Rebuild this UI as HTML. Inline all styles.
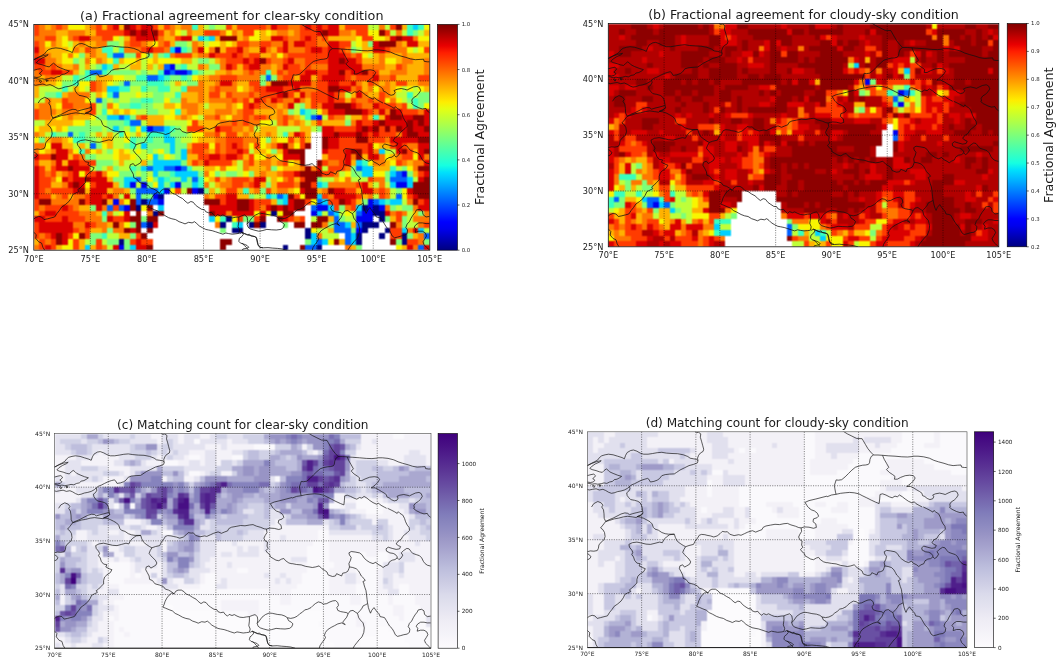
<!DOCTYPE html>
<html><head><meta charset="utf-8"><title>figure</title>
<style>html,body{margin:0;padding:0;background:#fff}svg{display:block}text{font-family:"DejaVu Sans","Liberation Sans",sans-serif;fill:#1a1a1a}</style></head><body>
<svg width="1064" height="671" viewBox="0 0 1064 671">
<rect width="1064" height="671" fill="#fff"/>
<defs>
<linearGradient id="gjet" x1="0" y1="0" x2="0" y2="1"><stop offset="0.000" stop-color="#800000"/><stop offset="0.031" stop-color="#9f0000"/><stop offset="0.062" stop-color="#c40000"/><stop offset="0.094" stop-color="#e80000"/><stop offset="0.125" stop-color="#ff1e00"/><stop offset="0.156" stop-color="#ff3b00"/><stop offset="0.188" stop-color="#ff5900"/><stop offset="0.219" stop-color="#ff7700"/><stop offset="0.250" stop-color="#ff9400"/><stop offset="0.281" stop-color="#ffb200"/><stop offset="0.312" stop-color="#ffd000"/><stop offset="0.344" stop-color="#feed00"/><stop offset="0.375" stop-color="#e4ff13"/><stop offset="0.406" stop-color="#caff2c"/><stop offset="0.438" stop-color="#b1ff46"/><stop offset="0.469" stop-color="#97ff60"/><stop offset="0.500" stop-color="#7dff7a"/><stop offset="0.531" stop-color="#63ff94"/><stop offset="0.562" stop-color="#49ffad"/><stop offset="0.594" stop-color="#30ffc7"/><stop offset="0.625" stop-color="#16ffe1"/><stop offset="0.656" stop-color="#00e0fb"/><stop offset="0.688" stop-color="#00c0ff"/><stop offset="0.719" stop-color="#00a0ff"/><stop offset="0.750" stop-color="#0080ff"/><stop offset="0.781" stop-color="#0060ff"/><stop offset="0.812" stop-color="#0040ff"/><stop offset="0.844" stop-color="#0020ff"/><stop offset="0.875" stop-color="#0000ff"/><stop offset="0.906" stop-color="#0000ed"/><stop offset="0.938" stop-color="#0000c8"/><stop offset="0.969" stop-color="#0000a4"/><stop offset="1.000" stop-color="#000080"/></linearGradient>
<linearGradient id="gPurples" x1="0" y1="0" x2="0" y2="1"><stop offset="0.000" stop-color="#3f007d"/><stop offset="0.031" stop-color="#440981"/><stop offset="0.062" stop-color="#491285"/><stop offset="0.094" stop-color="#4e1c8a"/><stop offset="0.125" stop-color="#53268f"/><stop offset="0.156" stop-color="#593093"/><stop offset="0.188" stop-color="#5e3b98"/><stop offset="0.219" stop-color="#64459e"/><stop offset="0.250" stop-color="#6950a3"/><stop offset="0.281" stop-color="#6f5ba8"/><stop offset="0.312" stop-color="#7566ae"/><stop offset="0.344" stop-color="#7a71b4"/><stop offset="0.375" stop-color="#807cba"/><stop offset="0.406" stop-color="#8784bd"/><stop offset="0.438" stop-color="#8e8bc1"/><stop offset="0.469" stop-color="#9692c4"/><stop offset="0.500" stop-color="#9e9ac8"/><stop offset="0.531" stop-color="#a5a2cd"/><stop offset="0.562" stop-color="#adabd2"/><stop offset="0.594" stop-color="#b4b4d7"/><stop offset="0.625" stop-color="#bcbddc"/><stop offset="0.656" stop-color="#c3c4e0"/><stop offset="0.688" stop-color="#cbcbe3"/><stop offset="0.719" stop-color="#d2d2e7"/><stop offset="0.750" stop-color="#dadaeb"/><stop offset="0.781" stop-color="#dfdfed"/><stop offset="0.812" stop-color="#e4e3f0"/><stop offset="0.844" stop-color="#eae8f2"/><stop offset="0.875" stop-color="#efedf5"/><stop offset="0.906" stop-color="#f2f0f7"/><stop offset="0.938" stop-color="#f5f4f9"/><stop offset="0.969" stop-color="#f9f7fb"/><stop offset="1.000" stop-color="#fcfbfd"/></linearGradient>
<filter id="bl" x="-2%" y="-2%" width="104%" height="104%" color-interpolation-filters="sRGB"><feConvolveMatrix order="3" kernelMatrix="1 2 1 2 4 2 1 2 1" divisor="16" edgeMode="duplicate" preserveAlpha="true"/></filter>
</defs>
<g id="panel-a">
<clipPath id="cqa"><rect x="33.80" y="24.40" width="396.00" height="225.80"/></clipPath>
<rect x="33.80" y="24.40" width="396.00" height="225.80" fill="#fff"/>
<g filter="url(#bl)" clip-path="url(#cqa)">
<rect x="30.80" y="21.40" width="402.00" height="231.80" fill="#fff"/>
<g shape-rendering="crispEdges" transform="translate(33.80 24.40) scale(5.65714 5.64500)">
<path fill="#ff3b00" d="M0 0h1v1h-1zM4 0h1v1h-1zM11 0h1v1h-1zM13 0h1v1h-1zM18 0h1v1h-1zM21 0h1v1h-1zM23 0h1v1h-1zM34 0h1v1h-1zM36 0h5v1h-5zM43 0h2v1h-2zM47 0h1v1h-1zM49 0h1v1h-1zM51 0h1v1h-1zM55 0h4v1h-4zM63 0h1v1h-1zM0 1h1v1h-1zM11 1h5v1h-5zM22 1h1v1h-1zM30 1h3v1h-3zM37 1h2v1h-2zM47 1h3v1h-3zM57 1h2v1h-2zM62 1h1v1h-1zM2 2h2v1h-2zM7 2h1v1h-1zM12 2h2v1h-2zM17 2h1v1h-1zM25 2h1v1h-1zM44 2h1v1h-1zM47 2h1v1h-1zM49 2h1v1h-1zM51 2h1v1h-1zM58 2h2v1h-2zM0 3h1v1h-1zM17 3h2v1h-2zM23 3h1v1h-1zM36 3h2v1h-2zM40 3h2v1h-2zM48 3h2v1h-2zM54 3h2v1h-2zM9 4h1v1h-1zM19 4h1v1h-1zM21 4h2v1h-2zM34 4h2v1h-2zM43 4h1v1h-1zM48 4h1v1h-1zM51 4h1v1h-1zM54 4h1v1h-1zM62 4h1v1h-1zM69 4h1v1h-1zM0 5h1v1h-1zM18 5h1v1h-1zM25 5h3v1h-3zM32 5h3v1h-3zM36 5h1v1h-1zM38 5h2v1h-2zM45 5h7v1h-7zM55 5h1v1h-1zM57 5h1v1h-1zM34 6h3v1h-3zM38 6h1v1h-1zM41 6h1v1h-1zM44 6h1v1h-1zM48 6h4v1h-4zM57 6h1v1h-1zM0 7h2v1h-2zM3 7h1v1h-1zM35 7h1v1h-1zM37 7h1v1h-1zM45 7h2v1h-2zM48 7h1v1h-1zM64 7h1v1h-1zM1 8h2v1h-2zM5 8h2v1h-2zM38 8h1v1h-1zM43 8h1v1h-1zM45 8h3v1h-3zM50 8h2v1h-2zM55 8h1v1h-1zM59 8h2v1h-2zM33 9h3v1h-3zM44 9h2v1h-2zM50 9h1v1h-1zM55 9h1v1h-1zM57 9h3v1h-3zM63 9h1v1h-1zM68 9h2v1h-2zM10 10h1v1h-1zM38 10h2v1h-2zM50 10h2v1h-2zM54 10h2v1h-2zM59 10h1v1h-1zM64 10h2v1h-2zM10 11h1v1h-1zM32 11h1v1h-1zM39 11h2v1h-2zM44 11h2v1h-2zM50 11h2v1h-2zM57 11h1v1h-1zM31 12h2v1h-2zM34 12h1v1h-1zM38 12h1v1h-1zM40 12h3v1h-3zM45 12h1v1h-1zM49 12h3v1h-3zM53 12h1v1h-1zM61 12h1v1h-1zM5 13h1v1h-1zM35 13h1v1h-1zM37 13h1v1h-1zM40 13h1v1h-1zM43 13h1v1h-1zM49 13h3v1h-3zM53 13h2v1h-2zM56 13h1v1h-1zM59 13h1v1h-1zM61 13h1v1h-1zM5 14h2v1h-2zM10 14h1v1h-1zM37 14h1v1h-1zM39 14h1v1h-1zM49 14h1v1h-1zM57 14h1v1h-1zM61 14h3v1h-3zM65 14h1v1h-1zM0 15h1v1h-1zM10 15h1v1h-1zM37 15h2v1h-2zM59 15h1v1h-1zM65 15h3v1h-3zM0 16h1v1h-1zM19 16h1v1h-1zM32 16h1v1h-1zM37 16h1v1h-1zM39 16h2v1h-2zM44 16h1v1h-1zM52 16h1v1h-1zM58 16h1v1h-1zM28 17h1v1h-1zM35 17h1v1h-1zM37 17h1v1h-1zM44 17h1v1h-1zM50 17h1v1h-1zM58 17h2v1h-2zM27 18h3v1h-3zM33 18h2v1h-2zM53 18h4v1h-4zM61 18h1v1h-1zM63 18h1v1h-1zM32 19h1v1h-1zM34 19h2v1h-2zM47 19h1v1h-1zM59 19h1v1h-1zM61 19h3v1h-3zM34 20h3v1h-3zM45 20h1v1h-1zM47 20h1v1h-1zM54 20h3v1h-3zM59 20h3v1h-3zM28 21h3v1h-3zM32 21h1v1h-1zM34 21h1v1h-1zM36 21h1v1h-1zM39 21h1v1h-1zM47 21h1v1h-1zM54 21h5v1h-5zM63 21h1v1h-1zM65 21h1v1h-1zM28 22h2v1h-2zM32 22h1v1h-1zM34 22h2v1h-2zM37 22h1v1h-1zM52 22h3v1h-3zM58 22h1v1h-1zM66 22h1v1h-1zM1 23h2v1h-2zM7 23h1v1h-1zM29 23h2v1h-2zM33 23h1v1h-1zM36 23h1v1h-1zM38 23h1v1h-1zM52 23h3v1h-3zM65 23h2v1h-2zM0 24h1v1h-1zM8 24h3v1h-3zM28 24h1v1h-1zM31 24h4v1h-4zM38 24h1v1h-1zM44 24h1v1h-1zM51 24h1v1h-1zM54 24h1v1h-1zM64 24h1v1h-1zM1 25h1v1h-1zM3 25h1v1h-1zM52 25h3v1h-3zM1 26h1v1h-1zM3 26h1v1h-1zM6 26h1v1h-1zM9 26h2v1h-2zM44 26h2v1h-2zM51 26h2v1h-2zM68 26h1v1h-1zM1 27h2v1h-2zM6 27h1v1h-1zM32 27h1v1h-1zM35 27h3v1h-3zM45 27h1v1h-1zM47 27h1v1h-1zM59 27h1v1h-1zM1 28h2v1h-2zM10 28h1v1h-1zM35 28h2v1h-2zM38 28h1v1h-1zM43 28h3v1h-3zM49 28h1v1h-1zM57 28h1v1h-1zM1 29h1v1h-1zM3 29h4v1h-4zM25 29h1v1h-1zM34 29h2v1h-2zM41 29h1v1h-1zM55 29h2v1h-2zM61 29h1v1h-1zM1 30h2v1h-2zM5 30h1v1h-1zM9 30h1v1h-1zM12 30h1v1h-1zM32 30h2v1h-2zM46 30h1v1h-1zM51 30h1v1h-1zM57 30h1v1h-1zM61 30h1v1h-1zM66 30h1v1h-1zM0 31h1v1h-1zM9 31h1v1h-1zM33 31h1v1h-1zM39 31h3v1h-3zM48 31h1v1h-1zM52 31h2v1h-2zM56 31h1v1h-1zM68 31h1v1h-1zM0 32h1v1h-1zM2 32h3v1h-3zM6 32h1v1h-1zM14 32h1v1h-1zM39 32h1v1h-1zM53 32h1v1h-1zM56 32h1v1h-1zM1 33h1v1h-1zM4 33h4v1h-4zM64 33h1v1h-1zM2 34h3v1h-3zM6 34h3v1h-3zM14 34h2v1h-2zM36 34h1v1h-1zM39 34h1v1h-1zM45 34h1v1h-1zM47 34h1v1h-1zM64 34h1v1h-1zM0 35h1v1h-1zM10 35h1v1h-1zM69 35h1v1h-1zM0 36h1v1h-1zM7 36h1v1h-1zM9 36h1v1h-1zM63 36h2v1h-2zM0 37h1v1h-1zM2 37h1v1h-1zM6 37h1v1h-1zM9 37h1v1h-1zM18 37h1v1h-1zM63 37h2v1h-2zM1 38h1v1h-1zM3 38h1v1h-1zM7 38h1v1h-1zM11 38h1v1h-1zM17 38h1v1h-1zM19 38h2v1h-2zM66 38h2v1h-2zM1 39h1v1h-1zM3 39h1v1h-1zM7 39h1v1h-1zM11 39h1v1h-1z"/>
<path fill="#ff7700" d="M1 0h1v1h-1zM3 0h1v1h-1zM5 0h1v1h-1zM10 0h1v1h-1zM24 0h1v1h-1zM26 0h2v1h-2zM41 0h1v1h-1zM45 0h2v1h-2zM61 0h1v1h-1zM1 1h3v1h-3zM6 1h3v1h-3zM24 1h1v1h-1zM27 1h1v1h-1zM33 1h1v1h-1zM35 1h1v1h-1zM43 1h2v1h-2zM46 1h1v1h-1zM54 1h2v1h-2zM64 1h1v1h-1zM0 2h2v1h-2zM6 2h1v1h-1zM10 2h2v1h-2zM22 2h1v1h-1zM37 2h1v1h-1zM45 2h2v1h-2zM50 2h1v1h-1zM67 2h1v1h-1zM1 3h1v1h-1zM3 3h1v1h-1zM8 3h1v1h-1zM11 3h2v1h-2zM16 3h1v1h-1zM19 3h1v1h-1zM22 3h1v1h-1zM28 3h1v1h-1zM38 3h2v1h-2zM42 3h2v1h-2zM45 3h1v1h-1zM50 3h2v1h-2zM64 3h1v1h-1zM1 4h1v1h-1zM7 4h1v1h-1zM10 4h1v1h-1zM16 4h3v1h-3zM23 4h1v1h-1zM28 4h1v1h-1zM31 4h1v1h-1zM37 4h1v1h-1zM41 4h1v1h-1zM45 4h3v1h-3zM55 4h1v1h-1zM63 4h3v1h-3zM1 5h2v1h-2zM6 5h1v1h-1zM10 5h1v1h-1zM24 5h1v1h-1zM29 5h2v1h-2zM37 5h1v1h-1zM42 5h1v1h-1zM44 5h1v1h-1zM56 5h1v1h-1zM61 5h1v1h-1zM65 5h1v1h-1zM2 6h2v1h-2zM9 6h1v1h-1zM11 6h1v1h-1zM33 6h1v1h-1zM42 6h2v1h-2zM46 6h2v1h-2zM61 6h1v1h-1zM65 6h2v1h-2zM69 6h1v1h-1zM2 7h1v1h-1zM4 7h1v1h-1zM7 7h1v1h-1zM29 7h1v1h-1zM33 7h1v1h-1zM40 7h2v1h-2zM43 7h1v1h-1zM47 7h1v1h-1zM49 7h3v1h-3zM58 7h4v1h-4zM65 7h1v1h-1zM69 7h1v1h-1zM0 8h1v1h-1zM34 8h1v1h-1zM37 8h1v1h-1zM39 8h2v1h-2zM44 8h1v1h-1zM63 8h3v1h-3zM69 8h1v1h-1zM0 9h1v1h-1zM2 9h2v1h-2zM31 9h2v1h-2zM36 9h4v1h-4zM43 9h1v1h-1zM56 9h1v1h-1zM61 9h2v1h-2zM0 10h2v1h-2zM11 10h1v1h-1zM29 10h1v1h-1zM32 10h1v1h-1zM35 10h1v1h-1zM49 10h1v1h-1zM57 10h1v1h-1zM60 10h1v1h-1zM62 10h1v1h-1zM68 10h2v1h-2zM11 11h1v1h-1zM27 11h3v1h-3zM31 11h1v1h-1zM33 11h3v1h-3zM38 11h1v1h-1zM47 11h3v1h-3zM56 11h1v1h-1zM59 11h1v1h-1zM61 11h2v1h-2zM6 12h4v1h-4zM29 12h1v1h-1zM35 12h3v1h-3zM39 12h1v1h-1zM48 12h1v1h-1zM54 12h1v1h-1zM58 12h1v1h-1zM62 12h1v1h-1zM2 13h1v1h-1zM6 13h3v1h-3zM26 13h1v1h-1zM29 13h1v1h-1zM31 13h4v1h-4zM36 13h1v1h-1zM41 13h1v1h-1zM44 13h2v1h-2zM47 13h1v1h-1zM57 13h2v1h-2zM60 13h1v1h-1zM63 13h1v1h-1zM1 14h2v1h-2zM7 14h3v1h-3zM13 14h1v1h-1zM26 14h3v1h-3zM34 14h1v1h-1zM40 14h3v1h-3zM44 14h1v1h-1zM50 14h1v1h-1zM58 14h2v1h-2zM64 14h1v1h-1zM1 15h3v1h-3zM5 15h3v1h-3zM9 15h1v1h-1zM27 15h2v1h-2zM32 15h3v1h-3zM36 15h1v1h-1zM43 15h1v1h-1zM51 15h1v1h-1zM60 15h1v1h-1zM62 15h1v1h-1zM68 15h1v1h-1zM1 16h2v1h-2zM6 16h1v1h-1zM18 16h1v1h-1zM26 16h1v1h-1zM30 16h2v1h-2zM35 16h2v1h-2zM38 16h1v1h-1zM41 16h1v1h-1zM43 16h1v1h-1zM45 16h1v1h-1zM53 16h2v1h-2zM33 17h2v1h-2zM36 17h1v1h-1zM38 17h2v1h-2zM43 17h1v1h-1zM46 17h1v1h-1zM56 17h1v1h-1zM35 18h2v1h-2zM38 18h1v1h-1zM0 19h1v1h-1zM30 19h2v1h-2zM37 19h1v1h-1zM41 19h1v1h-1zM64 19h1v1h-1zM3 20h2v1h-2zM32 20h2v1h-2zM37 20h3v1h-3zM62 20h1v1h-1zM0 21h2v1h-2zM33 21h1v1h-1zM37 21h1v1h-1zM42 21h1v1h-1zM45 21h1v1h-1zM66 21h2v1h-2zM0 22h1v1h-1zM3 22h1v1h-1zM6 22h1v1h-1zM9 22h1v1h-1zM27 22h1v1h-1zM30 22h1v1h-1zM33 22h1v1h-1zM60 22h1v1h-1zM8 23h1v1h-1zM41 23h1v1h-1zM56 23h1v1h-1zM61 23h1v1h-1zM64 23h1v1h-1zM69 23h1v1h-1zM3 24h1v1h-1zM29 24h1v1h-1zM37 24h1v1h-1zM40 24h2v1h-2zM43 24h1v1h-1zM52 24h2v1h-2zM60 24h2v1h-2zM65 24h1v1h-1zM67 24h2v1h-2zM33 25h1v1h-1zM37 25h1v1h-1zM41 25h1v1h-1zM47 25h1v1h-1zM49 25h1v1h-1zM55 25h1v1h-1zM67 25h1v1h-1zM2 26h1v1h-1zM5 26h1v1h-1zM12 26h1v1h-1zM30 26h1v1h-1zM40 26h1v1h-1zM43 26h1v1h-1zM53 26h1v1h-1zM3 27h1v1h-1zM34 27h1v1h-1zM38 27h1v1h-1zM44 27h1v1h-1zM55 27h1v1h-1zM60 27h2v1h-2zM5 28h1v1h-1zM30 28h1v1h-1zM33 28h2v1h-2zM37 28h1v1h-1zM46 28h1v1h-1zM52 28h5v1h-5zM61 28h1v1h-1zM2 29h1v1h-1zM14 29h2v1h-2zM39 29h1v1h-1zM43 29h2v1h-2zM51 29h1v1h-1zM60 29h1v1h-1zM62 29h1v1h-1zM4 30h1v1h-1zM7 30h2v1h-2zM14 30h1v1h-1zM30 30h1v1h-1zM52 30h1v1h-1zM59 30h1v1h-1zM62 30h1v1h-1zM3 31h5v1h-5zM15 31h1v1h-1zM66 31h1v1h-1zM1 32h1v1h-1zM7 32h1v1h-1zM12 32h1v1h-1zM40 32h1v1h-1zM55 32h1v1h-1zM62 32h1v1h-1zM67 32h1v1h-1zM8 33h3v1h-3zM13 33h1v1h-1zM20 33h1v1h-1zM34 33h1v1h-1zM63 33h1v1h-1zM65 33h1v1h-1zM69 33h1v1h-1zM9 34h3v1h-3zM46 34h1v1h-1zM67 34h3v1h-3zM7 35h2v1h-2zM11 35h2v1h-2zM15 35h1v1h-1zM32 35h1v1h-1zM51 35h1v1h-1zM64 35h1v1h-1zM68 35h1v1h-1zM8 36h1v1h-1zM12 36h1v1h-1zM14 36h2v1h-2zM66 36h1v1h-1zM1 37h1v1h-1zM50 37h1v1h-1zM68 37h1v1h-1zM2 38h1v1h-1zM68 38h1v1h-1zM0 39h1v1h-1zM12 39h1v1h-1zM55 39h1v1h-1zM67 39h1v1h-1z"/>
<path fill="#ffb200" d="M2 0h1v1h-1zM9 0h1v1h-1zM12 0h1v1h-1zM15 0h1v1h-1zM22 0h1v1h-1zM25 0h1v1h-1zM29 0h1v1h-1zM35 0h1v1h-1zM54 0h1v1h-1zM65 0h1v1h-1zM4 1h2v1h-2zM9 1h2v1h-2zM23 1h1v1h-1zM28 1h2v1h-2zM36 1h1v1h-1zM40 1h1v1h-1zM42 1h1v1h-1zM45 1h1v1h-1zM56 1h1v1h-1zM69 1h1v1h-1zM4 2h1v1h-1zM16 2h1v1h-1zM23 2h2v1h-2zM32 2h1v1h-1zM36 2h1v1h-1zM40 2h2v1h-2zM52 2h5v1h-5zM62 2h1v1h-1zM4 3h1v1h-1zM7 3h1v1h-1zM9 3h2v1h-2zM20 3h1v1h-1zM24 3h1v1h-1zM29 3h1v1h-1zM33 3h1v1h-1zM35 3h1v1h-1zM58 3h1v1h-1zM65 3h1v1h-1zM68 3h2v1h-2zM2 4h4v1h-4zM8 4h1v1h-1zM11 4h1v1h-1zM33 4h1v1h-1zM38 4h2v1h-2zM42 4h1v1h-1zM58 4h2v1h-2zM3 5h2v1h-2zM9 5h1v1h-1zM11 5h2v1h-2zM21 5h1v1h-1zM28 5h1v1h-1zM40 5h2v1h-2zM60 5h1v1h-1zM62 5h3v1h-3zM66 5h4v1h-4zM4 6h1v1h-1zM12 6h1v1h-1zM15 6h1v1h-1zM18 6h1v1h-1zM21 6h1v1h-1zM26 6h2v1h-2zM32 6h1v1h-1zM58 6h3v1h-3zM64 6h1v1h-1zM67 6h2v1h-2zM5 7h2v1h-2zM9 7h1v1h-1zM14 7h1v1h-1zM17 7h2v1h-2zM20 7h1v1h-1zM22 7h1v1h-1zM30 7h1v1h-1zM36 7h1v1h-1zM42 7h1v1h-1zM62 7h2v1h-2zM66 7h3v1h-3zM7 8h1v1h-1zM32 8h2v1h-2zM35 8h2v1h-2zM42 8h1v1h-1zM61 8h2v1h-2zM66 8h3v1h-3zM1 9h1v1h-1zM4 9h1v1h-1zM11 9h3v1h-3zM29 9h2v1h-2zM46 9h1v1h-1zM49 9h1v1h-1zM64 9h4v1h-4zM2 10h2v1h-2zM12 10h1v1h-1zM25 10h1v1h-1zM30 10h2v1h-2zM36 10h2v1h-2zM41 10h1v1h-1zM58 10h1v1h-1zM61 10h1v1h-1zM63 10h1v1h-1zM66 10h2v1h-2zM0 11h1v1h-1zM7 11h1v1h-1zM12 11h1v1h-1zM30 11h1v1h-1zM37 11h1v1h-1zM58 11h1v1h-1zM63 11h1v1h-1zM69 11h1v1h-1zM0 12h1v1h-1zM5 12h1v1h-1zM11 12h1v1h-1zM26 12h3v1h-3zM30 12h1v1h-1zM33 12h1v1h-1zM46 12h1v1h-1zM56 12h1v1h-1zM59 12h2v1h-2zM63 12h1v1h-1zM3 13h2v1h-2zM27 13h2v1h-2zM30 13h1v1h-1zM38 13h1v1h-1zM48 13h1v1h-1zM55 13h1v1h-1zM0 14h1v1h-1zM3 14h1v1h-1zM23 14h2v1h-2zM29 14h1v1h-1zM31 14h3v1h-3zM35 14h1v1h-1zM43 14h1v1h-1zM48 14h1v1h-1zM4 15h1v1h-1zM8 15h1v1h-1zM14 15h1v1h-1zM16 15h1v1h-1zM26 15h1v1h-1zM29 15h3v1h-3zM35 15h1v1h-1zM39 15h4v1h-4zM44 15h1v1h-1zM3 16h1v1h-1zM5 16h1v1h-1zM7 16h3v1h-3zM20 16h3v1h-3zM25 16h1v1h-1zM27 16h1v1h-1zM33 16h1v1h-1zM42 16h1v1h-1zM46 16h1v1h-1zM56 16h2v1h-2zM59 16h1v1h-1zM61 16h1v1h-1zM2 17h5v1h-5zM20 17h3v1h-3zM29 17h4v1h-4zM45 17h1v1h-1zM47 17h1v1h-1zM49 17h1v1h-1zM51 17h4v1h-4zM1 18h2v1h-2zM4 18h1v1h-1zM30 18h2v1h-2zM37 18h1v1h-1zM40 18h3v1h-3zM47 18h2v1h-2zM1 19h1v1h-1zM11 19h1v1h-1zM13 19h1v1h-1zM18 19h1v1h-1zM33 19h1v1h-1zM36 19h1v1h-1zM38 19h3v1h-3zM42 19h1v1h-1zM45 19h1v1h-1zM48 19h1v1h-1zM2 20h1v1h-1zM5 20h1v1h-1zM12 20h2v1h-2zM29 20h3v1h-3zM42 20h1v1h-1zM46 20h1v1h-1zM48 20h1v1h-1zM5 21h2v1h-2zM8 21h1v1h-1zM13 21h1v1h-1zM27 21h1v1h-1zM41 21h1v1h-1zM61 21h2v1h-2zM2 22h1v1h-1zM11 22h1v1h-1zM15 22h1v1h-1zM31 22h1v1h-1zM39 22h2v1h-2zM43 22h1v1h-1zM67 22h1v1h-1zM6 23h1v1h-1zM15 23h2v1h-2zM27 23h2v1h-2zM37 23h1v1h-1zM42 23h1v1h-1zM51 23h1v1h-1zM58 23h1v1h-1zM63 23h1v1h-1zM1 24h2v1h-2zM5 24h1v1h-1zM15 24h1v1h-1zM19 24h1v1h-1zM27 24h1v1h-1zM35 24h1v1h-1zM39 24h1v1h-1zM42 24h1v1h-1zM46 24h1v1h-1zM56 24h1v1h-1zM62 24h1v1h-1zM66 24h1v1h-1zM2 25h1v1h-1zM13 25h1v1h-1zM30 25h2v1h-2zM38 25h3v1h-3zM44 25h3v1h-3zM60 25h3v1h-3zM4 26h1v1h-1zM39 26h1v1h-1zM41 26h2v1h-2zM67 26h1v1h-1zM13 27h1v1h-1zM31 27h1v1h-1zM33 27h1v1h-1zM42 27h1v1h-1zM46 27h1v1h-1zM53 27h1v1h-1zM3 28h2v1h-2zM14 28h1v1h-1zM32 28h1v1h-1zM40 28h1v1h-1zM42 28h1v1h-1zM59 28h1v1h-1zM9 29h1v1h-1zM13 29h1v1h-1zM16 29h1v1h-1zM31 29h1v1h-1zM33 29h1v1h-1zM36 29h1v1h-1zM38 29h1v1h-1zM42 29h1v1h-1zM45 29h1v1h-1zM50 29h1v1h-1zM57 29h1v1h-1zM3 30h1v1h-1zM6 30h1v1h-1zM31 30h1v1h-1zM36 30h2v1h-2zM58 30h1v1h-1zM13 31h1v1h-1zM42 31h1v1h-1zM57 31h1v1h-1zM8 32h2v1h-2zM0 33h1v1h-1zM11 33h1v1h-1zM67 33h1v1h-1zM52 34h1v1h-1zM63 34h1v1h-1zM13 35h1v1h-1zM56 35h1v1h-1zM10 36h2v1h-2zM52 36h1v1h-1zM15 37h2v1h-2zM67 37h1v1h-1zM0 38h1v1h-1zM8 38h1v1h-1zM54 38h1v1h-1zM4 39h1v1h-1zM8 39h1v1h-1zM10 39h1v1h-1zM56 39h1v1h-1zM65 39h1v1h-1z"/>
<path fill="#f8f500" d="M6 0h3v1h-3zM69 0h1v1h-1zM25 1h1v1h-1zM34 1h1v1h-1zM39 1h1v1h-1zM41 1h1v1h-1zM59 1h2v1h-2zM5 2h1v1h-1zM14 2h1v1h-1zM38 2h2v1h-2zM57 2h1v1h-1zM60 2h2v1h-2zM68 2h2v1h-2zM2 3h1v1h-1zM5 3h1v1h-1zM21 3h1v1h-1zM31 3h2v1h-2zM34 3h1v1h-1zM57 3h1v1h-1zM6 4h1v1h-1zM30 4h1v1h-1zM66 4h1v1h-1zM68 4h1v1h-1zM5 5h1v1h-1zM7 5h1v1h-1zM19 5h1v1h-1zM43 5h1v1h-1zM58 5h1v1h-1zM5 6h2v1h-2zM10 6h1v1h-1zM13 6h1v1h-1zM16 6h2v1h-2zM20 6h1v1h-1zM22 6h4v1h-4zM62 6h2v1h-2zM14 9h2v1h-2zM28 9h1v1h-1zM4 10h1v1h-1zM8 10h2v1h-2zM13 10h1v1h-1zM8 11h1v1h-1zM36 11h1v1h-1zM60 11h1v1h-1zM64 11h1v1h-1zM66 11h1v1h-1zM68 11h1v1h-1zM12 12h1v1h-1zM18 12h1v1h-1zM9 13h1v1h-1zM23 13h1v1h-1zM62 13h1v1h-1zM64 13h1v1h-1zM4 14h1v1h-1zM14 14h1v1h-1zM25 14h1v1h-1zM36 14h1v1h-1zM69 14h1v1h-1zM13 15h1v1h-1zM15 15h1v1h-1zM17 15h1v1h-1zM24 15h1v1h-1zM50 15h1v1h-1zM4 16h1v1h-1zM10 16h1v1h-1zM23 16h2v1h-2zM28 16h1v1h-1zM34 16h1v1h-1zM7 17h2v1h-2zM27 17h1v1h-1zM40 17h2v1h-2zM0 18h1v1h-1zM3 18h1v1h-1zM5 18h1v1h-1zM18 18h1v1h-1zM16 19h1v1h-1zM28 19h2v1h-2zM0 20h1v1h-1zM6 20h1v1h-1zM16 20h1v1h-1zM28 20h1v1h-1zM40 20h1v1h-1zM43 20h2v1h-2zM2 21h1v1h-1zM12 21h1v1h-1zM31 21h1v1h-1zM38 21h1v1h-1zM40 21h1v1h-1zM46 21h1v1h-1zM60 21h1v1h-1zM1 22h1v1h-1zM7 22h1v1h-1zM10 22h1v1h-1zM14 22h1v1h-1zM16 22h1v1h-1zM18 22h1v1h-1zM22 22h1v1h-1zM41 22h1v1h-1zM14 23h1v1h-1zM17 23h1v1h-1zM20 23h1v1h-1zM23 23h1v1h-1zM39 23h2v1h-2zM43 23h1v1h-1zM62 23h1v1h-1zM67 23h1v1h-1zM45 24h1v1h-1zM59 24h1v1h-1zM63 24h1v1h-1zM32 25h1v1h-1zM34 25h2v1h-2zM43 25h1v1h-1zM66 25h1v1h-1zM8 26h1v1h-1zM13 26h2v1h-2zM31 26h1v1h-1zM37 26h1v1h-1zM55 26h1v1h-1zM60 26h2v1h-2zM4 27h1v1h-1zM20 27h1v1h-1zM30 27h1v1h-1zM43 27h1v1h-1zM54 27h1v1h-1zM9 28h1v1h-1zM21 28h1v1h-1zM24 29h1v1h-1zM46 29h1v1h-1zM65 29h1v1h-1zM47 30h1v1h-1zM65 30h1v1h-1zM16 31h1v1h-1zM49 31h1v1h-1zM19 32h1v1h-1zM15 33h1v1h-1zM39 33h1v1h-1zM41 33h1v1h-1zM43 33h1v1h-1zM55 33h1v1h-1zM32 34h1v1h-1zM35 34h1v1h-1zM16 35h1v1h-1zM49 36h1v1h-1zM7 37h1v1h-1zM6 38h1v1h-1zM52 38h1v1h-1zM5 39h2v1h-2zM64 39h1v1h-1z"/>
<path fill="#da0000" d="M14 0h1v1h-1zM17 0h1v1h-1zM19 0h2v1h-2zM42 0h1v1h-1zM48 0h1v1h-1zM50 0h1v1h-1zM52 0h2v1h-2zM16 1h1v1h-1zM18 1h1v1h-1zM20 1h1v1h-1zM50 1h1v1h-1zM52 1h2v1h-2zM8 2h2v1h-2zM18 2h4v1h-4zM26 2h2v1h-2zM42 2h2v1h-2zM48 2h1v1h-1zM63 2h1v1h-1zM65 2h2v1h-2zM44 3h1v1h-1zM46 3h2v1h-2zM52 3h2v1h-2zM60 3h1v1h-1zM66 3h2v1h-2zM0 4h1v1h-1zM20 4h1v1h-1zM29 4h1v1h-1zM36 4h1v1h-1zM40 4h1v1h-1zM44 4h1v1h-1zM49 4h2v1h-2zM52 4h2v1h-2zM60 4h2v1h-2zM31 5h1v1h-1zM35 5h1v1h-1zM52 5h3v1h-3zM0 6h2v1h-2zM37 6h1v1h-1zM39 6h1v1h-1zM45 6h1v1h-1zM52 6h2v1h-2zM55 6h2v1h-2zM34 7h1v1h-1zM38 7h2v1h-2zM44 7h1v1h-1zM52 7h6v1h-6zM3 8h2v1h-2zM48 8h2v1h-2zM52 8h2v1h-2zM56 8h2v1h-2zM47 9h2v1h-2zM51 9h4v1h-4zM60 9h1v1h-1zM33 10h2v1h-2zM45 10h4v1h-4zM52 10h2v1h-2zM56 10h1v1h-1zM41 11h3v1h-3zM46 11h1v1h-1zM54 11h2v1h-2zM43 12h1v1h-1zM47 12h1v1h-1zM52 12h1v1h-1zM57 12h1v1h-1zM39 13h1v1h-1zM42 13h1v1h-1zM46 13h1v1h-1zM52 13h1v1h-1zM38 14h1v1h-1zM45 14h1v1h-1zM51 14h2v1h-2zM56 14h1v1h-1zM60 14h1v1h-1zM52 15h3v1h-3zM58 15h1v1h-1zM61 15h1v1h-1zM64 15h1v1h-1zM69 15h1v1h-1zM62 16h1v1h-1zM65 16h2v1h-2zM69 16h1v1h-1zM57 17h1v1h-1zM60 17h1v1h-1zM62 17h4v1h-4zM67 17h1v1h-1zM69 17h1v1h-1zM32 18h1v1h-1zM51 18h2v1h-2zM57 18h1v1h-1zM59 18h1v1h-1zM65 18h1v1h-1zM67 18h2v1h-2zM46 19h1v1h-1zM51 19h2v1h-2zM54 19h3v1h-3zM58 19h1v1h-1zM60 19h1v1h-1zM65 19h1v1h-1zM68 19h2v1h-2zM52 20h2v1h-2zM63 20h5v1h-5zM3 21h2v1h-2zM35 21h1v1h-1zM43 21h1v1h-1zM52 21h2v1h-2zM59 21h1v1h-1zM64 21h1v1h-1zM68 21h2v1h-2zM4 22h2v1h-2zM36 22h1v1h-1zM44 22h1v1h-1zM51 22h1v1h-1zM55 22h1v1h-1zM59 22h1v1h-1zM64 22h1v1h-1zM68 22h1v1h-1zM0 23h1v1h-1zM4 23h2v1h-2zM31 23h2v1h-2zM34 23h2v1h-2zM44 23h3v1h-3zM55 23h1v1h-1zM59 23h2v1h-2zM68 23h1v1h-1zM4 24h1v1h-1zM6 24h2v1h-2zM30 24h1v1h-1zM55 24h1v1h-1zM69 24h1v1h-1zM0 25h1v1h-1zM4 25h2v1h-2zM7 25h3v1h-3zM50 25h1v1h-1zM0 26h1v1h-1zM7 26h1v1h-1zM11 26h1v1h-1zM46 26h1v1h-1zM69 26h1v1h-1zM0 27h1v1h-1zM5 27h1v1h-1zM7 27h2v1h-2zM10 27h3v1h-3zM39 27h2v1h-2zM68 27h1v1h-1zM0 28h1v1h-1zM6 28h1v1h-1zM8 28h1v1h-1zM11 28h3v1h-3zM39 28h1v1h-1zM58 28h1v1h-1zM0 29h1v1h-1zM7 29h1v1h-1zM10 29h3v1h-3zM47 29h1v1h-1zM53 29h2v1h-2zM58 29h2v1h-2zM66 29h1v1h-1zM0 30h1v1h-1zM10 30h2v1h-2zM13 30h1v1h-1zM16 30h1v1h-1zM34 30h2v1h-2zM53 30h4v1h-4zM67 30h1v1h-1zM10 31h2v1h-2zM34 31h2v1h-2zM38 31h1v1h-1zM45 31h1v1h-1zM55 31h1v1h-1zM69 31h1v1h-1zM5 32h1v1h-1zM11 32h1v1h-1zM31 32h5v1h-5zM38 32h1v1h-1zM41 32h1v1h-1zM43 32h1v1h-1zM45 32h1v1h-1zM68 32h2v1h-2zM2 33h2v1h-2zM16 33h1v1h-1zM32 33h2v1h-2zM35 33h4v1h-4zM40 33h1v1h-1zM62 33h1v1h-1zM0 34h2v1h-2zM5 34h1v1h-1zM13 34h1v1h-1zM16 34h1v1h-1zM44 34h1v1h-1zM1 35h6v1h-6zM9 35h1v1h-1zM21 35h1v1h-1zM1 36h6v1h-6zM17 36h1v1h-1zM67 36h1v1h-1zM3 37h1v1h-1zM5 37h1v1h-1zM5 38h1v1h-1zM18 38h1v1h-1zM2 39h1v1h-1zM14 39h1v1h-1zM18 39h2v1h-2zM66 39h1v1h-1zM69 39h1v1h-1z"/>
<path fill="#8d0000" d="M16 0h1v1h-1zM64 0h1v1h-1zM17 1h1v1h-1zM19 1h1v1h-1zM21 1h1v1h-1zM51 1h1v1h-1zM61 1h1v1h-1zM33 2h3v1h-3zM64 2h1v1h-1zM61 3h3v1h-3zM32 4h1v1h-1zM40 6h1v1h-1zM54 6h1v1h-1zM54 8h1v1h-1zM58 8h1v1h-1zM42 10h3v1h-3zM52 11h2v1h-2zM44 12h1v1h-1zM53 14h3v1h-3zM55 15h3v1h-3zM63 15h1v1h-1zM63 16h2v1h-2zM67 16h2v1h-2zM61 17h1v1h-1zM66 17h1v1h-1zM68 17h1v1h-1zM58 18h1v1h-1zM60 18h1v1h-1zM62 18h1v1h-1zM64 18h1v1h-1zM66 18h1v1h-1zM69 18h1v1h-1zM53 19h1v1h-1zM57 19h1v1h-1zM66 19h2v1h-2zM51 20h1v1h-1zM57 20h2v1h-2zM68 20h2v1h-2zM44 21h1v1h-1zM48 21h1v1h-1zM51 21h1v1h-1zM45 22h3v1h-3zM56 22h2v1h-2zM65 22h1v1h-1zM69 22h1v1h-1zM3 23h1v1h-1zM47 23h1v1h-1zM57 23h1v1h-1zM47 24h1v1h-1zM50 24h1v1h-1zM6 25h1v1h-1zM48 25h1v1h-1zM68 25h2v1h-2zM47 26h4v1h-4zM9 27h1v1h-1zM48 27h2v1h-2zM69 27h1v1h-1zM7 28h1v1h-1zM47 28h2v1h-2zM67 28h3v1h-3zM8 29h1v1h-1zM27 29h1v1h-1zM48 29h2v1h-2zM52 29h1v1h-1zM67 29h3v1h-3zM45 30h1v1h-1zM48 30h2v1h-2zM68 30h2v1h-2zM1 31h2v1h-2zM8 31h1v1h-1zM12 31h1v1h-1zM17 31h1v1h-1zM30 31h3v1h-3zM36 31h2v1h-2zM46 31h2v1h-2zM54 31h1v1h-1zM67 31h1v1h-1zM17 32h1v1h-1zM20 32h1v1h-1zM36 32h2v1h-2zM42 32h1v1h-1zM44 32h1v1h-1zM46 32h2v1h-2zM18 33h1v1h-1zM22 33h1v1h-1zM31 33h1v1h-1zM44 33h2v1h-2zM17 34h2v1h-2zM20 34h2v1h-2zM40 34h1v1h-1zM43 34h1v1h-1zM50 34h2v1h-2zM14 35h1v1h-1zM18 35h1v1h-1zM39 35h1v1h-1zM46 35h2v1h-2zM49 35h2v1h-2zM63 35h1v1h-1zM16 36h1v1h-1zM18 36h1v1h-1zM20 36h1v1h-1zM4 37h1v1h-1zM8 37h1v1h-1zM19 37h1v1h-1zM4 38h1v1h-1zM33 38h2v1h-2zM53 38h1v1h-1zM63 38h1v1h-1zM20 39h1v1h-1zM33 39h1v1h-1zM47 39h1v1h-1z"/>
<path fill="#39ffbe" d="M28 0h1v1h-1zM66 0h1v1h-1zM68 0h1v1h-1zM66 1h1v1h-1zM30 2h1v1h-1zM12 4h2v1h-2zM15 4h1v1h-1zM26 4h1v1h-1zM13 5h1v1h-1zM23 5h1v1h-1zM14 6h1v1h-1zM13 7h1v1h-1zM26 7h1v1h-1zM9 8h1v1h-1zM12 8h1v1h-1zM22 8h1v1h-1zM28 8h1v1h-1zM41 8h1v1h-1zM7 9h1v1h-1zM9 9h1v1h-1zM18 9h2v1h-2zM23 9h1v1h-1zM26 9h1v1h-1zM7 10h1v1h-1zM20 10h3v1h-3zM5 11h1v1h-1zM15 11h2v1h-2zM19 11h1v1h-1zM22 11h2v1h-2zM26 11h1v1h-1zM4 12h1v1h-1zM13 12h1v1h-1zM25 12h1v1h-1zM66 12h1v1h-1zM19 13h2v1h-2zM67 13h1v1h-1zM17 14h2v1h-2zM67 14h1v1h-1zM12 15h1v1h-1zM25 15h1v1h-1zM48 15h1v1h-1zM48 16h1v1h-1zM60 16h1v1h-1zM16 17h1v1h-1zM17 18h1v1h-1zM24 18h1v1h-1zM3 19h1v1h-1zM8 19h1v1h-1zM15 19h1v1h-1zM20 19h3v1h-3zM44 19h1v1h-1zM7 20h2v1h-2zM17 20h1v1h-1zM20 20h1v1h-1zM17 21h1v1h-1zM8 22h1v1h-1zM58 24h1v1h-1zM17 25h1v1h-1zM27 25h1v1h-1zM63 25h1v1h-1zM24 26h1v1h-1zM23 27h1v1h-1zM29 27h1v1h-1zM29 28h1v1h-1zM51 28h1v1h-1zM37 29h1v1h-1zM42 30h1v1h-1zM43 31h1v1h-1zM62 31h1v1h-1zM12 33h1v1h-1zM33 34h1v1h-1zM35 35h1v1h-1zM12 37h1v1h-1z"/>
<path fill="#beff39" d="M30 0h1v1h-1zM32 0h2v1h-2zM59 0h2v1h-2zM62 0h1v1h-1zM26 1h1v1h-1zM63 1h1v1h-1zM65 1h1v1h-1zM68 1h1v1h-1zM15 2h1v1h-1zM28 2h1v1h-1zM6 3h1v1h-1zM15 3h1v1h-1zM27 3h1v1h-1zM30 3h1v1h-1zM56 3h1v1h-1zM14 4h1v1h-1zM57 4h1v1h-1zM67 4h1v1h-1zM59 5h1v1h-1zM8 6h1v1h-1zM19 6h1v1h-1zM28 6h1v1h-1zM31 6h1v1h-1zM8 7h1v1h-1zM10 7h1v1h-1zM15 7h2v1h-2zM19 7h1v1h-1zM21 7h1v1h-1zM27 7h2v1h-2zM8 8h1v1h-1zM18 8h1v1h-1zM20 8h2v1h-2zM30 8h2v1h-2zM5 9h2v1h-2zM16 9h2v1h-2zM14 10h1v1h-1zM24 10h1v1h-1zM26 10h1v1h-1zM1 11h4v1h-4zM6 11h1v1h-1zM9 11h1v1h-1zM17 11h2v1h-2zM24 11h2v1h-2zM65 11h1v1h-1zM67 11h1v1h-1zM1 12h1v1h-1zM10 12h1v1h-1zM15 12h3v1h-3zM19 12h2v1h-2zM23 12h2v1h-2zM55 12h1v1h-1zM64 12h2v1h-2zM67 12h1v1h-1zM0 13h2v1h-2zM10 13h1v1h-1zM13 13h1v1h-1zM15 13h2v1h-2zM65 13h1v1h-1zM11 14h1v1h-1zM21 14h2v1h-2zM30 14h1v1h-1zM46 14h1v1h-1zM66 14h1v1h-1zM11 15h1v1h-1zM18 15h2v1h-2zM22 15h2v1h-2zM46 15h1v1h-1zM29 16h1v1h-1zM47 16h1v1h-1zM51 16h1v1h-1zM55 16h1v1h-1zM0 17h2v1h-2zM10 17h3v1h-3zM19 17h1v1h-1zM23 17h4v1h-4zM42 17h1v1h-1zM48 17h1v1h-1zM12 18h1v1h-1zM16 18h1v1h-1zM26 18h1v1h-1zM39 18h1v1h-1zM43 18h4v1h-4zM49 18h1v1h-1zM2 19h1v1h-1zM10 19h1v1h-1zM12 19h1v1h-1zM14 19h1v1h-1zM17 19h1v1h-1zM19 19h1v1h-1zM27 19h1v1h-1zM43 19h1v1h-1zM11 20h1v1h-1zM14 20h2v1h-2zM26 20h2v1h-2zM7 21h1v1h-1zM9 21h1v1h-1zM14 21h2v1h-2zM18 21h1v1h-1zM12 22h1v1h-1zM17 22h1v1h-1zM19 22h1v1h-1zM21 22h1v1h-1zM38 22h1v1h-1zM62 22h2v1h-2zM11 23h3v1h-3zM18 23h2v1h-2zM24 23h1v1h-1zM14 24h1v1h-1zM16 24h3v1h-3zM36 24h1v1h-1zM10 25h1v1h-1zM12 25h1v1h-1zM15 25h2v1h-2zM28 25h2v1h-2zM36 25h1v1h-1zM51 25h1v1h-1zM64 25h1v1h-1zM18 26h1v1h-1zM20 26h1v1h-1zM33 26h1v1h-1zM36 26h1v1h-1zM54 26h1v1h-1zM41 27h1v1h-1zM51 27h2v1h-2zM56 27h3v1h-3zM67 27h1v1h-1zM18 28h1v1h-1zM31 28h1v1h-1zM60 28h1v1h-1zM62 28h1v1h-1zM26 29h1v1h-1zM32 29h1v1h-1zM63 29h1v1h-1zM15 30h1v1h-1zM17 30h1v1h-1zM39 30h2v1h-2zM60 30h1v1h-1zM63 30h1v1h-1zM65 31h1v1h-1zM64 32h1v1h-1zM14 33h1v1h-1zM51 33h1v1h-1zM54 33h1v1h-1zM56 33h1v1h-1zM66 33h1v1h-1zM49 34h1v1h-1zM55 34h2v1h-2zM66 34h1v1h-1zM66 35h2v1h-2zM50 36h2v1h-2zM69 36h1v1h-1zM13 37h2v1h-2zM51 37h3v1h-3zM9 38h1v1h-1zM12 38h1v1h-1zM13 39h1v1h-1z"/>
<path fill="#7dff7a" d="M31 0h1v1h-1zM67 1h1v1h-1zM13 3h2v1h-2zM25 3h2v1h-2zM59 3h1v1h-1zM27 4h1v1h-1zM56 4h1v1h-1zM8 5h1v1h-1zM16 5h2v1h-2zM20 5h1v1h-1zM22 5h1v1h-1zM7 6h1v1h-1zM29 6h2v1h-2zM11 7h1v1h-1zM25 7h1v1h-1zM31 7h2v1h-2zM13 8h5v1h-5zM19 8h1v1h-1zM29 8h1v1h-1zM8 9h1v1h-1zM10 9h1v1h-1zM24 9h2v1h-2zM27 9h1v1h-1zM40 9h1v1h-1zM42 9h1v1h-1zM5 10h2v1h-2zM15 10h1v1h-1zM17 10h3v1h-3zM23 10h1v1h-1zM27 10h2v1h-2zM40 10h1v1h-1zM20 11h2v1h-2zM2 12h2v1h-2zM21 12h2v1h-2zM68 12h2v1h-2zM12 13h1v1h-1zM14 13h1v1h-1zM17 13h2v1h-2zM21 13h2v1h-2zM24 13h2v1h-2zM66 13h1v1h-1zM68 13h2v1h-2zM12 14h1v1h-1zM15 14h2v1h-2zM19 14h2v1h-2zM47 14h1v1h-1zM68 14h1v1h-1zM20 15h2v1h-2zM45 15h1v1h-1zM49 15h1v1h-1zM11 16h2v1h-2zM17 16h1v1h-1zM9 17h1v1h-1zM13 17h3v1h-3zM55 17h1v1h-1zM6 18h6v1h-6zM13 18h1v1h-1zM15 18h1v1h-1zM25 18h1v1h-1zM50 18h1v1h-1zM4 19h2v1h-2zM7 19h1v1h-1zM9 19h1v1h-1zM24 19h3v1h-3zM1 20h1v1h-1zM9 20h2v1h-2zM18 20h2v1h-2zM21 20h2v1h-2zM25 20h1v1h-1zM41 20h1v1h-1zM11 21h1v1h-1zM16 21h1v1h-1zM20 21h4v1h-4zM25 21h2v1h-2zM13 22h1v1h-1zM20 22h1v1h-1zM23 22h1v1h-1zM25 22h1v1h-1zM42 22h1v1h-1zM9 23h2v1h-2zM22 23h1v1h-1zM25 23h1v1h-1zM11 24h3v1h-3zM20 24h1v1h-1zM26 24h1v1h-1zM11 25h1v1h-1zM14 25h1v1h-1zM18 25h1v1h-1zM42 25h1v1h-1zM56 25h1v1h-1zM65 25h1v1h-1zM15 26h3v1h-3zM19 26h1v1h-1zM22 26h2v1h-2zM29 26h1v1h-1zM32 26h1v1h-1zM34 26h2v1h-2zM38 26h1v1h-1zM56 26h2v1h-2zM62 26h1v1h-1zM66 26h1v1h-1zM14 27h2v1h-2zM19 27h1v1h-1zM21 27h1v1h-1zM24 27h2v1h-2zM27 27h1v1h-1zM50 27h1v1h-1zM62 27h1v1h-1zM15 28h1v1h-1zM20 28h1v1h-1zM23 28h1v1h-1zM26 28h2v1h-2zM41 28h1v1h-1zM17 29h1v1h-1zM30 29h1v1h-1zM40 29h1v1h-1zM64 29h1v1h-1zM19 30h2v1h-2zM38 30h1v1h-1zM58 31h1v1h-1zM10 32h1v1h-1zM54 32h1v1h-1zM63 32h1v1h-1zM65 32h2v1h-2zM68 33h1v1h-1zM12 34h1v1h-1zM19 34h1v1h-1zM37 34h2v1h-2zM54 34h1v1h-1zM62 34h1v1h-1zM65 34h1v1h-1zM17 35h1v1h-1zM44 35h1v1h-1zM52 35h1v1h-1zM65 35h1v1h-1zM13 36h1v1h-1zM33 36h1v1h-1zM56 36h1v1h-1zM10 37h2v1h-2zM17 37h1v1h-1zM66 37h1v1h-1zM10 38h1v1h-1zM13 38h2v1h-2zM16 38h1v1h-1zM48 38h1v1h-1zM64 38h1v1h-1zM69 38h1v1h-1zM16 39h1v1h-1zM57 39h1v1h-1z"/>
<path fill="#00d0ff" d="M67 0h1v1h-1zM29 2h1v1h-1zM31 2h1v1h-1zM24 4h1v1h-1zM12 7h1v1h-1zM22 9h1v1h-1zM13 11h2v1h-2zM47 15h1v1h-1zM13 16h2v1h-2zM16 16h1v1h-1zM14 18h1v1h-1zM19 18h1v1h-1zM23 18h1v1h-1zM23 19h1v1h-1zM23 20h2v1h-2zM19 21h1v1h-1zM24 21h1v1h-1zM24 22h1v1h-1zM26 22h1v1h-1zM61 22h1v1h-1zM21 23h1v1h-1zM26 23h1v1h-1zM21 24h5v1h-5zM57 24h1v1h-1zM19 25h1v1h-1zM21 25h2v1h-2zM58 25h2v1h-2zM21 26h1v1h-1zM25 26h4v1h-4zM58 26h2v1h-2zM63 26h1v1h-1zM16 27h2v1h-2zM22 27h1v1h-1zM26 27h1v1h-1zM66 27h1v1h-1zM16 28h1v1h-1zM22 28h1v1h-1zM24 28h1v1h-1zM28 28h1v1h-1zM50 28h1v1h-1zM63 28h1v1h-1zM66 28h1v1h-1zM22 29h1v1h-1zM41 30h1v1h-1zM44 30h1v1h-1zM50 30h1v1h-1zM44 31h1v1h-1zM51 31h1v1h-1zM61 31h1v1h-1zM63 31h2v1h-2zM22 32h1v1h-1zM52 32h1v1h-1zM57 32h1v1h-1zM50 33h1v1h-1zM53 33h1v1h-1zM31 34h1v1h-1zM36 35h1v1h-1zM55 35h1v1h-1zM65 36h1v1h-1zM68 36h1v1h-1zM49 37h1v1h-1zM56 37h1v1h-1zM49 38h1v1h-1zM51 38h1v1h-1zM56 38h1v1h-1zM9 39h1v1h-1zM17 39h1v1h-1z"/>
<path fill="#0000f1" d="M25 4h1v1h-1zM24 7h1v1h-1zM23 8h1v1h-1zM25 8h2v1h-2zM50 16h1v1h-1zM20 18h1v1h-1zM25 25h1v1h-1zM65 26h1v1h-1zM17 28h1v1h-1zM19 28h1v1h-1zM25 28h1v1h-1zM64 28h2v1h-2zM23 29h1v1h-1zM28 29h1v1h-1zM21 30h1v1h-1zM14 31h1v1h-1zM22 31h1v1h-1zM59 31h1v1h-1zM16 32h1v1h-1zM50 32h2v1h-2zM59 32h1v1h-1zM61 32h1v1h-1zM49 33h1v1h-1zM58 33h2v1h-2zM57 34h3v1h-3zM57 36h1v1h-1zM15 39h1v1h-1z"/>
<path fill="#0060ff" d="M14 5h2v1h-2zM23 7h1v1h-1zM10 8h2v1h-2zM24 8h1v1h-1zM27 8h1v1h-1zM20 9h2v1h-2zM41 9h1v1h-1zM16 10h1v1h-1zM14 12h1v1h-1zM11 13h1v1h-1zM15 16h1v1h-1zM49 16h1v1h-1zM17 17h2v1h-2zM21 18h2v1h-2zM6 19h1v1h-1zM10 21h1v1h-1zM20 25h1v1h-1zM23 25h2v1h-2zM26 25h1v1h-1zM57 25h1v1h-1zM64 26h1v1h-1zM18 27h1v1h-1zM28 27h1v1h-1zM63 27h3v1h-3zM18 29h4v1h-4zM18 30h1v1h-1zM43 30h1v1h-1zM64 30h1v1h-1zM18 31h1v1h-1zM20 31h2v1h-2zM50 31h1v1h-1zM60 31h1v1h-1zM13 32h1v1h-1zM15 32h1v1h-1zM49 32h1v1h-1zM52 33h1v1h-1zM57 33h1v1h-1zM53 34h1v1h-1zM19 35h1v1h-1zM53 35h2v1h-2zM57 35h1v1h-1zM53 36h3v1h-3zM55 37h1v1h-1zM69 37h1v1h-1zM50 38h1v1h-1zM55 38h1v1h-1zM48 39h2v1h-2zM68 39h1v1h-1z"/>
<path fill="#000080" d="M29 29h1v1h-1zM22 30h1v1h-1zM19 31h1v1h-1zM18 32h1v1h-1zM58 32h1v1h-1zM60 32h1v1h-1zM21 33h1v1h-1zM42 33h1v1h-1zM60 33h2v1h-2zM34 34h1v1h-1zM61 34h1v1h-1zM20 35h1v1h-1zM33 35h1v1h-1zM38 35h1v1h-1zM40 35h1v1h-1zM58 35h3v1h-3zM35 36h2v1h-2zM48 36h1v1h-1zM58 36h1v1h-1zM62 36h1v1h-1zM48 37h1v1h-1zM57 37h1v1h-1zM61 37h1v1h-1zM65 37h1v1h-1zM15 38h1v1h-1zM57 38h1v1h-1zM65 38h1v1h-1zM44 39h1v1h-1zM50 39h1v1h-1z"/>
</g></g>
<path d="M90.37 24.40V250.20M146.94 24.40V250.20M203.51 24.40V250.20M260.09 24.40V250.20M316.66 24.40V250.20M373.23 24.40V250.20M33.80 80.85H429.80M33.80 137.30H429.80M33.80 193.75H429.80" stroke="#000" stroke-width="0.6" stroke-dasharray="1.1 1.3" fill="none" opacity=".8"/>
<clipPath id="cpa"><rect x="33.80" y="24.40" width="396.00" height="225.80"/></clipPath>
<path clip-path="url(#cpa)" d="M33.3 59.7L34.6 59.2L38.1 57.4L41.6 55.6L44.7 53.8L46.4 51.4L48.7 49.5L52.2 48.4L55.9 47.9L60.6 48.4L65.3 49.9L70.0 51.4L72.4 52.6L73.6 49.0L75.3 46.1L78.9 43.9L81.9 43.5L85.4 44.7L88.9 46.6L92.5 47.9L97.2 47.9L101.9 47.1L106.7 46.3L111.4 45.9L116.2 46.6L122.1 47.1L127.9 47.3L133.8 48.4L138.6 50.3L140.9 52.1L144.5 52.6L147.5 53.2L149.2 54.7M145.7 23.6L147.5 25.3L149.8 25.0L152.1 26.5L151.6 30.0L152.8 34.2L154.0 38.4L155.1 42.6L154.5 44.9L151.6 46.6L149.8 49.0L148.6 52.1L149.2 54.7M149.2 54.7L148.6 56.8L144.5 58.5L139.8 59.7L135.1 62.1L130.3 64.5L126.8 66.9L124.4 68.4L119.7 68.7L114.9 69.2L111.4 70.4L109.0 73.4L106.7 75.1L103.2 76.3L99.5 76.9L97.8 74.0L96.6 73.2L93.7 74.0L90.1 75.1L86.5 76.9L83.0 78.7L80.1 79.8L77.7 81.6L78.3 84.0L77.1 86.4L74.8 88.2L75.3 91.1L77.1 93.5L78.9 95.3L83.0 96.1L86.5 97.1L88.9 98.8L90.1 101.2L90.7 103.1M77.7 81.6L75.9 83.4L72.4 85.3L68.9 86.4L65.3 86.9L61.7 88.2L58.8 88.8L55.9 87.6L52.9 85.8L50.0 84.6L46.4 85.3L42.9 84.0L39.3 84.6L35.7 85.3L33.3 84.6M33.3 60.1L38.7 57.4L43.4 55.6L48.2 54.7L46.4 56.1L42.3 57.9L38.7 60.3L36.3 62.7L38.7 63.9L42.9 65.0L46.4 66.3L49.3 66.9L51.1 65.0L53.5 63.2L55.3 64.5L57.0 66.3L60.6 68.0L65.3 69.8L69.4 71.0L67.1 72.7L64.7 74.0L61.7 74.5L59.9 76.3L57.0 76.9L54.1 78.4L51.1 77.9L48.2 78.7L44.7 79.3L41.6 78.7L38.7 79.3L35.7 78.4L33.3 78.1M33.3 70.4L37.5 69.2L40.5 68.7L42.3 70.4L41.0 72.2L39.3 73.4L41.6 75.1L39.9 76.9L37.0 77.5L33.3 76.9M39.9 80.3L41.6 81.6L40.5 82.7L39.3 81.1L39.9 80.3M45.8 79.8L48.2 80.5L46.6 81.6L45.8 79.8M38.1 103.1L40.5 99.5L44.7 97.3L48.2 98.8L50.0 101.2L48.7 103.1M283.7 91.7L272.1 94.7L265.0 96.4L260.8 98.2L263.8 103.1M300.3 23.6L305.0 26.5L309.8 28.9L314.5 31.3L320.4 31.6L321.5 33.7L323.9 37.8L326.3 41.9L329.2 45.5L332.3 48.7L336.9 48.7L341.7 49.0L347.5 49.5L354.7 49.9L361.8 50.6L367.7 50.8L373.2 50.3M332.3 48.7L329.9 50.3L328.7 53.2L328.1 56.8L327.0 58.5L323.9 59.2L321.0 59.4L316.9 60.3L313.3 61.5L309.8 64.5L306.2 68.0L302.6 71.6L299.1 74.5L295.6 75.1L293.2 74.8L292.7 76.9L291.4 80.5L292.0 84.0L292.7 87.6L293.2 89.8M341.7 49.0L343.5 53.2L345.8 57.4L348.2 61.5L345.8 63.9L348.8 66.9L352.3 69.2L354.7 71.0L354.1 74.0L357.0 74.0L360.6 72.2L365.3 70.4L370.1 69.8M283.7 92.4L288.5 90.6L293.2 89.8L298.0 88.8L302.6 88.2L307.4 87.8L312.1 88.2L316.9 89.3L320.4 91.1L325.1 93.5L329.9 95.9L334.5 98.0L338.2 99.5L338.7 94.7L339.1 90.0L341.7 89.3L345.2 90.6L348.8 92.4L351.7 93.5L354.7 91.7L357.0 92.4L359.4 90.6L362.4 92.4L365.3 94.7L368.8 97.1L372.4 98.8L374.8 97.7L376.5 99.5L380.7 101.8L383.1 103.1M373.3 49.9L378.7 49.9L384.5 50.6L390.5 52.1L395.2 54.2L399.9 55.8L405.8 57.4L410.6 58.9L415.3 59.7L420.1 59.4L423.6 59.2L424.1 61.3L427.1 61.8L429.5 61.8M370.1 69.8L373.9 70.4L375.7 72.7L373.9 75.8L371.5 78.1L368.6 80.5L366.9 81.6L371.0 81.6L374.6 83.4L377.5 85.3L380.5 86.9L382.8 88.8L383.4 91.1L385.8 92.1L388.2 94.1L391.1 95.3L394.0 94.5L395.2 92.4L394.0 90.6L397.0 89.3L401.2 88.5L404.7 89.3L407.1 90.0L410.0 88.5L413.5 86.9L417.1 86.4L419.5 87.6L420.6 90.6L418.8 93.5L416.4 95.9L413.5 97.7L411.8 100.0L412.4 103.1M90.7 103.1L91.3 106.6L91.8 109.6L90.1 111.3L88.3 112.6L85.4 113.1L88.9 113.7L92.5 114.9L96.0 116.8L99.0 118.4L101.3 120.8L102.6 124.4L104.3 126.2L107.9 127.4L111.4 129.7L114.9 131.0L118.5 131.5L122.1 131.5L124.4 131.5M48.7 103.1L50.5 106.0L51.1 110.2L51.3 114.9L52.9 118.2L56.4 116.4L60.6 114.7L64.7 112.6L68.9 110.4L72.9 109.3L75.9 109.6L77.7 111.1L81.2 110.0L85.4 109.0L88.9 108.1L91.1 107.3M52.9 118.2L57.0 117.1L61.7 115.5L66.5 114.7L71.3 113.5L75.9 112.8L80.6 113.5L84.8 114.0L87.2 112.3L90.1 111.1L91.8 109.6M52.9 118.2L50.0 122.1L47.6 125.0L50.0 126.8L51.7 129.7L52.2 133.9L51.1 137.4L48.2 139.8L45.8 142.8L45.2 146.3L44.0 148.7L40.5 149.4L37.0 149.0L33.3 149.9M33.3 151.8L35.7 152.9L37.5 155.3L35.7 157.6L33.3 158.2M124.4 131.5L119.7 132.1L116.2 134.5L113.8 136.8L112.0 140.5L109.0 139.8L104.3 141.0L99.5 142.3L94.9 141.9L90.1 140.8L85.4 139.8L80.6 140.5L77.1 142.3L77.7 145.2L80.1 148.1L81.2 150.5L80.1 152.9L81.9 155.3L83.0 158.9L85.4 161.8L88.9 162.4L87.8 164.7L91.3 166.5L94.2 167.7L92.5 170.7L88.9 173.1L86.5 175.5L85.4 179.0L85.4 182.7M124.4 131.5L125.6 135.0L127.4 138.7L130.3 141.0L133.8 143.4L136.2 144.6L134.5 147.6L133.3 150.5L135.1 152.9L137.4 155.3L139.8 157.6L141.5 160.6L140.4 162.9L137.4 164.7L135.1 166.0L133.3 163.6L130.3 164.7L129.7 167.7L131.4 170.7L133.3 174.2L133.8 177.8L136.8 179.0L138.6 181.3L139.8 182.7M136.2 144.6L139.8 143.4L144.5 142.3L146.3 138.7L148.6 135.7L150.5 132.7L152.8 131.8L156.3 132.1L158.6 132.7M158.6 132.7L162.1 133.3L165.6 134.5L169.2 133.3L172.2 131.0L174.5 128.6L177.5 129.2L179.9 128.9L182.2 131.5L186.9 133.0L191.6 132.1L194.0 132.7L197.6 131.0L201.1 129.4L205.9 127.9L209.4 129.4L212.9 127.9L215.8 126.8L217.1 124.4L220.0 123.0L224.8 122.1L229.5 121.2L234.2 121.5L238.9 120.6L242.5 120.3L246.1 121.8L250.8 123.2L254.3 124.7L256.7 125.0M256.7 125.0L260.2 123.9L265.0 124.2L269.7 125.3L272.6 124.4L272.1 120.8L269.1 118.4L269.7 115.5L273.2 114.4L275.0 112.6L273.8 109.6L270.8 107.3L267.3 106.0L265.0 104.2L264.4 103.1M256.7 125.0L257.3 128.6L255.4 131.5L254.1 134.5L255.4 137.4L257.8 138.7L257.3 142.8L258.5 145.2L256.1 147.6L257.8 149.9L260.2 151.8L260.8 154.1L263.8 155.8L266.8 157.6L269.7 158.2L272.6 156.5L275.0 155.8L276.8 158.2L280.3 160.6L283.7 161.5M283.7 161.2L288.5 162.1L293.2 162.6L298.0 164.2L301.5 164.7L305.0 165.3L308.6 164.7L312.1 163.6L315.1 166.5L318.0 168.3L320.4 170.0L321.5 173.1L324.6 174.2L326.3 174.8L329.2 174.2L330.5 171.8L333.4 173.1L335.8 174.2L336.9 171.3L339.9 170.7L342.2 169.5L343.5 166.5L344.0 164.7M344.0 164.7L343.5 161.2L345.2 157.6L345.8 154.7L344.0 152.3L343.5 149.9L345.8 148.5L349.9 149.0L354.7 149.9L357.0 151.8L359.4 155.3L361.8 157.6L365.3 160.0L368.8 161.2L371.9 159.8L373.6 161.8L377.2 163.6L379.5 165.3L381.8 163.6L384.8 162.4L386.0 159.4L389.0 157.6L391.9 157.1L394.3 155.3M344.0 164.7L347.5 165.3L351.2 166.5L353.5 168.9L355.2 171.8L356.5 174.2L359.4 177.2L360.6 179.0L358.2 180.2L359.4 182.7M384.2 103.1L387.8 104.9L391.3 106.6L394.3 108.4L395.4 106.6L397.2 108.4L400.2 110.2L402.0 113.7L403.1 117.3L404.9 120.8L406.7 123.2L407.3 126.2L404.9 128.6L402.0 131.0L400.2 132.7L398.5 135.7L395.4 137.4L393.1 140.5L395.4 142.3L397.8 143.4L396.6 145.8L393.1 146.3L389.0 145.2L384.8 144.0L382.5 145.8L383.1 148.1L386.6 149.9L390.1 150.5L392.5 151.8L394.3 154.1L394.3 155.3L396.1 157.1L398.5 155.3L400.2 152.3L398.5 149.9L400.8 147.6L404.3 145.2L406.7 145.8L409.0 148.7M409.0 148.7L410.6 150.5L414.2 151.8L417.7 152.9L420.1 155.3L421.8 158.9L423.6 161.2L426.0 162.9L429.5 163.8M411.1 103.1L414.2 105.5L418.8 107.8L422.4 109.0L426.0 108.4L427.1 110.8L429.5 112.6M85.4 182.6L83.0 184.9L80.1 188.0L77.7 189.7L78.9 191.5L75.3 193.3L72.9 194.4L71.3 198.0L68.9 201.5L65.3 204.6L61.7 207.0L59.4 210.5L57.0 213.4L54.6 217.0L51.1 217.9L47.6 218.8L44.0 219.6L41.6 217.0L38.7 216.4L35.7 217.6L33.3 219.4M33.3 231.8L36.3 234.7L35.7 238.3L38.7 241.8L41.6 243.1L42.9 247.3L44.7 250.2M139.7 182.6L144.5 183.8L148.5 185.6L150.3 188.0L153.8 189.1L156.9 190.9L159.6 193.1M159.6 193.1L161.3 190.4L163.7 189.1L167.3 189.1L170.3 190.9L171.9 193.1L175.6 194.4L179.1 196.8L182.6 198.6L185.0 201.0L187.9 203.3L190.8 201.5L193.2 202.2L195.6 205.2L198.0 207.0L201.6 209.3L204.5 209.7L205.7 211.7L208.6 212.8L211.5 212.3L213.4 214.6L215.7 216.4L217.5 214.6L220.5 215.8L222.9 214.9L225.8 216.4L228.7 217.6L232.3 217.9L235.9 217.2L238.8 217.0M159.6 193.1L157.2 192.1L154.3 194.4L151.9 197.5L150.1 201.0L149.0 204.6L147.7 207.0L150.7 208.1L154.3 209.7L157.8 211.0L160.7 213.6L164.3 215.2L168.4 217.6L171.9 218.8L175.6 219.6L179.1 221.7L182.6 222.9L185.0 223.9L188.6 222.3L192.1 222.9L194.5 221.7L196.8 223.6L199.2 225.9L202.2 227.6L205.7 229.4L208.6 230.0L212.2 230.7L215.7 231.8L219.2 233.0L222.9 234.2L225.8 233.0L228.7 233.6L232.3 234.2L235.9 233.8L238.8 233.4L239.6 230.0L238.1 226.5L238.8 221.7L238.8 217.0M238.8 217.0L241.8 215.8L244.7 214.9L247.1 217.0L247.6 220.5L247.1 224.1M239.6 233.6L241.8 232.4L243.5 234.2L241.8 236.5L239.4 238.3L238.8 241.3L240.5 243.1L244.1 244.2L247.1 245.5L248.8 247.3L246.5 248.4L242.9 249.0L242.3 250.2M241.8 232.4L244.7 233.6L247.6 234.7L249.5 234.2L251.1 236.0L254.8 236.5L256.5 238.3L257.1 241.8L258.3 245.5L260.1 247.3L262.9 247.8M247.0 224.1L249.1 221.7L252.1 217.6L255.7 214.9L259.7 213.2L263.3 213.6L268.0 214.6L272.8 215.2L276.3 216.4L278.6 218.1L279.9 221.2L282.8 222.9L284.5 224.7L283.4 227.6L281.0 229.4L276.3 230.0L271.6 229.8L266.9 229.4L262.1 230.7L258.6 231.2L253.9 230.0L250.2 228.9L248.0 227.1L247.0 224.1M278.6 218.1L282.3 218.8L285.8 218.1L289.3 216.4L291.7 214.1L294.6 212.3L297.0 209.9L299.9 209.3L303.5 207.5L305.9 205.2L308.2 203.3L311.2 201.5L314.2 202.2L316.5 203.9L320.1 203.3L323.6 201.5L326.5 200.4L329.4 200.2L331.8 202.2L332.5 205.2L330.7 207.5L331.8 210.5L334.9 211.7L337.8 212.3L341.3 212.8L342.6 214.1M342.6 214.1L344.8 211.0L347.8 210.5L350.1 212.3L352.5 213.6L353.8 218.1L355.5 220.5L358.4 223.6L359.7 228.9L359.1 233.6L357.3 238.3L354.3 241.3L352.0 244.2L349.6 247.3L347.8 250.2M342.6 214.1L341.1 217.6L338.7 220.5L336.9 222.9L339.5 225.5L336.0 223.6L331.8 224.7L328.3 226.5L324.8 228.3L321.2 230.7L318.8 233.6L317.7 236.5L318.8 238.9L317.1 241.8L314.7 244.9L312.9 247.8L312.4 250.2M359.1 182.6L360.2 186.2L361.5 189.7L362.0 194.4L362.6 199.2L363.2 203.3L360.8 204.6L358.4 205.7L357.3 208.1L355.5 210.5L353.8 212.3L352.5 213.6M242.0 232.4L244.4 233.6L246.7 234.7L249.1 235.4L252.6 236.0L256.2 237.1L257.4 240.7L257.9 244.2L259.7 247.3L263.3 247.8L268.0 247.6L272.8 248.1L277.5 248.4L282.3 249.0L286.9 250.2M242.0 243.1L244.4 245.5L246.7 247.8L248.5 250.2M363.3 203.3L364.0 207.5L365.1 211.0L366.2 213.4L367.5 210.5L369.8 207.5L371.5 209.9L373.3 212.3L375.2 214.1L376.3 217.0L379.2 217.6L381.0 218.1L382.8 221.2L384.5 224.1L386.4 227.1L388.7 229.4L390.5 232.4L392.2 236.0L394.6 237.8L397.6 237.1L401.2 236.0L404.7 235.4L407.1 233.6L407.6 230.0L405.8 227.6L407.1 224.1L409.4 221.7L411.1 218.1L412.9 215.2L415.3 212.3L416.4 209.9L420.1 209.3L422.4 211.0L423.0 214.6L426.0 217.0L429.5 216.4M429.5 223.6L426.0 223.6L422.4 222.9L418.8 222.9L415.9 224.7L414.2 227.1L415.9 229.4L415.3 232.4L418.8 231.2L422.4 231.2L425.4 233.0L426.5 236.0L424.8 238.9L423.0 241.8L424.1 244.9L426.5 247.3L428.3 249.0L429.5 250.2" stroke="#111" stroke-width="0.85" fill="none" stroke-linejoin="round" opacity=".9"/>
<rect x="33.80" y="24.40" width="396.00" height="225.80" fill="none" stroke="#111" stroke-width=".8"/>
<text class="title" x="231.8" y="19.8" font-size="12.78" text-anchor="middle">(a) Fractional agreement for clear-sky condition</text>
<text x="33.8" y="261.6" font-size="8.20" text-anchor="middle">70°E</text>
<text x="90.4" y="261.6" font-size="8.20" text-anchor="middle">75°E</text>
<text x="146.9" y="261.6" font-size="8.20" text-anchor="middle">80°E</text>
<text x="203.5" y="261.6" font-size="8.20" text-anchor="middle">85°E</text>
<text x="260.1" y="261.6" font-size="8.20" text-anchor="middle">90°E</text>
<text x="316.7" y="261.6" font-size="8.20" text-anchor="middle">95°E</text>
<text x="373.2" y="261.6" font-size="8.20" text-anchor="middle">100°E</text>
<text x="429.8" y="261.6" font-size="8.20" text-anchor="middle">105°E</text>
<text x="28.9" y="27.4" font-size="8.20" text-anchor="end">45°N</text>
<text x="28.9" y="83.8" font-size="8.20" text-anchor="end">40°N</text>
<text x="28.9" y="140.3" font-size="8.20" text-anchor="end">35°N</text>
<text x="28.9" y="196.7" font-size="8.20" text-anchor="end">30°N</text>
<text x="28.9" y="253.2" font-size="8.20" text-anchor="end">25°N</text>
<rect x="437.40" y="24.40" width="20.10" height="225.80" fill="url(#gjet)" stroke="#000" stroke-width=".6"/>
<text x="461.7" y="252.1" font-size="5.40">0.0</text>
<text x="461.7" y="207.0" font-size="5.40">0.2</text>
<text x="461.7" y="161.8" font-size="5.40">0.4</text>
<text x="461.7" y="116.7" font-size="5.40">0.6</text>
<text x="461.7" y="71.5" font-size="5.40">0.8</text>
<text x="461.7" y="26.3" font-size="5.40">1.0</text>
<path d="M457.50 250.20h2M457.50 205.04h2M457.50 159.88h2M457.50 114.72h2M457.50 69.56h2M457.50 24.40h2" stroke="#000" stroke-width=".6"/>
<text class="cbl" transform="translate(483.5 137.3) rotate(-90)" font-size="12.60" text-anchor="middle">Fractional Agreement</text>
</g>
<g id="panel-b">
<clipPath id="cqb"><rect x="608.30" y="23.50" width="390.50" height="223.30"/></clipPath>
<rect x="608.30" y="23.50" width="390.50" height="223.30" fill="#fff"/>
<g filter="url(#bl)" clip-path="url(#cqb)">
<rect x="605.30" y="20.50" width="396.50" height="229.30" fill="#fff"/>
<g shape-rendering="crispEdges" transform="translate(608.30 23.50) scale(5.57857 5.58250)">
<path fill="#b20000" d="M0 0h4v1h-4zM7 0h1v1h-1zM9 0h1v1h-1zM16 0h1v1h-1zM18 0h1v1h-1zM25 0h6v1h-6zM32 0h4v1h-4zM40 0h1v1h-1zM42 0h5v1h-5zM57 0h1v1h-1zM59 0h5v1h-5zM66 0h2v1h-2zM0 1h2v1h-2zM3 1h2v1h-2zM8 1h1v1h-1zM18 1h1v1h-1zM22 1h3v1h-3zM35 1h1v1h-1zM42 1h4v1h-4zM64 1h2v1h-2zM67 1h1v1h-1zM69 1h1v1h-1zM0 2h2v1h-2zM3 2h1v1h-1zM12 2h1v1h-1zM14 2h4v1h-4zM23 2h3v1h-3zM33 2h4v1h-4zM41 2h4v1h-4zM46 2h3v1h-3zM63 2h1v1h-1zM65 2h1v1h-1zM67 2h1v1h-1zM0 3h5v1h-5zM7 3h2v1h-2zM12 3h1v1h-1zM14 3h4v1h-4zM23 3h1v1h-1zM25 3h3v1h-3zM33 3h5v1h-5zM42 3h1v1h-1zM45 3h1v1h-1zM47 3h2v1h-2zM50 3h2v1h-2zM53 3h1v1h-1zM55 3h2v1h-2zM61 3h1v1h-1zM65 3h1v1h-1zM0 4h2v1h-2zM6 4h1v1h-1zM8 4h3v1h-3zM12 4h4v1h-4zM19 4h2v1h-2zM23 4h1v1h-1zM25 4h2v1h-2zM30 4h1v1h-1zM32 4h2v1h-2zM35 4h1v1h-1zM44 4h2v1h-2zM48 4h1v1h-1zM50 4h2v1h-2zM61 4h1v1h-1zM67 4h2v1h-2zM1 5h1v1h-1zM4 5h5v1h-5zM10 5h3v1h-3zM18 5h3v1h-3zM22 5h2v1h-2zM28 5h1v1h-1zM34 5h4v1h-4zM42 5h4v1h-4zM47 5h1v1h-1zM50 5h2v1h-2zM53 5h1v1h-1zM58 5h1v1h-1zM60 5h1v1h-1zM67 5h1v1h-1zM0 6h6v1h-6zM7 6h6v1h-6zM17 6h1v1h-1zM21 6h2v1h-2zM24 6h1v1h-1zM26 6h3v1h-3zM34 6h1v1h-1zM36 6h1v1h-1zM45 6h1v1h-1zM47 6h1v1h-1zM50 6h1v1h-1zM55 6h1v1h-1zM57 6h2v1h-2zM60 6h4v1h-4zM2 7h5v1h-5zM8 7h5v1h-5zM16 7h1v1h-1zM18 7h2v1h-2zM23 7h2v1h-2zM28 7h1v1h-1zM30 7h4v1h-4zM42 7h1v1h-1zM45 7h1v1h-1zM47 7h1v1h-1zM56 7h2v1h-2zM60 7h1v1h-1zM1 8h2v1h-2zM4 8h3v1h-3zM9 8h6v1h-6zM16 8h2v1h-2zM23 8h1v1h-1zM25 8h4v1h-4zM30 8h2v1h-2zM35 8h2v1h-2zM47 8h1v1h-1zM49 8h2v1h-2zM58 8h1v1h-1zM61 8h1v1h-1zM2 9h8v1h-8zM11 9h1v1h-1zM16 9h2v1h-2zM23 9h2v1h-2zM27 9h1v1h-1zM31 9h7v1h-7zM47 9h1v1h-1zM49 9h1v1h-1zM52 9h1v1h-1zM55 9h7v1h-7zM0 10h5v1h-5zM7 10h3v1h-3zM13 10h1v1h-1zM15 10h1v1h-1zM18 10h1v1h-1zM20 10h4v1h-4zM31 10h1v1h-1zM49 10h1v1h-1zM59 10h3v1h-3zM64 10h1v1h-1zM2 11h1v1h-1zM5 11h2v1h-2zM8 11h2v1h-2zM19 11h2v1h-2zM25 11h2v1h-2zM37 11h1v1h-1zM43 11h1v1h-1zM56 11h1v1h-1zM58 11h1v1h-1zM1 12h1v1h-1zM5 12h5v1h-5zM12 12h1v1h-1zM15 12h1v1h-1zM19 12h1v1h-1zM22 12h5v1h-5zM28 12h1v1h-1zM30 12h1v1h-1zM35 12h2v1h-2zM56 12h2v1h-2zM63 12h1v1h-1zM0 13h1v1h-1zM3 13h3v1h-3zM8 13h4v1h-4zM13 13h2v1h-2zM17 13h3v1h-3zM22 13h1v1h-1zM24 13h5v1h-5zM33 13h1v1h-1zM41 13h1v1h-1zM44 13h1v1h-1zM46 13h3v1h-3zM62 13h2v1h-2zM0 14h1v1h-1zM3 14h2v1h-2zM7 14h6v1h-6zM14 14h3v1h-3zM18 14h3v1h-3zM22 14h1v1h-1zM24 14h3v1h-3zM29 14h1v1h-1zM35 14h2v1h-2zM42 14h2v1h-2zM46 14h3v1h-3zM62 14h1v1h-1zM0 15h4v1h-4zM7 15h5v1h-5zM13 15h4v1h-4zM18 15h1v1h-1zM21 15h2v1h-2zM24 15h1v1h-1zM32 15h2v1h-2zM35 15h2v1h-2zM42 15h2v1h-2zM49 15h1v1h-1zM61 15h4v1h-4zM0 16h1v1h-1zM4 16h8v1h-8zM13 16h1v1h-1zM15 16h3v1h-3zM19 16h2v1h-2zM26 16h5v1h-5zM32 16h2v1h-2zM36 16h1v1h-1zM49 16h1v1h-1zM60 16h1v1h-1zM63 16h1v1h-1zM3 17h3v1h-3zM9 17h3v1h-3zM14 17h4v1h-4zM19 17h3v1h-3zM24 17h2v1h-2zM28 17h1v1h-1zM34 17h3v1h-3zM42 17h2v1h-2zM47 17h2v1h-2zM55 17h1v1h-1zM60 17h2v1h-2zM63 17h1v1h-1zM65 17h1v1h-1zM2 18h4v1h-4zM8 18h5v1h-5zM14 18h2v1h-2zM21 18h2v1h-2zM25 18h1v1h-1zM28 18h2v1h-2zM36 18h2v1h-2zM48 18h1v1h-1zM60 18h1v1h-1zM62 18h2v1h-2zM66 18h1v1h-1zM2 19h2v1h-2zM7 19h2v1h-2zM10 19h4v1h-4zM15 19h2v1h-2zM18 19h1v1h-1zM21 19h2v1h-2zM27 19h1v1h-1zM35 19h2v1h-2zM38 19h1v1h-1zM42 19h1v1h-1zM47 19h2v1h-2zM55 19h2v1h-2zM60 19h2v1h-2zM65 19h2v1h-2zM68 19h1v1h-1zM0 20h1v1h-1zM2 20h1v1h-1zM5 20h5v1h-5zM12 20h3v1h-3zM16 20h4v1h-4zM21 20h2v1h-2zM31 20h3v1h-3zM35 20h5v1h-5zM41 20h1v1h-1zM54 20h2v1h-2zM57 20h3v1h-3zM61 20h9v1h-9zM0 21h2v1h-2zM7 21h1v1h-1zM12 21h4v1h-4zM18 21h3v1h-3zM23 21h2v1h-2zM29 21h1v1h-1zM34 21h1v1h-1zM36 21h1v1h-1zM53 21h6v1h-6zM60 21h9v1h-9zM1 22h1v1h-1zM7 22h1v1h-1zM11 22h2v1h-2zM14 22h2v1h-2zM19 22h2v1h-2zM24 22h1v1h-1zM27 22h1v1h-1zM30 22h3v1h-3zM41 22h3v1h-3zM47 22h1v1h-1zM53 22h10v1h-10zM69 22h1v1h-1zM1 23h1v1h-1zM7 23h1v1h-1zM9 23h2v1h-2zM19 23h4v1h-4zM24 23h1v1h-1zM29 23h4v1h-4zM47 23h1v1h-1zM51 23h6v1h-6zM59 23h1v1h-1zM61 23h5v1h-5zM67 23h3v1h-3zM8 24h1v1h-1zM11 24h4v1h-4zM17 24h1v1h-1zM21 24h1v1h-1zM28 24h1v1h-1zM40 24h1v1h-1zM42 24h1v1h-1zM44 24h1v1h-1zM46 24h1v1h-1zM48 24h2v1h-2zM54 24h2v1h-2zM58 24h4v1h-4zM63 24h1v1h-1zM66 24h1v1h-1zM68 24h2v1h-2zM0 25h1v1h-1zM8 25h1v1h-1zM15 25h3v1h-3zM20 25h3v1h-3zM28 25h1v1h-1zM31 25h1v1h-1zM33 25h1v1h-1zM35 25h1v1h-1zM40 25h2v1h-2zM43 25h1v1h-1zM45 25h2v1h-2zM48 25h2v1h-2zM54 25h10v1h-10zM65 25h2v1h-2zM68 25h2v1h-2zM15 26h3v1h-3zM20 26h1v1h-1zM23 26h2v1h-2zM29 26h1v1h-1zM31 26h1v1h-1zM37 26h2v1h-2zM41 26h1v1h-1zM45 26h1v1h-1zM48 26h2v1h-2zM51 26h3v1h-3zM57 26h9v1h-9zM69 26h1v1h-1zM14 27h1v1h-1zM18 27h1v1h-1zM20 27h1v1h-1zM23 27h2v1h-2zM31 27h2v1h-2zM40 27h4v1h-4zM45 27h1v1h-1zM49 27h1v1h-1zM51 27h4v1h-4zM57 27h3v1h-3zM62 27h5v1h-5zM68 27h2v1h-2zM9 28h2v1h-2zM14 28h3v1h-3zM20 28h2v1h-2zM23 28h2v1h-2zM26 28h2v1h-2zM31 28h1v1h-1zM34 28h1v1h-1zM41 28h1v1h-1zM44 28h1v1h-1zM46 28h1v1h-1zM55 28h3v1h-3zM64 28h6v1h-6zM20 29h6v1h-6zM30 29h2v1h-2zM34 29h1v1h-1zM42 29h1v1h-1zM51 29h7v1h-7zM60 29h6v1h-6zM68 29h2v1h-2zM20 30h1v1h-1zM30 30h2v1h-2zM33 30h1v1h-1zM40 30h2v1h-2zM43 30h1v1h-1zM45 30h3v1h-3zM55 30h3v1h-3zM60 30h4v1h-4zM65 30h1v1h-1zM67 30h2v1h-2zM20 31h3v1h-3zM43 31h2v1h-2zM46 31h2v1h-2zM52 31h1v1h-1zM56 31h2v1h-2zM62 31h2v1h-2zM66 31h2v1h-2zM22 32h1v1h-1zM31 32h1v1h-1zM35 32h1v1h-1zM37 32h1v1h-1zM46 32h2v1h-2zM52 32h1v1h-1zM55 32h2v1h-2zM62 32h2v1h-2zM65 32h2v1h-2zM68 32h1v1h-1zM31 33h4v1h-4zM39 33h2v1h-2zM43 33h1v1h-1zM45 33h1v1h-1zM47 33h1v1h-1zM54 33h3v1h-3zM63 33h1v1h-1zM66 33h3v1h-3zM41 34h1v1h-1zM43 34h2v1h-2zM47 34h2v1h-2zM57 34h1v1h-1zM62 34h1v1h-1zM65 34h5v1h-5zM39 35h1v1h-1zM41 35h4v1h-4zM53 35h2v1h-2zM57 35h1v1h-1zM62 35h2v1h-2zM67 35h2v1h-2zM43 36h1v1h-1zM51 36h1v1h-1zM65 36h2v1h-2zM68 36h2v1h-2zM6 37h2v1h-2zM15 37h1v1h-1zM57 37h1v1h-1zM63 37h1v1h-1zM65 37h1v1h-1zM68 37h2v1h-2zM8 38h2v1h-2zM11 38h1v1h-1zM56 38h1v1h-1zM68 38h2v1h-2zM7 39h2v1h-2zM10 39h1v1h-1zM19 39h2v1h-2zM55 39h1v1h-1zM64 39h6v1h-6z"/>
<path fill="#8d0000" d="M4 0h3v1h-3zM10 0h6v1h-6zM17 0h1v1h-1zM23 0h2v1h-2zM36 0h1v1h-1zM41 0h1v1h-1zM47 0h10v1h-10zM64 0h2v1h-2zM68 0h2v1h-2zM2 1h1v1h-1zM5 1h3v1h-3zM9 1h9v1h-9zM25 1h7v1h-7zM33 1h2v1h-2zM36 1h6v1h-6zM46 1h1v1h-1zM48 1h9v1h-9zM59 1h5v1h-5zM66 1h1v1h-1zM4 2h8v1h-8zM18 2h2v1h-2zM26 2h7v1h-7zM37 2h1v1h-1zM49 2h9v1h-9zM59 2h1v1h-1zM61 2h2v1h-2zM64 2h1v1h-1zM66 2h1v1h-1zM68 2h1v1h-1zM5 3h2v1h-2zM9 3h3v1h-3zM18 3h2v1h-2zM24 3h1v1h-1zM29 3h1v1h-1zM31 3h2v1h-2zM38 3h2v1h-2zM41 3h1v1h-1zM43 3h2v1h-2zM49 3h1v1h-1zM52 3h1v1h-1zM57 3h3v1h-3zM62 3h3v1h-3zM66 3h2v1h-2zM69 3h1v1h-1zM2 4h4v1h-4zM11 4h1v1h-1zM16 4h3v1h-3zM21 4h2v1h-2zM24 4h1v1h-1zM29 4h1v1h-1zM36 4h5v1h-5zM42 4h2v1h-2zM49 4h1v1h-1zM52 4h8v1h-8zM63 4h4v1h-4zM69 4h1v1h-1zM2 5h2v1h-2zM13 5h5v1h-5zM21 5h1v1h-1zM26 5h1v1h-1zM29 5h2v1h-2zM32 5h2v1h-2zM38 5h4v1h-4zM49 5h1v1h-1zM52 5h1v1h-1zM56 5h1v1h-1zM59 5h1v1h-1zM61 5h6v1h-6zM68 5h2v1h-2zM13 6h4v1h-4zM18 6h3v1h-3zM29 6h5v1h-5zM35 6h1v1h-1zM37 6h6v1h-6zM48 6h2v1h-2zM56 6h1v1h-1zM59 6h1v1h-1zM64 6h6v1h-6zM7 7h1v1h-1zM13 7h3v1h-3zM17 7h1v1h-1zM20 7h3v1h-3zM29 7h1v1h-1zM34 7h8v1h-8zM46 7h1v1h-1zM48 7h2v1h-2zM58 7h1v1h-1zM61 7h9v1h-9zM3 8h1v1h-1zM15 8h1v1h-1zM18 8h5v1h-5zM24 8h1v1h-1zM29 8h1v1h-1zM32 8h1v1h-1zM37 8h5v1h-5zM55 8h1v1h-1zM62 8h6v1h-6zM69 8h1v1h-1zM12 9h4v1h-4zM18 9h5v1h-5zM25 9h2v1h-2zM28 9h3v1h-3zM38 9h8v1h-8zM50 9h1v1h-1zM62 9h8v1h-8zM5 10h2v1h-2zM10 10h3v1h-3zM14 10h1v1h-1zM16 10h2v1h-2zM19 10h1v1h-1zM24 10h7v1h-7zM32 10h1v1h-1zM34 10h2v1h-2zM38 10h6v1h-6zM58 10h1v1h-1zM62 10h2v1h-2zM65 10h5v1h-5zM7 11h1v1h-1zM10 11h9v1h-9zM21 11h4v1h-4zM30 11h7v1h-7zM38 11h5v1h-5zM61 11h9v1h-9zM2 12h3v1h-3zM10 12h2v1h-2zM13 12h2v1h-2zM16 12h3v1h-3zM20 12h2v1h-2zM27 12h1v1h-1zM29 12h1v1h-1zM31 12h4v1h-4zM37 12h2v1h-2zM43 12h1v1h-1zM64 12h6v1h-6zM1 13h2v1h-2zM6 13h2v1h-2zM12 13h1v1h-1zM15 13h2v1h-2zM20 13h2v1h-2zM23 13h1v1h-1zM30 13h3v1h-3zM34 13h1v1h-1zM36 13h3v1h-3zM43 13h1v1h-1zM45 13h1v1h-1zM64 13h6v1h-6zM1 14h2v1h-2zM13 14h1v1h-1zM17 14h1v1h-1zM23 14h1v1h-1zM30 14h2v1h-2zM38 14h1v1h-1zM63 14h7v1h-7zM12 15h1v1h-1zM17 15h1v1h-1zM20 15h1v1h-1zM23 15h1v1h-1zM25 15h7v1h-7zM50 15h1v1h-1zM65 15h5v1h-5zM51 16h1v1h-1zM53 16h1v1h-1zM66 16h4v1h-4zM6 17h3v1h-3zM18 17h1v1h-1zM22 17h2v1h-2zM26 17h2v1h-2zM37 17h3v1h-3zM64 17h1v1h-1zM66 17h4v1h-4zM6 18h2v1h-2zM26 18h2v1h-2zM38 18h10v1h-10zM61 18h1v1h-1zM64 18h2v1h-2zM67 18h3v1h-3zM17 19h1v1h-1zM28 19h1v1h-1zM39 19h1v1h-1zM43 19h4v1h-4zM62 19h3v1h-3zM67 19h1v1h-1zM69 19h1v1h-1zM27 20h4v1h-4zM42 20h7v1h-7zM8 21h4v1h-4zM16 21h1v1h-1zM27 21h1v1h-1zM30 21h1v1h-1zM32 21h2v1h-2zM35 21h1v1h-1zM37 21h12v1h-12zM51 21h1v1h-1zM69 21h1v1h-1zM8 22h3v1h-3zM13 22h1v1h-1zM23 22h1v1h-1zM33 22h8v1h-8zM44 22h3v1h-3zM51 22h1v1h-1zM63 22h6v1h-6zM2 23h1v1h-1zM33 23h14v1h-14zM57 23h2v1h-2zM60 23h1v1h-1zM29 24h11v1h-11zM41 24h1v1h-1zM43 24h1v1h-1zM45 24h1v1h-1zM47 24h1v1h-1zM50 24h1v1h-1zM53 24h1v1h-1zM56 24h2v1h-2zM64 24h2v1h-2zM67 24h1v1h-1zM13 25h1v1h-1zM29 25h2v1h-2zM32 25h1v1h-1zM34 25h1v1h-1zM36 25h4v1h-4zM44 25h1v1h-1zM50 25h1v1h-1zM64 25h1v1h-1zM67 25h1v1h-1zM14 26h1v1h-1zM30 26h1v1h-1zM32 26h5v1h-5zM39 26h1v1h-1zM42 26h3v1h-3zM46 26h1v1h-1zM50 26h1v1h-1zM66 26h2v1h-2zM15 27h3v1h-3zM28 27h3v1h-3zM33 27h7v1h-7zM44 27h1v1h-1zM50 27h1v1h-1zM60 27h2v1h-2zM28 28h3v1h-3zM32 28h2v1h-2zM35 28h6v1h-6zM42 28h2v1h-2zM45 28h1v1h-1zM47 28h3v1h-3zM58 28h4v1h-4zM26 29h1v1h-1zM28 29h2v1h-2zM32 29h2v1h-2zM35 29h7v1h-7zM43 29h6v1h-6zM58 29h2v1h-2zM67 29h1v1h-1zM18 30h2v1h-2zM21 30h3v1h-3zM32 30h1v1h-1zM34 30h6v1h-6zM42 30h1v1h-1zM44 30h1v1h-1zM58 30h2v1h-2zM18 31h2v1h-2zM23 31h1v1h-1zM30 31h13v1h-13zM58 31h4v1h-4zM18 32h2v1h-2zM32 32h3v1h-3zM36 32h1v1h-1zM38 32h8v1h-8zM57 32h5v1h-5zM64 32h1v1h-1zM18 33h3v1h-3zM35 33h4v1h-4zM41 33h2v1h-2zM44 33h1v1h-1zM57 33h6v1h-6zM64 33h2v1h-2zM58 34h4v1h-4zM58 35h4v1h-4zM64 35h3v1h-3zM58 36h5v1h-5zM64 36h1v1h-1zM58 37h5v1h-5zM64 37h1v1h-1zM32 38h1v1h-1zM57 38h8v1h-8zM56 39h8v1h-8z"/>
<path fill="#da0000" d="M8 0h1v1h-1zM21 0h2v1h-2zM31 0h1v1h-1zM37 0h3v1h-3zM20 1h2v1h-2zM32 1h1v1h-1zM47 1h1v1h-1zM58 1h1v1h-1zM68 1h1v1h-1zM2 2h1v1h-1zM13 2h1v1h-1zM20 2h1v1h-1zM22 2h1v1h-1zM38 2h1v1h-1zM40 2h1v1h-1zM45 2h1v1h-1zM69 2h1v1h-1zM13 3h1v1h-1zM20 3h3v1h-3zM28 3h1v1h-1zM30 3h1v1h-1zM40 3h1v1h-1zM46 3h1v1h-1zM54 3h1v1h-1zM7 4h1v1h-1zM28 4h1v1h-1zM31 4h1v1h-1zM41 4h1v1h-1zM60 4h1v1h-1zM62 4h1v1h-1zM0 5h1v1h-1zM9 5h1v1h-1zM24 5h2v1h-2zM27 5h1v1h-1zM46 5h1v1h-1zM55 5h1v1h-1zM57 5h1v1h-1zM6 6h1v1h-1zM23 6h1v1h-1zM44 6h1v1h-1zM51 6h3v1h-3zM0 7h2v1h-2zM25 7h3v1h-3zM51 7h1v1h-1zM53 7h1v1h-1zM59 7h1v1h-1zM0 8h1v1h-1zM7 8h2v1h-2zM33 8h2v1h-2zM42 8h1v1h-1zM44 8h1v1h-1zM51 8h1v1h-1zM56 8h2v1h-2zM60 8h1v1h-1zM68 8h1v1h-1zM0 9h2v1h-2zM10 9h1v1h-1zM48 9h1v1h-1zM51 9h1v1h-1zM33 10h1v1h-1zM36 10h1v1h-1zM44 10h1v1h-1zM48 10h1v1h-1zM54 10h1v1h-1zM56 10h1v1h-1zM0 11h2v1h-2zM3 11h2v1h-2zM27 11h2v1h-2zM57 11h1v1h-1zM60 11h1v1h-1zM0 12h1v1h-1zM44 12h1v1h-1zM58 12h1v1h-1zM61 12h2v1h-2zM29 13h1v1h-1zM35 13h1v1h-1zM42 13h1v1h-1zM57 13h1v1h-1zM60 13h2v1h-2zM27 14h2v1h-2zM32 14h3v1h-3zM37 14h1v1h-1zM41 14h1v1h-1zM49 14h1v1h-1zM57 14h3v1h-3zM61 14h1v1h-1zM4 15h1v1h-1zM6 15h1v1h-1zM57 15h1v1h-1zM59 15h1v1h-1zM1 16h1v1h-1zM3 16h1v1h-1zM12 16h1v1h-1zM14 16h1v1h-1zM18 16h1v1h-1zM21 16h1v1h-1zM25 16h1v1h-1zM31 16h1v1h-1zM37 16h3v1h-3zM42 16h1v1h-1zM52 16h1v1h-1zM58 16h1v1h-1zM61 16h2v1h-2zM64 16h2v1h-2zM0 17h1v1h-1zM30 17h1v1h-1zM40 17h2v1h-2zM44 17h3v1h-3zM54 17h1v1h-1zM56 17h3v1h-3zM62 17h1v1h-1zM13 18h1v1h-1zM20 18h1v1h-1zM23 18h2v1h-2zM34 18h2v1h-2zM49 18h1v1h-1zM53 18h1v1h-1zM55 18h3v1h-3zM59 18h1v1h-1zM0 19h1v1h-1zM4 19h3v1h-3zM9 19h1v1h-1zM20 19h1v1h-1zM24 19h1v1h-1zM26 19h1v1h-1zM29 19h1v1h-1zM33 19h2v1h-2zM40 19h2v1h-2zM53 19h2v1h-2zM57 19h3v1h-3zM10 20h2v1h-2zM20 20h1v1h-1zM24 20h3v1h-3zM40 20h1v1h-1zM53 20h1v1h-1zM2 21h1v1h-1zM6 21h1v1h-1zM17 21h1v1h-1zM21 21h2v1h-2zM25 21h2v1h-2zM28 21h1v1h-1zM31 21h1v1h-1zM52 21h1v1h-1zM59 21h1v1h-1zM0 22h1v1h-1zM17 22h2v1h-2zM21 22h2v1h-2zM25 22h1v1h-1zM52 22h1v1h-1zM0 23h1v1h-1zM3 23h1v1h-1zM8 23h1v1h-1zM11 23h5v1h-5zM17 23h2v1h-2zM23 23h1v1h-1zM28 23h1v1h-1zM66 23h1v1h-1zM0 24h1v1h-1zM9 24h2v1h-2zM18 24h3v1h-3zM22 24h2v1h-2zM51 24h2v1h-2zM62 24h1v1h-1zM3 25h1v1h-1zM9 25h1v1h-1zM12 25h1v1h-1zM18 25h2v1h-2zM23 25h1v1h-1zM42 25h1v1h-1zM47 25h1v1h-1zM51 25h3v1h-3zM0 26h1v1h-1zM3 26h1v1h-1zM9 26h2v1h-2zM13 26h1v1h-1zM18 26h1v1h-1zM21 26h2v1h-2zM25 26h1v1h-1zM28 26h1v1h-1zM40 26h1v1h-1zM47 26h1v1h-1zM54 26h3v1h-3zM68 26h1v1h-1zM0 27h1v1h-1zM9 27h2v1h-2zM19 27h1v1h-1zM21 27h2v1h-2zM46 27h3v1h-3zM55 27h2v1h-2zM67 27h1v1h-1zM0 28h1v1h-1zM17 28h2v1h-2zM25 28h1v1h-1zM50 28h3v1h-3zM54 28h1v1h-1zM62 28h2v1h-2zM0 29h1v1h-1zM19 29h1v1h-1zM27 29h1v1h-1zM49 29h2v1h-2zM66 29h1v1h-1zM17 30h1v1h-1zM48 30h1v1h-1zM51 30h2v1h-2zM64 30h1v1h-1zM11 31h1v1h-1zM45 31h1v1h-1zM48 31h1v1h-1zM51 31h1v1h-1zM55 31h1v1h-1zM64 31h2v1h-2zM69 31h1v1h-1zM3 32h1v1h-1zM20 32h2v1h-2zM54 32h1v1h-1zM17 33h1v1h-1zM46 33h1v1h-1zM4 34h1v1h-1zM32 34h3v1h-3zM36 34h3v1h-3zM42 34h1v1h-1zM46 34h1v1h-1zM54 34h1v1h-1zM56 34h1v1h-1zM63 34h2v1h-2zM0 35h1v1h-1zM12 35h1v1h-1zM38 35h1v1h-1zM45 35h1v1h-1zM51 35h2v1h-2zM55 35h2v1h-2zM69 35h1v1h-1zM4 36h1v1h-1zM7 36h1v1h-1zM11 36h2v1h-2zM14 36h3v1h-3zM40 36h3v1h-3zM50 36h1v1h-1zM52 36h1v1h-1zM54 36h1v1h-1zM57 36h1v1h-1zM63 36h1v1h-1zM67 36h1v1h-1zM8 37h1v1h-1zM10 37h2v1h-2zM50 37h4v1h-4zM67 37h1v1h-1zM7 38h1v1h-1zM15 38h1v1h-1zM18 38h1v1h-1zM43 38h2v1h-2zM49 38h4v1h-4zM55 38h1v1h-1zM65 38h3v1h-3zM0 39h1v1h-1zM5 39h2v1h-2zM9 39h1v1h-1zM11 39h2v1h-2zM18 39h1v1h-1zM42 39h1v1h-1zM48 39h2v1h-2zM54 39h1v1h-1z"/>
<path fill="#ff7700" d="M19 0h2v1h-2zM58 2h1v1h-1zM60 2h1v1h-1zM60 3h1v1h-1zM27 4h1v1h-1zM34 4h1v1h-1zM43 6h1v1h-1zM46 8h1v1h-1zM48 8h1v1h-1zM45 10h1v1h-1zM44 11h1v1h-1zM50 11h1v1h-1zM54 11h1v1h-1zM41 12h1v1h-1zM48 12h2v1h-2zM39 13h1v1h-1zM50 13h1v1h-1zM54 14h1v1h-1zM34 15h1v1h-1zM51 15h1v1h-1zM54 15h1v1h-1zM34 16h1v1h-1zM44 16h1v1h-1zM1 17h1v1h-1zM29 17h1v1h-1zM32 17h1v1h-1zM50 17h1v1h-1zM1 18h1v1h-1zM19 18h1v1h-1zM32 18h1v1h-1zM4 21h1v1h-1zM26 22h1v1h-1zM6 23h1v1h-1zM16 23h1v1h-1zM26 23h1v1h-1zM2 24h1v1h-1zM4 24h1v1h-1zM26 24h2v1h-2zM7 25h1v1h-1zM26 25h1v1h-1zM5 26h1v1h-1zM7 26h1v1h-1zM11 26h2v1h-2zM26 26h1v1h-1zM1 27h1v1h-1zM6 27h2v1h-2zM25 27h1v1h-1zM1 28h1v1h-1zM4 28h2v1h-2zM7 28h1v1h-1zM12 28h1v1h-1zM9 30h1v1h-1zM14 30h1v1h-1zM16 30h1v1h-1zM49 31h1v1h-1zM5 33h1v1h-1zM21 33h1v1h-1zM49 33h3v1h-3zM6 34h2v1h-2zM31 34h1v1h-1zM40 34h1v1h-1zM50 34h2v1h-2zM4 35h1v1h-1zM6 35h1v1h-1zM11 35h1v1h-1zM15 35h1v1h-1zM33 35h3v1h-3zM0 36h1v1h-1zM2 36h1v1h-1zM6 36h1v1h-1zM9 36h1v1h-1zM13 36h1v1h-1zM17 36h2v1h-2zM38 36h1v1h-1zM1 37h1v1h-1zM13 37h1v1h-1zM16 37h1v1h-1zM41 37h1v1h-1zM48 37h1v1h-1zM1 38h3v1h-3zM16 38h1v1h-1zM20 38h1v1h-1zM34 38h2v1h-2zM16 39h1v1h-1z"/>
<path fill="#f8f500" d="M58 0h1v1h-1zM48 11h1v1h-1zM42 12h1v1h-1zM59 12h1v1h-1zM54 13h1v1h-1zM47 15h1v1h-1zM55 15h1v1h-1zM51 17h1v1h-1zM51 18h1v1h-1zM11 28h1v1h-1zM1 29h1v1h-1zM0 30h1v1h-1zM8 30h1v1h-1zM5 31h1v1h-1zM15 31h1v1h-1zM15 32h1v1h-1zM1 33h1v1h-1zM22 33h1v1h-1zM15 34h3v1h-3zM9 35h1v1h-1zM36 35h2v1h-2zM48 35h2v1h-2zM34 36h4v1h-4zM18 37h1v1h-1zM46 37h1v1h-1zM0 38h1v1h-1zM39 38h3v1h-3zM37 39h1v1h-1zM40 39h2v1h-2zM45 39h2v1h-2z"/>
<path fill="#ff3b00" d="M19 1h1v1h-1zM57 1h1v1h-1zM21 2h1v1h-1zM39 2h1v1h-1zM68 3h1v1h-1zM46 4h2v1h-2zM31 5h1v1h-1zM48 5h1v1h-1zM54 5h1v1h-1zM25 6h1v1h-1zM50 7h1v1h-1zM52 7h1v1h-1zM54 7h2v1h-2zM43 8h1v1h-1zM45 8h1v1h-1zM54 8h1v1h-1zM59 8h1v1h-1zM46 9h1v1h-1zM54 9h1v1h-1zM50 10h4v1h-4zM55 10h1v1h-1zM57 10h1v1h-1zM29 11h1v1h-1zM46 11h2v1h-2zM49 11h1v1h-1zM55 11h1v1h-1zM59 11h1v1h-1zM39 12h2v1h-2zM47 12h1v1h-1zM40 13h1v1h-1zM49 13h1v1h-1zM56 13h1v1h-1zM58 13h2v1h-2zM5 14h2v1h-2zM21 14h1v1h-1zM39 14h2v1h-2zM50 14h1v1h-1zM56 14h1v1h-1zM60 14h1v1h-1zM5 15h1v1h-1zM19 15h1v1h-1zM37 15h5v1h-5zM46 15h1v1h-1zM48 15h1v1h-1zM56 15h1v1h-1zM58 15h1v1h-1zM60 15h1v1h-1zM2 16h1v1h-1zM22 16h3v1h-3zM35 16h1v1h-1zM40 16h2v1h-2zM43 16h1v1h-1zM45 16h4v1h-4zM50 16h1v1h-1zM54 16h4v1h-4zM59 16h1v1h-1zM2 17h1v1h-1zM12 17h2v1h-2zM31 17h1v1h-1zM33 17h1v1h-1zM49 17h1v1h-1zM52 17h2v1h-2zM59 17h1v1h-1zM16 18h3v1h-3zM30 18h2v1h-2zM33 18h1v1h-1zM52 18h1v1h-1zM54 18h1v1h-1zM58 18h1v1h-1zM1 19h1v1h-1zM14 19h1v1h-1zM23 19h1v1h-1zM25 19h1v1h-1zM31 19h1v1h-1zM37 19h1v1h-1zM52 19h1v1h-1zM1 20h1v1h-1zM3 20h2v1h-2zM15 20h1v1h-1zM23 20h1v1h-1zM34 20h1v1h-1zM52 20h1v1h-1zM56 20h1v1h-1zM60 20h1v1h-1zM3 21h1v1h-1zM5 21h1v1h-1zM2 22h5v1h-5zM16 22h1v1h-1zM28 22h2v1h-2zM4 23h2v1h-2zM25 23h1v1h-1zM27 23h1v1h-1zM1 24h1v1h-1zM7 24h1v1h-1zM15 24h2v1h-2zM24 24h2v1h-2zM1 25h1v1h-1zM10 25h2v1h-2zM14 25h1v1h-1zM24 25h2v1h-2zM27 25h1v1h-1zM1 26h1v1h-1zM8 26h1v1h-1zM19 26h1v1h-1zM8 27h1v1h-1zM11 27h1v1h-1zM13 27h1v1h-1zM26 27h2v1h-2zM13 28h1v1h-1zM19 28h1v1h-1zM22 28h1v1h-1zM53 28h1v1h-1zM9 29h2v1h-2zM14 29h5v1h-5zM10 30h1v1h-1zM15 30h1v1h-1zM49 30h2v1h-2zM53 30h2v1h-2zM66 30h1v1h-1zM69 30h1v1h-1zM10 31h1v1h-1zM17 31h1v1h-1zM50 31h1v1h-1zM53 31h2v1h-2zM68 31h1v1h-1zM4 32h1v1h-1zM48 32h1v1h-1zM50 32h2v1h-2zM53 32h1v1h-1zM67 32h1v1h-1zM69 32h1v1h-1zM3 33h2v1h-2zM7 33h1v1h-1zM48 33h1v1h-1zM52 33h2v1h-2zM69 33h1v1h-1zM0 34h1v1h-1zM3 34h1v1h-1zM18 34h2v1h-2zM35 34h1v1h-1zM39 34h1v1h-1zM45 34h1v1h-1zM49 34h1v1h-1zM52 34h2v1h-2zM55 34h1v1h-1zM1 35h1v1h-1zM3 35h1v1h-1zM7 35h2v1h-2zM16 35h1v1h-1zM18 35h1v1h-1zM40 35h1v1h-1zM46 35h2v1h-2zM50 35h1v1h-1zM1 36h1v1h-1zM3 36h1v1h-1zM5 36h1v1h-1zM8 36h1v1h-1zM39 36h1v1h-1zM44 36h3v1h-3zM49 36h1v1h-1zM53 36h1v1h-1zM55 36h2v1h-2zM3 37h3v1h-3zM9 37h1v1h-1zM14 37h1v1h-1zM40 37h1v1h-1zM43 37h1v1h-1zM49 37h1v1h-1zM54 37h3v1h-3zM66 37h1v1h-1zM4 38h3v1h-3zM10 38h1v1h-1zM12 38h3v1h-3zM17 38h1v1h-1zM19 38h1v1h-1zM33 38h1v1h-1zM42 38h1v1h-1zM45 38h2v1h-2zM48 38h1v1h-1zM53 38h2v1h-2zM1 39h4v1h-4zM13 39h3v1h-3zM17 39h1v1h-1zM35 39h1v1h-1zM39 39h1v1h-1zM43 39h1v1h-1zM47 39h1v1h-1zM50 39h4v1h-4z"/>
<path fill="#ffb200" d="M46 6h1v1h-1zM52 8h1v1h-1zM37 10h1v1h-1zM45 11h1v1h-1zM60 12h1v1h-1zM53 13h1v1h-1zM44 14h2v1h-2zM53 15h1v1h-1zM0 18h1v1h-1zM19 19h1v1h-1zM30 19h1v1h-1zM32 19h1v1h-1zM3 24h1v1h-1zM5 24h2v1h-2zM2 25h1v1h-1zM6 25h1v1h-1zM2 26h1v1h-1zM6 26h1v1h-1zM27 26h1v1h-1zM12 27h1v1h-1zM8 28h1v1h-1zM2 29h1v1h-1zM4 29h1v1h-1zM8 29h1v1h-1zM12 29h2v1h-2zM3 31h2v1h-2zM16 31h1v1h-1zM5 32h1v1h-1zM16 32h2v1h-2zM2 33h1v1h-1zM6 33h1v1h-1zM9 33h2v1h-2zM15 33h2v1h-2zM1 34h2v1h-2zM5 34h1v1h-1zM9 34h2v1h-2zM20 34h1v1h-1zM2 35h1v1h-1zM5 35h1v1h-1zM10 35h1v1h-1zM13 35h1v1h-1zM17 35h1v1h-1zM10 36h1v1h-1zM0 37h1v1h-1zM2 37h1v1h-1zM12 37h1v1h-1zM17 37h1v1h-1zM35 37h1v1h-1zM42 37h1v1h-1zM44 37h2v1h-2zM36 39h1v1h-1zM38 39h1v1h-1z"/>
<path fill="#beff39" d="M54 6h1v1h-1zM43 7h1v1h-1zM51 11h2v1h-2zM46 12h1v1h-1zM55 12h1v1h-1zM55 13h1v1h-1zM53 14h1v1h-1zM55 14h1v1h-1zM44 15h1v1h-1zM52 15h1v1h-1zM4 25h1v1h-1zM4 26h1v1h-1zM5 27h1v1h-1zM2 28h1v1h-1zM5 29h1v1h-1zM11 29h1v1h-1zM3 30h2v1h-2zM6 30h2v1h-2zM12 30h2v1h-2zM12 31h1v1h-1zM14 31h1v1h-1zM12 32h3v1h-3zM49 32h1v1h-1zM0 33h1v1h-1zM13 33h2v1h-2zM8 34h1v1h-1zM11 34h2v1h-2zM14 34h1v1h-1zM21 34h1v1h-1zM14 35h1v1h-1zM20 36h2v1h-2zM47 36h2v1h-2zM33 37h1v1h-1zM36 37h1v1h-1zM39 37h1v1h-1zM36 38h2v1h-2zM47 38h1v1h-1zM33 39h2v1h-2zM44 39h1v1h-1z"/>
<path fill="#00d0ff" d="M44 7h1v1h-1zM53 8h1v1h-1zM6 31h1v1h-1zM9 32h1v1h-1zM11 33h1v1h-1zM19 36h1v1h-1zM20 37h2v1h-2zM37 37h1v1h-1zM38 38h1v1h-1z"/>
<path fill="#7dff7a" d="M53 9h1v1h-1zM47 10h1v1h-1zM45 12h1v1h-1zM51 12h1v1h-1zM52 13h1v1h-1zM45 15h1v1h-1zM5 25h1v1h-1zM3 28h1v1h-1zM6 28h1v1h-1zM3 29h1v1h-1zM6 29h2v1h-2zM2 31h1v1h-1zM13 31h1v1h-1zM1 32h2v1h-2zM6 32h1v1h-1zM11 32h1v1h-1zM8 33h1v1h-1zM12 33h1v1h-1zM13 34h1v1h-1zM22 34h1v1h-1zM32 35h1v1h-1zM33 36h1v1h-1zM47 37h1v1h-1z"/>
<path fill="#0000f1" d="M46 10h1v1h-1zM52 12h1v1h-1zM52 14h1v1h-1zM51 19h1v1h-1zM8 32h1v1h-1z"/>
<path fill="#39ffbe" d="M53 11h1v1h-1zM50 12h1v1h-1zM54 12h1v1h-1zM51 14h1v1h-1zM2 27h3v1h-3zM1 30h2v1h-2zM5 30h1v1h-1zM11 30h1v1h-1zM0 31h1v1h-1zM9 31h1v1h-1zM0 32h1v1h-1zM19 35h3v1h-3zM19 37h1v1h-1zM34 37h1v1h-1zM38 37h1v1h-1z"/>
<path fill="#0060ff" d="M53 12h1v1h-1zM51 13h1v1h-1zM51 20h1v1h-1zM1 31h1v1h-1zM7 31h2v1h-2zM7 32h1v1h-1zM10 32h1v1h-1zM32 36h1v1h-1zM32 37h1v1h-1z"/>
</g></g>
<path d="M664.09 23.50V246.80M719.87 23.50V246.80M775.66 23.50V246.80M831.44 23.50V246.80M887.23 23.50V246.80M943.01 23.50V246.80M608.30 79.33H998.80M608.30 135.15H998.80M608.30 190.98H998.80" stroke="#000" stroke-width="0.6" stroke-dasharray="1.1 1.3" fill="none" opacity=".8"/>
<clipPath id="cpb"><rect x="608.30" y="23.50" width="390.50" height="223.30"/></clipPath>
<path clip-path="url(#cpb)" d="M607.9 58.4L609.1 57.9L612.5 56.1L616.0 54.3L619.0 52.5L620.7 50.2L623.0 48.3L626.5 47.3L630.1 46.7L634.7 47.3L639.3 48.7L644.0 50.2L646.3 51.4L647.6 47.8L649.2 44.9L652.8 42.8L655.7 42.4L659.2 43.6L662.6 45.5L666.2 46.7L670.8 46.7L675.5 45.9L680.2 45.2L684.8 44.7L689.5 45.5L695.3 45.9L701.1 46.2L706.9 47.3L711.6 49.1L714.0 50.9L717.4 51.4L720.4 52.0L722.1 53.4M718.6 22.7L720.4 24.4L722.7 24.1L725.0 25.6L724.4 29.1L725.7 33.2L726.8 37.3L727.9 41.5L727.3 43.8L724.4 45.5L722.7 47.8L721.5 50.9L722.1 53.4M722.1 53.4L721.5 55.5L717.4 57.2L712.8 58.4L708.2 60.8L703.5 63.1L700.0 65.5L697.7 67.0L693.0 67.3L688.3 67.8L684.8 68.9L682.5 72.0L680.2 73.6L676.7 74.9L673.1 75.4L671.4 72.5L670.2 71.7L667.3 72.5L663.9 73.6L660.3 75.4L656.8 77.2L653.9 78.3L651.6 80.1L652.1 82.5L651.0 84.8L648.7 86.6L649.2 89.5L651.0 91.8L652.8 93.6L656.8 94.4L660.3 95.4L662.6 97.1L663.9 99.4L664.4 101.3M651.6 80.1L649.8 81.9L646.3 83.7L642.9 84.8L639.3 85.4L635.9 86.6L633.0 87.1L630.1 86.0L627.2 84.2L624.3 83.0L620.7 83.7L617.2 82.5L613.8 83.0L610.2 83.7L607.9 83.0M607.9 58.8L613.1 56.1L617.8 54.3L622.5 53.4L620.7 54.9L616.7 56.7L613.1 59.0L610.8 61.3L613.1 62.6L617.2 63.7L620.7 64.9L623.6 65.5L625.4 63.7L627.7 61.9L629.5 63.1L631.2 64.9L634.7 66.6L639.3 68.4L643.4 69.6L641.1 71.3L638.8 72.5L635.9 73.1L634.1 74.9L631.2 75.4L628.3 76.9L625.4 76.4L622.5 77.2L619.0 77.8L616.0 77.2L613.1 77.8L610.2 76.9L607.9 76.6M607.9 68.9L612.0 67.8L614.9 67.3L616.7 68.9L615.4 70.7L613.8 72.0L616.0 73.6L614.3 75.4L611.4 76.0L607.9 75.4M614.3 78.8L616.0 80.1L614.9 81.1L613.8 79.5L614.3 78.8M620.1 78.3L622.5 79.0L620.9 80.1L620.1 78.3M612.5 101.3L614.9 97.7L619.0 95.6L622.5 97.1L624.3 99.4L623.0 101.3M854.8 90.0L843.3 93.1L836.2 94.7L832.1 96.5L835.1 101.3M871.1 22.7L875.7 25.6L880.4 28.0L885.1 30.3L890.9 30.6L892.0 32.7L894.4 36.8L896.7 40.8L899.6 44.4L902.6 47.5L907.2 47.5L911.9 47.8L917.7 48.3L924.7 48.7L931.7 49.4L937.5 49.6L943.0 49.1M902.6 47.5L900.3 49.1L899.1 52.0L898.5 55.5L897.4 57.2L894.4 57.9L891.5 58.1L887.5 59.0L883.9 60.2L880.4 63.1L877.0 66.6L873.4 70.2L869.9 73.1L866.5 73.6L864.1 73.3L863.6 75.4L862.3 79.0L862.9 82.5L863.6 86.0L864.1 88.1M911.9 47.8L913.7 52.0L916.0 56.1L918.4 60.2L916.0 62.6L918.9 65.5L922.4 67.8L924.7 69.6L924.2 72.5L927.1 72.5L930.5 70.7L935.2 68.9L939.9 68.4M854.8 90.7L859.4 88.9L864.1 88.1L868.8 87.1L873.4 86.6L878.1 86.2L882.8 86.6L887.5 87.7L890.9 89.5L895.6 91.8L900.3 94.2L904.9 96.3L908.4 97.7L909.0 93.1L909.3 88.4L911.9 87.7L915.3 88.9L918.9 90.7L921.8 91.8L924.7 90.0L927.1 90.7L929.4 88.9L932.3 90.7L935.2 93.1L938.7 95.4L942.2 97.1L944.6 96.0L946.2 97.7L950.4 100.1L952.7 101.3M943.1 48.7L948.4 48.7L954.2 49.4L960.1 50.9L964.7 53.0L969.3 54.5L975.1 56.1L979.8 57.7L984.5 58.4L989.2 58.1L992.7 57.9L993.2 60.0L996.1 60.5L998.5 60.5M939.9 68.4L943.7 68.9L945.5 71.3L943.7 74.3L941.3 76.6L938.4 79.0L936.8 80.1L940.8 80.1L944.4 81.9L947.3 83.7L950.2 85.4L952.5 87.1L953.1 89.5L955.4 90.5L957.7 92.4L960.6 93.6L963.5 92.8L964.7 90.7L963.5 88.9L966.4 87.7L970.6 86.9L974.0 87.7L976.4 88.4L979.3 86.9L982.7 85.4L986.3 84.8L988.6 86.0L989.8 88.9L988.0 91.8L985.6 94.2L982.7 96.0L981.1 98.3L981.6 101.3M664.4 101.3L665.0 104.8L665.5 107.8L663.9 109.5L662.1 110.7L659.2 111.3L662.6 111.8L666.2 113.0L669.7 114.8L672.6 116.5L674.9 118.8L676.1 122.4L677.8 124.2L681.4 125.3L684.8 127.7L688.3 128.9L691.9 129.5L695.3 129.5L697.7 129.5M623.0 101.3L624.8 104.2L625.4 108.4L625.6 113.0L627.2 116.3L630.6 114.5L634.7 112.8L638.8 110.7L642.9 108.6L646.9 107.5L649.8 107.8L651.6 109.2L655.0 108.1L659.2 107.1L662.6 106.2L664.8 105.5M627.2 116.3L631.2 115.2L635.9 113.6L640.5 112.8L645.2 111.6L649.8 110.9L654.5 111.6L658.6 112.2L661.0 110.5L663.9 109.2L665.5 107.8M627.2 116.3L624.3 120.1L621.9 123.0L624.3 124.8L625.9 127.7L626.5 131.8L625.4 135.3L622.5 137.6L620.1 140.6L619.6 144.1L618.3 146.4L614.9 147.1L611.4 146.8L607.9 147.7M607.9 149.4L610.2 150.6L612.0 152.9L610.2 155.2L607.9 155.8M697.7 129.5L693.0 130.0L689.5 132.4L687.2 134.7L685.4 138.3L682.5 137.6L677.8 138.8L673.1 140.1L668.5 139.7L663.9 138.6L659.2 137.6L654.5 138.3L651.0 140.1L651.6 143.0L653.9 145.9L655.0 148.2L653.9 150.6L655.7 152.9L656.8 156.5L659.2 159.4L662.6 159.9L661.5 162.3L665.0 164.1L667.9 165.2L666.2 168.2L662.6 170.5L660.3 172.9L659.2 176.3L659.2 180.0M697.7 129.5L698.8 132.9L700.6 136.5L703.5 138.8L706.9 141.2L709.3 142.4L707.6 145.3L706.4 148.2L708.2 150.6L710.5 152.9L712.8 155.2L714.5 158.1L713.4 160.5L710.5 162.3L708.2 163.5L706.4 161.2L703.5 162.3L702.9 165.2L704.6 168.2L706.4 171.7L706.9 175.2L709.8 176.3L711.6 178.7L712.8 180.0M709.3 142.4L712.8 141.2L717.4 140.1L719.2 136.5L721.5 133.6L723.3 130.6L725.7 129.7L729.1 130.0L731.4 130.6M731.4 130.6L734.8 131.2L738.3 132.4L741.9 131.2L744.8 128.9L747.1 126.6L750.0 127.1L752.3 126.9L754.7 129.5L759.3 130.9L763.9 130.0L766.3 130.6L769.9 128.9L773.3 127.3L778.0 125.9L781.5 127.3L784.9 125.9L787.8 124.8L789.0 122.4L791.9 121.0L796.6 120.1L801.3 119.2L805.9 119.5L810.6 118.6L814.1 118.3L817.6 119.9L822.3 121.2L825.8 122.6L828.1 123.0M828.1 123.0L831.6 121.9L836.2 122.2L840.9 123.3L843.8 122.4L843.3 118.8L840.4 116.5L840.9 113.6L844.4 112.5L846.2 110.7L844.9 107.8L842.0 105.5L838.6 104.2L836.2 102.4L835.7 101.3M828.1 123.0L828.7 126.6L826.9 129.5L825.5 132.4L826.9 135.3L829.2 136.5L828.7 140.6L829.9 143.0L827.5 145.3L829.2 147.7L831.6 149.4L832.1 151.8L835.1 153.5L838.0 155.2L840.9 155.8L843.8 154.1L846.2 153.5L848.0 155.8L851.4 158.1L854.8 159.0M854.8 158.8L859.4 159.7L864.1 160.2L868.8 161.7L872.3 162.3L875.7 162.8L879.3 162.3L882.8 161.2L885.7 164.1L888.6 165.9L890.9 167.5L892.0 170.5L895.0 171.7L896.7 172.2L899.6 171.7L900.8 169.3L903.7 170.5L906.1 171.7L907.2 168.8L910.1 168.2L912.4 167.0L913.7 164.1L914.2 162.3M914.2 162.3L913.7 158.8L915.3 155.2L916.0 152.3L914.2 150.0L913.7 147.7L916.0 146.2L920.0 146.8L924.7 147.7L927.1 149.4L929.4 152.9L931.7 155.2L935.2 157.6L938.7 158.8L941.7 157.4L943.3 159.4L946.9 161.2L949.2 162.8L951.5 161.2L954.4 159.9L955.6 157.0L958.5 155.2L961.4 154.7L963.8 152.9M914.2 162.3L917.7 162.8L921.3 164.1L923.6 166.4L925.3 169.3L926.5 171.7L929.4 174.6L930.5 176.3L928.2 177.6L929.4 180.0M953.8 101.3L957.4 103.1L960.9 104.8L963.8 106.6L964.9 104.8L966.7 106.6L969.6 108.4L971.4 111.8L972.5 115.4L974.3 118.8L976.0 121.2L976.6 124.2L974.3 126.6L971.4 128.9L969.6 130.6L967.9 133.6L964.9 135.3L962.7 138.3L964.9 140.1L967.2 141.2L966.1 143.5L962.7 144.1L958.5 143.0L954.4 141.7L952.2 143.5L952.7 145.9L956.2 147.7L959.6 148.2L962.0 149.4L963.8 151.8L963.8 152.9L965.6 154.7L967.9 152.9L969.6 150.0L967.9 147.7L970.2 145.3L973.7 143.0L976.0 143.5L978.3 146.4M978.3 146.4L979.8 148.2L983.4 149.4L986.9 150.6L989.2 152.9L990.9 156.5L992.7 158.8L995.0 160.5L998.5 161.4M980.4 101.3L983.4 103.7L988.0 106.0L991.5 107.1L995.0 106.6L996.1 108.9L998.5 110.7M659.2 179.9L656.8 182.3L653.9 185.3L651.6 187.0L652.8 188.7L649.2 190.5L646.9 191.6L645.2 195.2L642.9 198.7L639.3 201.7L635.9 204.0L633.5 207.5L631.2 210.4L628.8 214.0L625.4 214.9L621.9 215.8L618.3 216.5L616.0 214.0L613.1 213.4L610.2 214.5L607.9 216.3M607.9 228.6L610.8 231.5L610.2 235.1L613.1 238.5L616.0 239.8L617.2 243.9L619.0 246.8M712.7 179.9L717.4 181.1L721.4 182.9L723.2 185.3L726.7 186.4L729.7 188.2L732.4 190.3M732.4 190.3L734.0 187.6L736.4 186.4L740.0 186.4L742.9 188.2L744.5 190.3L748.1 191.6L751.6 194.0L755.0 195.8L757.4 198.1L760.3 200.5L763.2 198.7L765.5 199.3L767.8 202.3L770.2 204.0L773.8 206.4L776.7 206.7L777.8 208.7L780.7 209.8L783.6 209.3L785.4 211.6L787.7 213.4L789.5 211.6L792.4 212.7L794.7 211.9L797.6 213.4L800.5 214.5L804.0 214.9L807.6 214.2L810.5 214.0M732.4 190.3L730.0 189.3L727.1 191.6L724.8 194.7L723.0 198.1L721.9 201.7L720.7 204.0L723.6 205.2L727.1 206.7L730.6 208.1L733.5 210.6L736.9 212.2L741.1 214.5L744.5 215.8L748.1 216.5L751.6 218.7L755.0 219.8L757.4 220.8L760.9 219.2L764.4 219.8L766.7 218.7L769.1 220.5L771.4 222.8L774.3 224.5L777.8 226.3L780.7 226.8L784.2 227.5L787.7 228.6L791.2 229.8L794.7 230.9L797.6 229.8L800.5 230.4L804.0 230.9L807.6 230.6L810.5 230.2L811.2 226.8L809.8 223.4L810.5 218.7L810.5 214.0M810.5 214.0L813.4 212.7L816.3 211.9L818.6 214.0L819.2 217.4L818.6 221.0M811.2 230.4L813.4 229.2L815.0 230.9L813.4 233.3L811.0 235.1L810.5 238.0L812.1 239.8L815.7 240.9L818.6 242.1L820.3 243.9L818.1 245.0L814.5 245.6L813.9 246.8M813.4 229.2L816.3 230.4L819.2 231.5L821.0 230.9L822.6 232.7L826.2 233.3L827.9 235.1L828.5 238.5L829.7 242.1L831.4 243.9L834.2 244.5M818.5 221.0L820.6 218.7L823.5 214.5L827.1 211.9L831.1 210.2L834.6 210.6L839.3 211.6L843.9 212.2L847.4 213.4L849.7 215.1L851.0 218.1L853.9 219.8L855.5 221.6L854.4 224.5L852.1 226.3L847.4 226.8L842.8 226.6L838.1 226.3L833.5 227.5L830.0 228.0L825.3 226.8L821.7 225.7L819.5 223.9L818.5 221.0M849.7 215.1L853.3 215.8L856.8 215.1L860.2 213.4L862.6 211.1L865.5 209.3L867.8 206.9L870.7 206.4L874.3 204.6L876.6 202.3L878.9 200.5L881.9 198.7L884.8 199.3L887.1 201.0L890.6 200.5L894.0 198.7L896.9 197.6L899.8 197.3L902.2 199.3L902.8 202.3L901.1 204.6L902.2 207.5L905.2 208.7L908.1 209.3L911.6 209.8L912.8 211.1M912.8 211.1L915.0 208.1L917.9 207.5L920.3 209.3L922.6 210.6L923.8 215.1L925.5 217.4L928.4 220.5L929.6 225.7L929.1 230.4L927.3 235.1L924.4 238.0L922.0 240.9L919.7 243.9L917.9 246.8M912.8 211.1L911.3 214.5L909.0 217.4L907.2 219.8L909.8 222.3L906.3 220.5L902.2 221.6L898.7 223.4L895.3 225.1L891.7 227.5L889.3 230.4L888.2 233.3L889.3 235.6L887.7 238.5L885.3 241.6L883.5 244.5L883.0 246.8M929.1 179.9L930.2 183.5L931.4 187.0L932.0 191.6L932.5 196.3L933.1 200.5L930.7 201.7L928.4 202.8L927.3 205.2L925.5 207.5L923.8 209.3L922.6 210.6M813.6 229.2L815.9 230.4L818.3 231.5L820.6 232.2L824.1 232.7L827.6 233.8L828.8 237.4L829.3 240.9L831.1 243.9L834.6 244.5L839.3 244.2L843.9 244.7L848.6 245.0L853.3 245.6L857.9 246.8M813.6 239.8L815.9 242.1L818.3 244.5L820.1 246.8M933.2 200.5L933.9 204.6L935.0 208.1L936.1 210.4L937.3 207.5L939.7 204.6L941.3 206.9L943.1 209.3L944.9 211.1L946.0 214.0L948.9 214.5L950.7 215.1L952.5 218.1L954.2 221.0L956.0 223.9L958.3 226.3L960.1 229.2L961.8 232.7L964.1 234.5L967.0 233.8L970.6 232.7L974.0 232.2L976.4 230.4L976.9 226.8L975.1 224.5L976.4 221.0L978.7 218.7L980.4 215.1L982.2 212.2L984.5 209.3L985.6 206.9L989.2 206.4L991.5 208.1L992.1 211.6L995.0 214.0L998.5 213.4M998.5 220.5L995.0 220.5L991.5 219.8L988.0 219.8L985.1 221.6L983.4 223.9L985.1 226.3L984.5 229.2L988.0 228.0L991.5 228.0L994.4 229.8L995.6 232.7L993.9 235.6L992.1 238.5L993.2 241.6L995.6 243.9L997.3 245.6L998.5 246.8" stroke="#111" stroke-width="0.85" fill="none" stroke-linejoin="round" opacity=".9"/>
<rect x="608.30" y="23.50" width="390.50" height="223.30" fill="none" stroke="#111" stroke-width=".8"/>
<text class="title" x="803.5" y="18.9" font-size="12.60" text-anchor="middle">(b) Fractional agreement for cloudy-sky condition</text>
<text x="608.3" y="258.2" font-size="8.20" text-anchor="middle">70°E</text>
<text x="664.1" y="258.2" font-size="8.20" text-anchor="middle">75°E</text>
<text x="719.9" y="258.2" font-size="8.20" text-anchor="middle">80°E</text>
<text x="775.7" y="258.2" font-size="8.20" text-anchor="middle">85°E</text>
<text x="831.4" y="258.2" font-size="8.20" text-anchor="middle">90°E</text>
<text x="887.2" y="258.2" font-size="8.20" text-anchor="middle">95°E</text>
<text x="943.0" y="258.2" font-size="8.20" text-anchor="middle">100°E</text>
<text x="998.8" y="258.2" font-size="8.20" text-anchor="middle">105°E</text>
<text x="603.4" y="26.5" font-size="8.20" text-anchor="end">45°N</text>
<text x="603.4" y="82.3" font-size="8.20" text-anchor="end">40°N</text>
<text x="603.4" y="138.1" font-size="8.20" text-anchor="end">35°N</text>
<text x="603.4" y="193.9" font-size="8.20" text-anchor="end">30°N</text>
<text x="603.4" y="249.8" font-size="8.20" text-anchor="end">25°N</text>
<linearGradient id="gjetb" x1="0" y1="0" x2="0" y2="1"><stop offset="0.000" stop-color="#800000"/><stop offset="0.031" stop-color="#9f0000"/><stop offset="0.062" stop-color="#c40000"/><stop offset="0.094" stop-color="#e80000"/><stop offset="0.125" stop-color="#ff1e00"/><stop offset="0.156" stop-color="#ff3b00"/><stop offset="0.188" stop-color="#ff5900"/><stop offset="0.219" stop-color="#ff7700"/><stop offset="0.250" stop-color="#ff9400"/><stop offset="0.281" stop-color="#ffb200"/><stop offset="0.312" stop-color="#ffd000"/><stop offset="0.344" stop-color="#feed00"/><stop offset="0.375" stop-color="#e4ff13"/><stop offset="0.406" stop-color="#caff2c"/><stop offset="0.438" stop-color="#b1ff46"/><stop offset="0.469" stop-color="#97ff60"/><stop offset="0.500" stop-color="#7dff7a"/><stop offset="0.531" stop-color="#63ff94"/><stop offset="0.562" stop-color="#49ffad"/><stop offset="0.594" stop-color="#30ffc7"/><stop offset="0.625" stop-color="#16ffe1"/><stop offset="0.656" stop-color="#00e0fb"/><stop offset="0.688" stop-color="#00c0ff"/><stop offset="0.719" stop-color="#00a0ff"/><stop offset="0.750" stop-color="#0080ff"/><stop offset="0.781" stop-color="#0060ff"/><stop offset="0.812" stop-color="#0040ff"/><stop offset="0.844" stop-color="#0020ff"/><stop offset="0.875" stop-color="#0000ff"/><stop offset="0.906" stop-color="#0000ed"/><stop offset="0.938" stop-color="#0000c8"/><stop offset="0.969" stop-color="#0000a4"/><stop offset="1.000" stop-color="#000080"/></linearGradient>
<rect x="1007.20" y="23.50" width="19.60" height="223.30" fill="url(#gjetb)" stroke="#000" stroke-width=".6"/>
<text x="1031.0" y="248.7" font-size="5.40">0.2</text>
<text x="1031.0" y="220.8" font-size="5.40">0.3</text>
<text x="1031.0" y="192.9" font-size="5.40">0.4</text>
<text x="1031.0" y="165.0" font-size="5.40">0.5</text>
<text x="1031.0" y="137.1" font-size="5.40">0.6</text>
<text x="1031.0" y="109.2" font-size="5.40">0.7</text>
<text x="1031.0" y="81.3" font-size="5.40">0.8</text>
<text x="1031.0" y="53.4" font-size="5.40">0.9</text>
<text x="1031.0" y="25.4" font-size="5.40">1.0</text>
<path d="M1026.80 246.80h2M1026.80 218.89h2M1026.80 190.97h2M1026.80 163.06h2M1026.80 135.15h2M1026.80 107.24h2M1026.80 79.32h2M1026.80 51.41h2M1026.80 23.50h2" stroke="#000" stroke-width=".6"/>
<text class="cbl" transform="translate(1052.8 135.2) rotate(-90)" font-size="12.60" text-anchor="middle">Fractional Agreement</text>
</g>
<g id="panel-c">
<clipPath id="cqc"><rect x="54.50" y="433.50" width="376.50" height="214.70"/></clipPath>
<rect x="54.50" y="433.50" width="376.50" height="214.70" fill="#fff"/>
<g filter="url(#bl)" clip-path="url(#cqc)">
<rect x="51.50" y="430.50" width="382.50" height="220.70" fill="#fff"/>
<g shape-rendering="crispEdges" transform="translate(54.50 433.50) scale(5.37857 5.36750)">
<path fill="#e4e3f0" d="M0 0h5v1h-5zM9 0h5v1h-5zM15 0h3v1h-3zM20 0h3v1h-3zM24 0h3v1h-3zM29 0h1v1h-1zM32 0h3v1h-3zM0 1h1v1h-1zM5 1h1v1h-1zM14 1h5v1h-5zM20 1h1v1h-1zM22 1h1v1h-1zM24 1h2v1h-2zM27 1h5v1h-5zM33 1h3v1h-3zM59 1h1v1h-1zM0 2h2v1h-2zM7 2h7v1h-7zM19 2h1v1h-1zM22 2h6v1h-6zM31 2h1v1h-1zM56 2h1v1h-1zM0 3h3v1h-3zM7 3h1v1h-1zM9 3h5v1h-5zM19 3h1v1h-1zM21 3h1v1h-1zM23 3h2v1h-2zM28 3h2v1h-2zM33 3h2v1h-2zM47 3h1v1h-1zM66 3h2v1h-2zM4 4h3v1h-3zM12 4h3v1h-3zM18 4h1v1h-1zM20 4h1v1h-1zM22 4h2v1h-2zM28 4h2v1h-2zM55 4h1v1h-1zM65 4h4v1h-4zM2 5h3v1h-3zM11 5h2v1h-2zM16 5h1v1h-1zM25 5h2v1h-2zM28 5h2v1h-2zM33 5h1v1h-1zM55 5h1v1h-1zM60 5h2v1h-2zM65 5h4v1h-4zM2 6h3v1h-3zM8 6h2v1h-2zM14 6h5v1h-5zM24 6h6v1h-6zM55 6h1v1h-1zM2 7h1v1h-1zM4 7h5v1h-5zM12 7h1v1h-1zM14 7h1v1h-1zM24 7h1v1h-1zM28 7h1v1h-1zM55 7h1v1h-1zM0 8h1v1h-1zM2 8h5v1h-5zM8 8h1v1h-1zM13 8h1v1h-1zM26 8h1v1h-1zM40 8h1v1h-1zM56 8h1v1h-1zM2 9h2v1h-2zM12 9h1v1h-1zM56 9h2v1h-2zM0 10h1v1h-1zM4 10h4v1h-4zM57 10h1v1h-1zM5 11h2v1h-2zM12 11h1v1h-1zM56 11h3v1h-3zM60 11h1v1h-1zM4 12h1v1h-1zM10 12h1v1h-1zM61 12h1v1h-1zM66 12h1v1h-1zM0 13h2v1h-2zM10 13h1v1h-1zM54 13h2v1h-2zM64 13h2v1h-2zM0 14h2v1h-2zM35 14h2v1h-2zM40 14h2v1h-2zM54 14h1v1h-1zM65 14h1v1h-1zM40 15h3v1h-3zM57 15h1v1h-1zM66 15h1v1h-1zM16 16h1v1h-1zM28 16h1v1h-1zM40 16h1v1h-1zM42 16h1v1h-1zM50 16h1v1h-1zM8 17h6v1h-6zM16 17h1v1h-1zM19 17h2v1h-2zM27 17h2v1h-2zM56 17h1v1h-1zM62 17h1v1h-1zM67 17h1v1h-1zM6 18h1v1h-1zM8 18h2v1h-2zM12 18h1v1h-1zM15 18h1v1h-1zM19 18h1v1h-1zM36 18h3v1h-3zM51 18h8v1h-8zM62 18h1v1h-1zM65 18h3v1h-3zM3 19h1v1h-1zM6 19h7v1h-7zM14 19h9v1h-9zM27 19h3v1h-3zM35 19h4v1h-4zM42 19h1v1h-1zM59 19h2v1h-2zM62 19h1v1h-1zM66 19h3v1h-3zM6 20h1v1h-1zM8 20h6v1h-6zM17 20h3v1h-3zM27 20h3v1h-3zM33 20h1v1h-1zM39 20h1v1h-1zM67 20h1v1h-1zM6 21h2v1h-2zM12 21h1v1h-1zM15 21h4v1h-4zM27 21h3v1h-3zM34 21h1v1h-1zM36 21h2v1h-2zM39 21h1v1h-1zM1 22h1v1h-1zM6 22h2v1h-2zM15 22h4v1h-4zM27 22h3v1h-3zM31 22h2v1h-2zM34 22h4v1h-4zM64 22h3v1h-3zM6 23h2v1h-2zM11 23h1v1h-1zM14 23h1v1h-1zM16 23h4v1h-4zM27 23h2v1h-2zM44 23h3v1h-3zM64 23h3v1h-3zM6 24h2v1h-2zM15 24h4v1h-4zM20 24h1v1h-1zM27 24h1v1h-1zM32 24h1v1h-1zM61 24h3v1h-3zM6 25h1v1h-1zM8 25h1v1h-1zM15 25h1v1h-1zM20 25h1v1h-1zM25 25h4v1h-4zM61 25h3v1h-3zM20 26h1v1h-1zM25 26h2v1h-2zM39 26h1v1h-1zM42 26h1v1h-1zM54 26h2v1h-2zM61 26h2v1h-2zM64 26h1v1h-1zM19 27h1v1h-1zM21 27h1v1h-1zM26 27h1v1h-1zM31 27h1v1h-1zM41 27h1v1h-1zM43 27h1v1h-1zM54 27h2v1h-2zM62 27h1v1h-1zM1 28h1v1h-1zM6 28h1v1h-1zM8 28h1v1h-1zM20 28h3v1h-3zM30 28h2v1h-2zM61 28h2v1h-2zM1 29h1v1h-1zM6 29h2v1h-2zM10 29h2v1h-2zM62 29h2v1h-2zM8 30h2v1h-2zM8 31h1v1h-1zM8 32h3v1h-3zM8 33h1v1h-1zM7 34h2v1h-2zM69 34h1v1h-1zM7 35h1v1h-1zM69 35h1v1h-1zM6 36h2v1h-2zM0 37h2v1h-2zM6 37h1v1h-1zM2 38h1v1h-1zM5 38h1v1h-1zM9 38h1v1h-1zM0 39h1v1h-1zM3 39h1v1h-1zM7 39h2v1h-2z"/>
<path fill="#d0d1e6" d="M5 0h1v1h-1zM8 0h1v1h-1zM14 0h1v1h-1zM30 0h2v1h-2zM35 0h4v1h-4zM1 1h4v1h-4zM6 1h2v1h-2zM12 1h2v1h-2zM21 1h1v1h-1zM36 1h3v1h-3zM54 1h3v1h-3zM2 2h1v1h-1zM6 2h1v1h-1zM14 2h1v1h-1zM20 2h2v1h-2zM41 2h3v1h-3zM47 2h1v1h-1zM3 3h1v1h-1zM6 3h1v1h-1zM14 3h3v1h-3zM18 3h1v1h-1zM20 3h1v1h-1zM22 3h1v1h-1zM35 3h1v1h-1zM38 3h3v1h-3zM49 3h1v1h-1zM54 3h2v1h-2zM15 4h3v1h-3zM21 4h1v1h-1zM35 4h1v1h-1zM38 4h2v1h-2zM43 4h1v1h-1zM31 5h2v1h-2zM34 5h1v1h-1zM56 5h4v1h-4zM5 6h3v1h-3zM20 6h4v1h-4zM30 6h3v1h-3zM56 6h3v1h-3zM61 6h2v1h-2zM66 6h1v1h-1zM9 7h3v1h-3zM29 7h2v1h-2zM33 7h1v1h-1zM56 7h4v1h-4zM7 8h1v1h-1zM21 8h1v1h-1zM55 8h1v1h-1zM57 8h3v1h-3zM1 9h1v1h-1zM25 9h1v1h-1zM40 9h1v1h-1zM54 9h2v1h-2zM58 9h1v1h-1zM56 10h1v1h-1zM58 10h1v1h-1zM7 11h1v1h-1zM9 11h1v1h-1zM15 11h1v1h-1zM54 11h2v1h-2zM59 11h1v1h-1zM62 12h4v1h-4zM67 12h1v1h-1zM2 13h1v1h-1zM12 13h1v1h-1zM36 13h3v1h-3zM43 13h1v1h-1zM4 14h1v1h-1zM37 14h2v1h-2zM53 14h1v1h-1zM6 15h3v1h-3zM13 15h1v1h-1zM19 15h1v1h-1zM31 15h1v1h-1zM36 15h3v1h-3zM43 15h1v1h-1zM56 15h1v1h-1zM5 16h4v1h-4zM17 16h1v1h-1zM29 16h1v1h-1zM35 16h5v1h-5zM51 16h1v1h-1zM55 16h4v1h-4zM60 16h2v1h-2zM66 16h2v1h-2zM69 16h1v1h-1zM5 17h3v1h-3zM14 17h2v1h-2zM29 17h11v1h-11zM51 17h2v1h-2zM57 17h3v1h-3zM61 17h1v1h-1zM66 17h1v1h-1zM68 17h1v1h-1zM0 18h1v1h-1zM2 18h2v1h-2zM7 18h1v1h-1zM18 18h1v1h-1zM28 18h2v1h-2zM31 18h3v1h-3zM35 18h1v1h-1zM59 18h3v1h-3zM68 18h2v1h-2zM1 19h2v1h-2zM23 19h1v1h-1zM31 19h4v1h-4zM61 19h1v1h-1zM69 19h1v1h-1zM2 20h4v1h-4zM21 20h1v1h-1zM4 21h1v1h-1zM8 21h1v1h-1zM13 21h2v1h-2zM19 21h1v1h-1zM0 22h1v1h-1zM3 22h3v1h-3zM13 22h2v1h-2zM19 22h1v1h-1zM26 22h1v1h-1zM0 23h1v1h-1zM5 23h1v1h-1zM15 23h1v1h-1zM20 23h1v1h-1zM26 23h1v1h-1zM0 24h1v1h-1zM4 24h2v1h-2zM26 24h1v1h-1zM64 24h1v1h-1zM0 25h1v1h-1zM5 25h1v1h-1zM7 25h1v1h-1zM64 25h1v1h-1zM6 26h3v1h-3zM18 26h1v1h-1zM21 26h1v1h-1zM24 26h1v1h-1zM6 27h3v1h-3zM24 27h2v1h-2zM61 27h1v1h-1zM0 28h1v1h-1zM4 28h2v1h-2zM7 28h1v1h-1zM5 29h1v1h-1zM2 30h1v1h-1zM6 30h2v1h-2zM2 31h1v1h-1zM0 32h2v1h-2zM7 32h1v1h-1zM7 33h1v1h-1zM6 35h1v1h-1zM2 37h1v1h-1zM5 37h1v1h-1zM3 38h2v1h-2zM8 38h1v1h-1z"/>
<path fill="#aaa8d0" d="M6 0h2v1h-2zM39 0h1v1h-1zM10 1h1v1h-1zM40 1h1v1h-1zM42 1h1v1h-1zM46 1h1v1h-1zM53 1h1v1h-1zM44 2h1v1h-1zM54 2h1v1h-1zM42 3h4v1h-4zM40 4h2v1h-2zM46 4h3v1h-3zM14 5h1v1h-1zM35 5h4v1h-4zM40 5h1v1h-1zM45 5h1v1h-1zM19 6h1v1h-1zM33 6h2v1h-2zM37 6h1v1h-1zM40 6h3v1h-3zM45 6h1v1h-1zM65 6h1v1h-1zM34 7h1v1h-1zM37 7h1v1h-1zM40 7h4v1h-4zM54 7h1v1h-1zM66 7h4v1h-4zM32 8h5v1h-5zM54 8h1v1h-1zM64 8h5v1h-5zM0 9h1v1h-1zM24 9h1v1h-1zM26 9h1v1h-1zM61 9h9v1h-9zM8 10h1v1h-1zM16 10h1v1h-1zM31 10h1v1h-1zM38 10h1v1h-1zM41 10h1v1h-1zM52 10h2v1h-2zM60 10h5v1h-5zM8 11h1v1h-1zM11 11h1v1h-1zM25 11h1v1h-1zM32 11h1v1h-1zM35 11h2v1h-2zM38 11h4v1h-4zM46 11h1v1h-1zM62 11h4v1h-4zM69 11h1v1h-1zM5 12h1v1h-1zM11 12h1v1h-1zM15 12h1v1h-1zM21 12h1v1h-1zM30 12h3v1h-3zM34 12h1v1h-1zM39 12h3v1h-3zM45 12h2v1h-2zM51 12h1v1h-1zM5 13h1v1h-1zM21 13h1v1h-1zM26 13h1v1h-1zM30 13h2v1h-2zM33 13h1v1h-1zM41 13h2v1h-2zM44 13h4v1h-4zM67 13h2v1h-2zM3 14h1v1h-1zM5 14h1v1h-1zM10 14h1v1h-1zM26 14h1v1h-1zM30 14h1v1h-1zM33 14h1v1h-1zM51 14h1v1h-1zM66 14h1v1h-1zM3 15h1v1h-1zM5 15h1v1h-1zM9 15h4v1h-4zM20 15h1v1h-1zM29 15h1v1h-1zM44 15h3v1h-3zM54 15h1v1h-1zM2 16h2v1h-2zM21 16h2v1h-2zM26 16h1v1h-1zM47 16h3v1h-3zM1 17h1v1h-1zM26 17h1v1h-1zM16 18h2v1h-2zM23 18h1v1h-1zM0 19h1v1h-1zM1 20h1v1h-1zM23 20h2v1h-2zM23 21h1v1h-1zM2 22h1v1h-1zM9 22h2v1h-2zM25 22h1v1h-1zM1 23h1v1h-1zM22 23h1v1h-1zM2 25h1v1h-1zM22 25h1v1h-1zM24 25h1v1h-1zM1 26h1v1h-1zM1 27h1v1h-1zM2 29h2v1h-2zM0 30h1v1h-1zM3 30h1v1h-1zM6 31h2v1h-2zM1 35h1v1h-1zM4 35h2v1h-2zM3 36h1v1h-1z"/>
<path fill="#f4f2f8" d="M18 0h2v1h-2zM23 0h1v1h-1zM27 0h2v1h-2zM57 0h6v1h-6zM65 0h5v1h-5zM19 1h1v1h-1zM23 1h1v1h-1zM32 1h1v1h-1zM57 1h2v1h-2zM60 1h10v1h-10zM28 2h3v1h-3zM32 2h5v1h-5zM46 2h1v1h-1zM57 2h13v1h-13zM8 3h1v1h-1zM25 3h3v1h-3zM30 3h3v1h-3zM48 3h1v1h-1zM56 3h10v1h-10zM68 3h2v1h-2zM0 4h4v1h-4zM7 4h5v1h-5zM19 4h1v1h-1zM24 4h1v1h-1zM27 4h1v1h-1zM30 4h3v1h-3zM56 4h9v1h-9zM69 4h1v1h-1zM0 5h2v1h-2zM5 5h6v1h-6zM17 5h3v1h-3zM23 5h2v1h-2zM27 5h1v1h-1zM30 5h1v1h-1zM62 5h3v1h-3zM69 5h1v1h-1zM0 6h2v1h-2zM10 6h4v1h-4zM0 7h2v1h-2zM3 7h1v1h-1zM13 7h1v1h-1zM27 7h1v1h-1zM31 7h2v1h-2zM1 8h1v1h-1zM9 8h4v1h-4zM20 8h1v1h-1zM24 8h2v1h-2zM4 9h8v1h-8zM1 10h3v1h-3zM0 11h5v1h-5zM52 11h2v1h-2zM0 12h4v1h-4zM52 12h4v1h-4zM59 12h2v1h-2zM53 13h1v1h-1zM62 13h2v1h-2zM55 14h3v1h-3zM61 14h4v1h-4zM58 15h8v1h-8zM13 16h3v1h-3zM41 16h1v1h-1zM59 16h1v1h-1zM62 16h4v1h-4zM17 17h2v1h-2zM40 17h11v1h-11zM63 17h3v1h-3zM4 18h2v1h-2zM10 18h2v1h-2zM13 18h2v1h-2zM39 18h10v1h-10zM63 18h2v1h-2zM4 19h2v1h-2zM13 19h1v1h-1zM39 19h3v1h-3zM43 19h6v1h-6zM51 19h8v1h-8zM63 19h3v1h-3zM7 20h1v1h-1zM14 20h3v1h-3zM20 20h1v1h-1zM30 20h3v1h-3zM34 20h5v1h-5zM40 20h8v1h-8zM51 20h16v1h-16zM68 20h2v1h-2zM3 21h1v1h-1zM10 21h2v1h-2zM20 21h1v1h-1zM30 21h4v1h-4zM35 21h1v1h-1zM38 21h1v1h-1zM40 21h7v1h-7zM51 21h19v1h-19zM8 22h1v1h-1zM11 22h2v1h-2zM30 22h1v1h-1zM33 22h1v1h-1zM38 22h9v1h-9zM51 22h4v1h-4zM58 22h2v1h-2zM62 22h2v1h-2zM67 22h3v1h-3zM8 23h3v1h-3zM12 23h2v1h-2zM29 23h15v1h-15zM51 23h4v1h-4zM62 23h2v1h-2zM67 23h3v1h-3zM8 24h2v1h-2zM14 24h1v1h-1zM19 24h1v1h-1zM28 24h4v1h-4zM33 24h14v1h-14zM52 24h3v1h-3zM65 24h5v1h-5zM9 25h1v1h-1zM14 25h1v1h-1zM16 25h4v1h-4zM29 25h5v1h-5zM36 25h11v1h-11zM51 25h5v1h-5zM60 25h1v1h-1zM65 25h5v1h-5zM9 26h1v1h-1zM14 26h1v1h-1zM16 26h2v1h-2zM19 26h1v1h-1zM27 26h1v1h-1zM30 26h9v1h-9zM40 26h2v1h-2zM43 26h3v1h-3zM51 26h3v1h-3zM56 26h1v1h-1zM60 26h1v1h-1zM63 26h1v1h-1zM65 26h5v1h-5zM9 27h1v1h-1zM13 27h6v1h-6zM22 27h2v1h-2zM27 27h1v1h-1zM30 27h1v1h-1zM32 27h9v1h-9zM42 27h1v1h-1zM44 27h2v1h-2zM51 27h3v1h-3zM56 27h1v1h-1zM60 27h1v1h-1zM63 27h7v1h-7zM9 28h3v1h-3zM23 28h4v1h-4zM32 28h13v1h-13zM51 28h5v1h-5zM60 28h1v1h-1zM63 28h1v1h-1zM66 28h4v1h-4zM8 29h2v1h-2zM20 29h3v1h-3zM40 29h4v1h-4zM51 29h5v1h-5zM60 29h2v1h-2zM66 29h4v1h-4zM1 30h1v1h-1zM10 30h3v1h-3zM42 30h2v1h-2zM55 30h2v1h-2zM62 30h1v1h-1zM67 30h3v1h-3zM1 31h1v1h-1zM9 31h2v1h-2zM31 31h7v1h-7zM42 31h2v1h-2zM55 31h2v1h-2zM62 31h1v1h-1zM67 31h3v1h-3zM11 32h1v1h-1zM31 32h7v1h-7zM63 32h2v1h-2zM68 32h2v1h-2zM9 33h3v1h-3zM36 33h2v1h-2zM63 33h2v1h-2zM69 33h1v1h-1zM9 34h1v1h-1zM11 34h1v1h-1zM56 34h1v1h-1zM64 34h1v1h-1zM8 35h3v1h-3zM56 35h2v1h-2zM8 36h3v1h-3zM12 36h1v1h-1zM7 37h4v1h-4zM13 37h1v1h-1zM0 38h2v1h-2zM6 38h2v1h-2zM10 38h1v1h-1zM1 39h2v1h-2zM4 39h3v1h-3zM9 39h2v1h-2z"/>
<path fill="#9894c5" d="M40 0h3v1h-3zM46 0h5v1h-5zM9 1h1v1h-1zM41 1h1v1h-1zM43 1h1v1h-1zM45 1h1v1h-1zM47 1h3v1h-3zM17 2h2v1h-2zM48 2h2v1h-2zM45 4h1v1h-1zM49 4h1v1h-1zM54 5h1v1h-1zM35 6h2v1h-2zM38 6h2v1h-2zM54 6h1v1h-1zM64 6h1v1h-1zM16 7h4v1h-4zM22 7h1v1h-1zM35 7h2v1h-2zM38 7h2v1h-2zM44 7h2v1h-2zM14 8h4v1h-4zM28 8h4v1h-4zM37 8h3v1h-3zM53 8h1v1h-1zM22 9h1v1h-1zM27 9h1v1h-1zM42 9h1v1h-1zM18 10h1v1h-1zM22 10h1v1h-1zM24 10h1v1h-1zM32 10h3v1h-3zM42 10h1v1h-1zM13 11h1v1h-1zM16 11h1v1h-1zM22 11h1v1h-1zM30 11h1v1h-1zM33 11h2v1h-2zM42 11h4v1h-4zM47 11h1v1h-1zM25 12h1v1h-1zM33 12h1v1h-1zM42 12h3v1h-3zM48 12h1v1h-1zM6 13h1v1h-1zM15 13h1v1h-1zM32 13h1v1h-1zM48 13h1v1h-1zM50 13h1v1h-1zM66 13h1v1h-1zM9 14h1v1h-1zM20 14h1v1h-1zM25 14h1v1h-1zM27 14h1v1h-1zM32 14h1v1h-1zM42 14h2v1h-2zM46 14h2v1h-2zM67 14h2v1h-2zM0 15h1v1h-1zM4 15h1v1h-1zM15 15h1v1h-1zM21 15h2v1h-2zM47 15h2v1h-2zM52 15h1v1h-1zM24 18h2v1h-2zM26 19h1v1h-1zM25 20h1v1h-1zM9 21h1v1h-1zM24 21h2v1h-2zM21 22h2v1h-2zM25 23h1v1h-1zM1 24h1v1h-1zM3 25h2v1h-2zM23 25h1v1h-1zM4 27h1v1h-1zM20 27h1v1h-1zM4 30h1v1h-1zM5 32h1v1h-1zM2 34h1v1h-1zM5 34h1v1h-1zM2 35h2v1h-2zM1 36h2v1h-2z"/>
<path fill="#8683bd" d="M43 0h1v1h-1zM45 0h1v1h-1zM52 0h1v1h-1zM44 1h1v1h-1zM50 1h2v1h-2zM50 2h1v1h-1zM53 3h1v1h-1zM39 5h1v1h-1zM49 5h1v1h-1zM49 6h1v1h-1zM50 7h2v1h-2zM18 8h2v1h-2zM43 8h3v1h-3zM13 9h1v1h-1zM16 9h6v1h-6zM23 9h1v1h-1zM28 9h1v1h-1zM33 9h5v1h-5zM43 9h1v1h-1zM9 10h2v1h-2zM15 10h1v1h-1zM23 10h1v1h-1zM26 10h1v1h-1zM35 10h3v1h-3zM43 10h1v1h-1zM47 10h1v1h-1zM10 11h1v1h-1zM21 11h1v1h-1zM26 11h1v1h-1zM48 11h4v1h-4zM6 12h2v1h-2zM9 12h1v1h-1zM14 12h1v1h-1zM26 12h1v1h-1zM47 12h1v1h-1zM6 14h3v1h-3zM13 14h4v1h-4zM19 14h1v1h-1zM21 14h1v1h-1zM29 14h1v1h-1zM31 14h1v1h-1zM16 15h1v1h-1zM25 15h1v1h-1zM28 15h1v1h-1zM51 15h1v1h-1zM53 15h1v1h-1zM18 16h2v1h-2zM53 16h1v1h-1zM22 17h4v1h-4zM25 19h1v1h-1zM0 20h1v1h-1zM21 23h1v1h-1zM23 23h2v1h-2zM23 24h2v1h-2zM2 26h1v1h-1zM3 28h1v1h-1zM5 31h1v1h-1zM2 32h1v1h-1zM4 32h1v1h-1zM4 33h3v1h-3zM1 34h1v1h-1zM3 34h2v1h-2z"/>
<path fill="#786db2" d="M44 0h1v1h-1zM51 0h1v1h-1zM52 1h1v1h-1zM50 3h1v1h-1zM54 4h1v1h-1zM48 6h1v1h-1zM50 6h1v1h-1zM46 7h1v1h-1zM48 7h2v1h-2zM46 8h1v1h-1zM29 9h1v1h-1zM32 9h1v1h-1zM38 9h2v1h-2zM44 9h3v1h-3zM49 9h1v1h-1zM21 10h1v1h-1zM46 10h1v1h-1zM7 13h1v1h-1zM9 13h1v1h-1zM13 13h1v1h-1zM25 13h1v1h-1zM48 14h1v1h-1zM23 16h1v1h-1zM0 21h1v1h-1zM2 28h1v1h-1zM4 31h1v1h-1zM6 32h1v1h-1z"/>
<path fill="#bebedd" d="M53 0h4v1h-4zM8 1h1v1h-1zM11 1h1v1h-1zM39 1h1v1h-1zM3 2h3v1h-3zM15 2h2v1h-2zM45 2h1v1h-1zM55 2h1v1h-1zM4 3h2v1h-2zM17 3h1v1h-1zM36 3h2v1h-2zM41 3h1v1h-1zM46 3h1v1h-1zM36 4h2v1h-2zM42 4h1v1h-1zM44 4h1v1h-1zM13 5h1v1h-1zM15 5h1v1h-1zM41 5h4v1h-4zM43 6h2v1h-2zM59 6h2v1h-2zM63 6h1v1h-1zM67 6h3v1h-3zM15 7h1v1h-1zM20 7h2v1h-2zM23 7h1v1h-1zM60 7h6v1h-6zM22 8h2v1h-2zM27 8h1v1h-1zM42 8h1v1h-1zM60 8h4v1h-4zM69 8h1v1h-1zM41 9h1v1h-1zM53 9h1v1h-1zM59 9h2v1h-2zM17 10h1v1h-1zM25 10h1v1h-1zM39 10h2v1h-2zM54 10h2v1h-2zM59 10h1v1h-1zM65 10h5v1h-5zM31 11h1v1h-1zM37 11h1v1h-1zM61 11h1v1h-1zM66 11h3v1h-3zM35 12h4v1h-4zM68 12h2v1h-2zM3 13h2v1h-2zM34 13h2v1h-2zM39 13h2v1h-2zM69 13h1v1h-1zM2 14h1v1h-1zM11 14h2v1h-2zM34 14h1v1h-1zM39 14h1v1h-1zM44 14h2v1h-2zM52 14h1v1h-1zM69 14h1v1h-1zM1 15h2v1h-2zM14 15h1v1h-1zM26 15h2v1h-2zM30 15h1v1h-1zM32 15h4v1h-4zM39 15h1v1h-1zM55 15h1v1h-1zM67 15h3v1h-3zM0 16h2v1h-2zM4 16h1v1h-1zM9 16h4v1h-4zM20 16h1v1h-1zM27 16h1v1h-1zM30 16h5v1h-5zM43 16h4v1h-4zM52 16h1v1h-1zM54 16h1v1h-1zM68 16h1v1h-1zM0 17h1v1h-1zM2 17h3v1h-3zM21 17h1v1h-1zM53 17h3v1h-3zM60 17h1v1h-1zM69 17h1v1h-1zM1 18h1v1h-1zM22 18h1v1h-1zM26 18h2v1h-2zM30 18h1v1h-1zM34 18h1v1h-1zM24 19h1v1h-1zM30 19h1v1h-1zM22 20h1v1h-1zM26 20h1v1h-1zM2 21h1v1h-1zM5 21h1v1h-1zM21 21h2v1h-2zM26 21h1v1h-1zM20 22h1v1h-1zM23 22h2v1h-2zM2 23h3v1h-3zM2 24h2v1h-2zM21 24h2v1h-2zM25 24h1v1h-1zM21 25h1v1h-1zM0 26h1v1h-1zM5 26h1v1h-1zM22 26h2v1h-2zM0 27h1v1h-1zM5 27h1v1h-1zM0 29h1v1h-1zM4 29h1v1h-1zM5 30h1v1h-1zM0 31h1v1h-1zM3 31h1v1h-1zM0 33h1v1h-1zM6 34h1v1h-1zM4 36h2v1h-2zM3 37h2v1h-2z"/>
<path fill="#faf9fc" d="M63 0h2v1h-2zM26 1h1v1h-1zM37 2h4v1h-4zM25 4h2v1h-2zM33 4h2v1h-2zM20 5h3v1h-3zM25 7h2v1h-2zM41 8h1v1h-1zM56 12h3v1h-3zM11 13h1v1h-1zM14 13h1v1h-1zM51 13h2v1h-2zM56 13h6v1h-6zM58 14h3v1h-3zM20 18h2v1h-2zM49 18h2v1h-2zM49 19h2v1h-2zM48 20h3v1h-3zM47 21h4v1h-4zM47 22h4v1h-4zM55 22h3v1h-3zM60 22h2v1h-2zM47 23h4v1h-4zM55 23h7v1h-7zM10 24h4v1h-4zM47 24h5v1h-5zM55 24h6v1h-6zM10 25h4v1h-4zM34 25h2v1h-2zM47 25h4v1h-4zM56 25h4v1h-4zM10 26h4v1h-4zM15 26h1v1h-1zM28 26h2v1h-2zM46 26h5v1h-5zM57 26h3v1h-3zM10 27h3v1h-3zM28 27h2v1h-2zM46 27h5v1h-5zM57 27h3v1h-3zM12 28h8v1h-8zM27 28h3v1h-3zM45 28h6v1h-6zM56 28h4v1h-4zM64 28h2v1h-2zM12 29h8v1h-8zM23 29h17v1h-17zM44 29h7v1h-7zM56 29h4v1h-4zM64 29h2v1h-2zM13 30h29v1h-29zM44 30h11v1h-11zM57 30h5v1h-5zM63 30h4v1h-4zM11 31h20v1h-20zM38 31h4v1h-4zM44 31h11v1h-11zM57 31h5v1h-5zM63 31h4v1h-4zM12 32h9v1h-9zM22 32h9v1h-9zM38 32h25v1h-25zM65 32h3v1h-3zM12 33h8v1h-8zM30 33h6v1h-6zM38 33h6v1h-6zM50 33h13v1h-13zM65 33h4v1h-4zM10 34h1v1h-1zM12 34h8v1h-8zM50 34h6v1h-6zM57 34h7v1h-7zM65 34h4v1h-4zM11 35h9v1h-9zM49 35h7v1h-7zM58 35h11v1h-11zM11 36h1v1h-1zM13 36h7v1h-7zM50 36h10v1h-10zM62 36h8v1h-8zM11 37h2v1h-2zM14 37h6v1h-6zM50 37h10v1h-10zM63 37h7v1h-7zM11 38h9v1h-9zM51 38h6v1h-6zM65 38h5v1h-5zM11 39h9v1h-9zM52 39h5v1h-5zM66 39h4v1h-4z"/>
<path fill="#6e58a7" d="M51 2h1v1h-1zM53 2h1v1h-1zM50 4h1v1h-1zM46 5h1v1h-1zM51 6h1v1h-1zM47 7h1v1h-1zM52 7h1v1h-1zM50 8h1v1h-1zM15 9h1v1h-1zM12 10h2v1h-2zM19 10h1v1h-1zM45 10h1v1h-1zM51 10h1v1h-1zM14 11h1v1h-1zM18 11h2v1h-2zM8 12h1v1h-1zM12 12h1v1h-1zM16 12h1v1h-1zM22 12h1v1h-1zM49 12h2v1h-2zM16 13h1v1h-1zM22 13h1v1h-1zM29 13h1v1h-1zM18 15h1v1h-1zM49 15h1v1h-1zM1 21h1v1h-1zM4 26h1v1h-1zM1 33h1v1h-1zM3 33h1v1h-1zM0 36h1v1h-1z"/>
<path fill="#63439c" d="M52 2h1v1h-1zM51 3h2v1h-2zM51 4h1v1h-1zM48 5h1v1h-1zM50 5h1v1h-1zM52 5h2v1h-2zM46 6h1v1h-1zM52 6h2v1h-2zM53 7h1v1h-1zM49 8h1v1h-1zM51 8h1v1h-1zM14 9h1v1h-1zM30 9h1v1h-1zM47 9h2v1h-2zM50 9h1v1h-1zM52 9h1v1h-1zM14 10h1v1h-1zM20 10h1v1h-1zM27 10h2v1h-2zM44 10h1v1h-1zM50 10h1v1h-1zM17 11h1v1h-1zM20 11h1v1h-1zM24 11h1v1h-1zM17 12h1v1h-1zM17 13h1v1h-1zM20 13h1v1h-1zM27 13h1v1h-1zM17 14h2v1h-2zM17 15h1v1h-1zM2 27h1v1h-1zM3 32h1v1h-1zM2 33h1v1h-1zM0 35h1v1h-1z"/>
<path fill="#470f84" d="M52 4h1v1h-1zM48 10h1v1h-1zM13 12h1v1h-1zM24 12h1v1h-1zM19 13h1v1h-1zM23 13h2v1h-2zM50 14h1v1h-1zM3 26h1v1h-1z"/>
<path fill="#582f93" d="M53 4h1v1h-1zM51 5h1v1h-1zM52 8h1v1h-1zM51 9h1v1h-1zM11 10h1v1h-1zM29 10h2v1h-2zM23 11h1v1h-1zM27 11h1v1h-1zM29 11h1v1h-1zM19 12h1v1h-1zM27 12h1v1h-1zM29 12h1v1h-1zM8 13h1v1h-1zM18 13h1v1h-1zM22 14h1v1h-1zM23 15h1v1h-1zM24 16h2v1h-2zM1 25h1v1h-1z"/>
<path fill="#4f1f8b" d="M47 5h1v1h-1zM47 6h1v1h-1zM47 8h2v1h-2zM31 9h1v1h-1zM49 10h1v1h-1zM28 11h1v1h-1zM18 12h1v1h-1zM20 12h1v1h-1zM23 12h1v1h-1zM28 12h1v1h-1zM28 13h1v1h-1zM49 13h1v1h-1zM23 14h2v1h-2zM28 14h1v1h-1zM49 14h1v1h-1zM24 15h1v1h-1zM50 15h1v1h-1zM0 34h1v1h-1z"/>
<path fill="#3f007d" d="M3 27h1v1h-1z"/>
<path fill="#fcfbfd" d="M21 32h1v1h-1zM20 33h10v1h-10zM44 33h6v1h-6zM20 34h30v1h-30zM20 35h29v1h-29zM20 36h30v1h-30zM60 36h2v1h-2zM20 37h30v1h-30zM60 37h3v1h-3zM20 38h31v1h-31zM57 38h8v1h-8zM20 39h32v1h-32zM57 39h9v1h-9z"/>
</g></g>
<path d="M108.29 433.50V648.20M162.07 433.50V648.20M215.86 433.50V648.20M269.64 433.50V648.20M323.43 433.50V648.20M377.21 433.50V648.20M54.50 487.18H431.00M54.50 540.85H431.00M54.50 594.53H431.00" stroke="#000" stroke-width="0.6" stroke-dasharray="1.1 1.3" fill="none" opacity=".8"/>
<clipPath id="cpc"><rect x="54.50" y="433.50" width="376.50" height="214.70"/></clipPath>
<path clip-path="url(#cpc)" d="M54.1 467.1L55.3 466.6L58.6 464.8L61.9 463.1L64.8 461.4L66.4 459.2L68.7 457.3L72.0 456.4L75.5 455.8L80.0 456.4L84.4 457.8L88.9 459.2L91.2 460.3L92.4 456.9L94.0 454.1L97.4 452.1L100.2 451.6L103.6 452.8L106.9 454.6L110.3 455.8L114.7 455.8L119.3 455.1L123.8 454.3L128.3 453.9L132.8 454.6L138.4 455.1L144.0 455.3L149.6 456.4L154.1 458.1L156.4 459.8L159.7 460.3L162.6 460.9L164.2 462.3M160.9 432.7L162.6 434.4L164.8 434.0L167.0 435.5L166.5 438.9L167.7 442.8L168.7 446.8L169.8 450.8L169.3 453.0L166.5 454.6L164.8 456.9L163.7 459.8L164.2 462.3M164.2 462.3L163.7 464.3L159.7 465.9L155.3 467.1L150.8 469.4L146.3 471.6L142.9 473.9L140.7 475.4L136.1 475.6L131.6 476.1L128.3 477.2L126.0 480.1L123.8 481.7L120.4 482.9L117.0 483.4L115.4 480.6L114.2 479.9L111.4 480.6L108.1 481.7L104.6 483.4L101.3 485.1L98.5 486.2L96.2 487.9L96.8 490.2L95.7 492.4L93.4 494.2L94.0 496.9L95.7 499.2L97.4 500.9L101.3 501.7L104.6 502.6L106.9 504.2L108.1 506.5L108.6 508.3M96.2 487.9L94.5 489.6L91.2 491.4L87.8 492.4L84.4 493.0L81.1 494.2L78.3 494.7L75.5 493.6L72.7 491.9L69.9 490.7L66.4 491.4L63.1 490.2L59.8 490.7L56.3 491.4L54.1 490.7M54.1 467.4L59.1 464.8L63.6 463.1L68.2 462.3L66.4 463.7L62.6 465.4L59.1 467.6L56.9 469.9L59.1 471.1L63.1 472.1L66.4 473.3L69.2 473.9L71.0 472.1L73.2 470.4L74.9 471.6L76.6 473.3L80.0 474.9L84.4 476.7L88.4 477.8L86.1 479.4L83.9 480.6L81.1 481.2L79.3 482.9L76.6 483.4L73.8 484.8L71.0 484.4L68.2 485.1L64.8 485.7L61.9 485.1L59.1 485.7L56.3 484.8L54.1 484.6M54.1 477.2L58.0 476.1L60.8 475.6L62.6 477.2L61.4 478.9L59.8 480.1L61.9 481.7L60.3 483.4L57.5 484.0L54.1 483.4M60.3 486.6L61.9 487.9L60.8 488.9L59.8 487.4L60.3 486.6M65.9 486.2L68.2 486.9L66.7 487.9L65.9 486.2M58.6 508.3L60.8 504.9L64.8 502.8L68.2 504.2L69.9 506.5L68.7 508.3M292.1 497.5L281.0 500.4L274.3 502.0L270.3 503.7L273.2 508.3M307.8 432.7L312.3 435.5L316.9 437.8L321.4 440.0L327.0 440.4L328.1 442.3L330.3 446.3L332.6 450.1L335.4 453.6L338.3 456.6L342.7 456.6L347.2 456.9L352.8 457.3L359.6 457.8L366.3 458.4L371.9 458.6L377.2 458.1M338.3 456.6L336.0 458.1L334.8 460.9L334.3 464.3L333.2 465.9L330.3 466.6L327.5 466.8L323.6 467.6L320.2 468.8L316.9 471.6L313.5 474.9L310.1 478.4L306.8 481.2L303.4 481.7L301.2 481.4L300.6 483.4L299.4 486.9L300.0 490.2L300.6 493.6L301.2 495.7M347.2 456.9L348.9 460.9L351.2 464.8L353.4 468.8L351.2 471.1L354.0 473.9L357.3 476.1L359.6 477.8L359.0 480.6L361.8 480.6L365.2 478.9L369.7 477.2L374.2 476.7M292.1 498.1L296.6 496.4L301.2 495.7L305.7 494.7L310.1 494.2L314.6 493.8L319.1 494.2L323.6 495.2L327.0 496.9L331.5 499.2L336.0 501.5L340.4 503.5L343.9 504.9L344.4 500.4L344.7 495.9L347.2 495.2L350.5 496.4L354.0 498.1L356.8 499.2L359.6 497.5L361.8 498.1L364.1 496.4L366.9 498.1L369.7 500.4L373.0 502.6L376.5 504.2L378.7 503.2L380.3 504.9L384.3 507.1L386.6 508.3M377.3 457.8L382.4 457.8L388.0 458.4L393.7 459.8L398.1 461.8L402.6 463.3L408.2 464.8L412.7 466.3L417.2 467.1L421.7 466.8L425.1 466.6L425.6 468.6L428.4 469.0L430.7 469.0M374.2 476.7L377.9 477.2L379.6 479.4L377.9 482.3L375.6 484.6L372.8 486.9L371.2 487.9L375.1 487.9L378.5 489.6L381.3 491.4L384.1 493.0L386.4 494.7L386.9 496.9L389.2 497.9L391.4 499.7L394.2 500.9L397.0 500.2L398.1 498.1L397.0 496.4L399.8 495.2L403.8 494.5L407.1 495.2L409.4 495.9L412.2 494.5L415.5 493.0L419.0 492.4L421.2 493.6L422.3 496.4L420.6 499.2L418.3 501.5L415.5 503.2L413.9 505.4L414.4 508.3M108.6 508.3L109.1 511.7L109.7 514.5L108.1 516.2L106.3 517.3L103.6 517.9L106.9 518.4L110.3 519.6L113.7 521.3L116.5 522.9L118.7 525.2L119.9 528.6L121.5 530.3L125.0 531.4L128.3 533.7L131.6 534.8L135.1 535.4L138.4 535.4L140.7 535.4M68.7 508.3L70.4 511.1L71.0 515.1L71.2 519.6L72.7 522.7L76.0 521.0L80.0 519.4L83.9 517.3L87.8 515.3L91.7 514.2L94.5 514.5L96.2 515.9L99.6 514.9L103.6 513.9L106.9 513.0L108.9 512.3M72.7 522.7L76.6 521.6L81.1 520.1L85.6 519.4L90.1 518.2L94.5 517.6L99.0 518.2L103.0 518.7L105.3 517.1L108.1 515.9L109.7 514.5M72.7 522.7L69.9 526.4L67.6 529.1L69.9 530.9L71.5 533.7L72.0 537.6L71.0 541.0L68.2 543.2L65.9 546.1L65.4 549.4L64.2 551.7L60.8 552.3L57.5 552.0L54.1 552.9M54.1 554.6L56.3 555.7L58.0 557.9L56.3 560.2L54.1 560.7M140.7 535.4L136.1 535.9L132.8 538.2L130.6 540.4L128.8 543.9L126.0 543.2L121.5 544.4L117.0 545.6L112.6 545.3L108.1 544.2L103.6 543.2L99.0 543.9L95.7 545.6L96.2 548.4L98.5 551.2L99.6 553.4L98.5 555.7L100.2 557.9L101.3 561.4L103.6 564.1L106.9 564.7L105.8 566.9L109.1 568.7L111.9 569.7L110.3 572.6L106.9 574.9L104.6 577.1L103.6 580.5L103.6 584.0M140.7 535.4L141.7 538.7L143.5 542.1L146.3 544.4L149.6 546.6L151.9 547.8L150.2 550.6L149.1 553.4L150.8 555.7L153.0 557.9L155.3 560.2L156.9 563.0L155.8 565.2L153.0 566.9L150.8 568.1L149.1 565.9L146.3 566.9L145.7 569.7L147.3 572.6L149.1 576.0L149.6 579.4L152.4 580.5L154.1 582.7L155.3 584.0M151.9 547.8L155.3 546.6L159.7 545.6L161.4 542.1L163.7 539.3L165.4 536.4L167.7 535.6L171.0 535.9L173.2 536.4M173.2 536.4L176.5 537.1L179.8 538.2L183.3 537.1L186.1 534.8L188.3 532.6L191.1 533.1L193.4 532.9L195.6 535.4L200.0 536.8L204.6 535.9L206.8 536.4L210.3 534.8L213.6 533.3L218.1 531.9L221.5 533.3L224.8 531.9L227.6 530.9L228.8 528.6L231.6 527.2L236.1 526.4L240.6 525.5L245.0 525.8L249.5 525.0L253.0 524.6L256.3 526.1L260.8 527.4L264.2 528.8L266.4 529.1M266.4 529.1L269.8 528.1L274.3 528.4L278.8 529.5L281.6 528.6L281.0 525.2L278.2 522.9L278.8 520.1L282.1 519.1L283.8 517.3L282.7 514.5L279.9 512.3L276.5 511.1L274.3 509.4L273.7 508.3M266.4 529.1L267.0 532.6L265.2 535.4L263.9 538.2L265.2 541.0L267.5 542.1L267.0 546.1L268.1 548.4L265.9 550.6L267.5 552.9L269.8 554.6L270.3 556.8L273.2 558.5L276.0 560.2L278.8 560.7L281.6 559.1L283.8 558.5L285.6 560.7L288.9 563.0L292.1 563.8M292.1 563.6L296.6 564.5L301.2 564.9L305.7 566.4L309.0 566.9L312.3 567.5L315.8 566.9L319.1 565.9L321.9 568.7L324.7 570.4L327.0 572.0L328.1 574.9L331.0 576.0L332.6 576.5L335.4 576.0L336.6 573.7L339.3 574.9L341.6 576.0L342.7 573.2L345.5 572.6L347.7 571.4L348.9 568.7L349.5 566.9M349.5 566.9L348.9 563.6L350.5 560.2L351.2 557.4L349.5 555.1L348.9 552.9L351.2 551.5L355.1 552.0L359.6 552.9L361.8 554.6L364.1 557.9L366.3 560.2L369.7 562.4L373.0 563.6L375.9 562.2L377.5 564.1L381.0 565.9L383.1 567.5L385.4 565.9L388.2 564.7L389.4 561.9L392.2 560.2L395.0 559.6L397.2 557.9M349.5 566.9L352.8 567.5L356.2 568.7L358.5 570.9L360.1 573.7L361.3 576.0L364.1 578.7L365.2 580.5L362.9 581.6L364.1 584.0M387.6 508.3L391.1 510.0L394.4 511.7L397.2 513.4L398.3 511.7L400.0 513.4L402.8 515.1L404.5 518.4L405.6 521.8L407.3 525.2L409.1 527.4L409.6 530.3L407.3 532.6L404.5 534.8L402.8 536.4L401.2 539.3L398.3 541.0L396.1 543.9L398.3 545.6L400.6 546.6L399.5 548.9L396.1 549.4L392.2 548.4L388.2 547.2L386.0 548.9L386.6 551.2L389.9 552.9L393.2 553.4L395.5 554.6L397.2 556.8L397.2 557.9L398.9 559.6L401.2 557.9L402.8 555.1L401.2 552.9L403.5 550.6L406.8 548.4L409.1 548.9L411.2 551.7M411.2 551.7L412.7 553.4L416.2 554.6L419.5 555.7L421.7 557.9L423.4 561.4L425.1 563.6L427.3 565.2L430.7 566.1M413.3 508.3L416.2 510.6L420.6 512.8L424.0 513.9L427.3 513.4L428.4 515.6L430.7 517.3M103.6 583.9L101.3 586.2L98.5 589.1L96.2 590.7L97.4 592.4L94.0 594.1L91.7 595.2L90.1 598.6L87.8 601.9L84.4 604.8L81.1 607.1L78.8 610.4L76.6 613.2L74.3 616.6L71.0 617.5L67.6 618.4L64.2 619.1L61.9 616.6L59.1 616.1L56.3 617.2L54.1 618.9M54.1 630.7L56.9 633.5L56.3 636.9L59.1 640.3L61.9 641.4L63.1 645.4L64.8 648.2M155.2 583.9L159.7 585.1L163.6 586.8L165.3 589.1L168.6 590.1L171.5 591.8L174.1 593.9M174.1 593.9L175.7 591.3L178.0 590.1L181.4 590.1L184.2 591.8L185.8 593.9L189.3 595.2L192.6 597.4L196.0 599.1L198.2 601.4L201.0 603.6L203.8 601.9L206.1 602.6L208.3 605.4L210.6 607.1L214.0 609.3L216.8 609.7L217.9 611.6L220.7 612.7L223.5 612.1L225.2 614.4L227.5 616.1L229.2 614.4L232.0 615.5L234.3 614.6L237.0 616.1L239.8 617.2L243.2 617.5L246.6 616.9L249.4 616.6M174.1 593.9L171.9 592.9L169.1 595.2L166.8 598.1L165.1 601.4L164.0 604.8L162.8 607.1L165.6 608.2L169.1 609.7L172.4 610.9L175.2 613.4L178.5 614.9L182.5 617.2L185.8 618.4L189.3 619.1L192.6 621.1L196.0 622.2L198.2 623.2L201.7 621.7L205.0 622.2L207.3 621.1L209.5 622.9L211.8 625.1L214.6 626.7L217.9 628.4L220.7 629.0L224.1 629.6L227.5 630.7L230.8 631.9L234.3 633.0L237.0 631.9L239.8 632.4L243.2 633.0L246.6 632.6L249.4 632.2L250.2 629.0L248.8 625.7L249.4 621.1L249.4 616.6M249.4 616.6L252.2 615.5L255.0 614.6L257.3 616.6L257.8 620.0L257.3 623.4M250.2 632.4L252.2 631.2L253.8 633.0L252.2 635.2L250.0 636.9L249.4 639.7L251.0 641.4L254.5 642.5L257.3 643.7L258.9 645.4L256.7 646.5L253.3 647.0L252.8 648.2M252.2 631.2L255.0 632.4L257.8 633.5L259.5 633.0L261.1 634.7L264.6 635.2L266.2 636.9L266.8 640.3L267.9 643.7L269.6 645.4L272.3 645.9M257.2 623.4L259.2 621.1L262.0 617.2L265.4 614.6L269.3 613.0L272.7 613.4L277.2 614.4L281.7 614.9L285.0 616.1L287.3 617.7L288.5 620.6L291.3 622.2L292.9 623.9L291.8 626.7L289.5 628.4L285.0 629.0L280.6 628.8L276.1 628.4L271.6 629.6L268.2 630.2L263.7 629.0L260.3 627.9L258.1 626.2L257.2 623.4M287.3 617.7L290.7 618.4L294.1 617.7L297.4 616.1L299.7 613.8L302.5 612.1L304.7 609.9L307.5 609.3L311.0 607.6L313.2 605.4L315.4 603.6L318.3 601.9L321.1 602.6L323.3 604.2L326.7 603.6L330.0 601.9L332.8 600.9L335.6 600.6L337.8 602.6L338.5 605.4L336.8 607.6L337.8 610.4L340.7 611.6L343.5 612.1L346.9 612.7L348.1 613.8M348.1 613.8L350.2 610.9L353.0 610.4L355.3 612.1L357.5 613.4L358.7 617.7L360.3 620.0L363.1 622.9L364.3 627.9L363.8 632.4L362.0 636.9L359.2 639.7L357.0 642.5L354.7 645.4L353.0 648.2M348.1 613.8L346.7 617.2L344.4 620.0L342.7 622.2L345.2 624.7L341.8 622.9L337.8 623.9L334.5 625.7L331.2 627.4L327.7 629.6L325.5 632.4L324.4 635.2L325.5 637.5L323.9 640.3L321.6 643.2L319.9 645.9L319.3 648.2M363.8 583.9L364.8 587.3L366.0 590.7L366.6 595.2L367.1 599.7L367.6 603.6L365.4 604.8L363.1 605.9L362.0 608.2L360.3 610.4L358.7 612.1L357.5 613.4M252.4 631.2L254.7 632.4L256.9 633.5L259.2 634.1L262.5 634.7L266.0 635.7L267.1 639.2L267.6 642.5L269.3 645.4L272.7 645.9L277.2 645.7L281.7 646.2L286.2 646.5L290.7 647.0L295.1 648.2M252.4 641.4L254.7 643.7L256.9 645.9L258.7 648.2M367.7 603.6L368.4 607.6L369.5 610.9L370.5 613.2L371.7 610.4L374.0 607.6L375.6 609.9L377.3 612.1L379.0 613.8L380.1 616.6L382.9 617.2L384.6 617.7L386.4 620.6L388.0 623.4L389.7 626.2L392.0 628.4L393.7 631.2L395.3 634.7L397.5 636.4L400.3 635.7L403.8 634.7L407.1 634.1L409.4 632.4L409.9 629.0L408.2 626.7L409.4 623.4L411.6 621.1L413.3 617.7L415.0 614.9L417.2 612.1L418.3 609.9L421.7 609.3L424.0 610.9L424.5 614.4L427.3 616.6L430.7 616.1M430.7 622.9L427.3 622.9L424.0 622.2L420.6 622.2L417.8 623.9L416.2 626.2L417.8 628.4L417.2 631.2L420.6 630.2L424.0 630.2L426.8 631.9L427.9 634.7L426.3 637.5L424.5 640.3L425.6 643.2L427.9 645.4L429.6 647.0L430.7 648.2" stroke="#111" stroke-width="0.75" fill="none" stroke-linejoin="round" opacity=".9"/>
<rect x="54.50" y="433.50" width="376.50" height="214.70" fill="none" stroke="#444" stroke-width=".6"/>
<path d="M54.50 648.20H431.00" stroke="#111" stroke-width=".9"/>
<text class="title" x="242.8" y="429.4" font-size="12.12" text-anchor="middle">(c) Matching count for clear-sky condition</text>
<text x="54.5" y="656.8" font-size="6.00" text-anchor="middle">70°E</text>
<text x="108.3" y="656.8" font-size="6.00" text-anchor="middle">75°E</text>
<text x="162.1" y="656.8" font-size="6.00" text-anchor="middle">80°E</text>
<text x="215.9" y="656.8" font-size="6.00" text-anchor="middle">85°E</text>
<text x="269.6" y="656.8" font-size="6.00" text-anchor="middle">90°E</text>
<text x="323.4" y="656.8" font-size="6.00" text-anchor="middle">95°E</text>
<text x="377.2" y="656.8" font-size="6.00" text-anchor="middle">100°E</text>
<text x="431.0" y="656.8" font-size="6.00" text-anchor="middle">105°E</text>
<text x="50.2" y="435.7" font-size="6.00" text-anchor="end">45°N</text>
<text x="50.2" y="489.3" font-size="6.00" text-anchor="end">40°N</text>
<text x="50.2" y="543.0" font-size="6.00" text-anchor="end">35°N</text>
<text x="50.2" y="596.7" font-size="6.00" text-anchor="end">30°N</text>
<text x="50.2" y="650.4" font-size="6.00" text-anchor="end">25°N</text>
<rect x="438.10" y="433.50" width="19.40" height="214.70" fill="url(#gPurples)" stroke="#000" stroke-width=".6"/>
<text x="461.7" y="650.3" font-size="5.70">0</text>
<text x="461.7" y="613.3" font-size="5.70">200</text>
<text x="461.7" y="576.4" font-size="5.70">400</text>
<text x="461.7" y="539.5" font-size="5.70">600</text>
<text x="461.7" y="502.6" font-size="5.70">800</text>
<text x="461.7" y="465.6" font-size="5.70">1000</text>
<path d="M457.50 648.20h2M457.50 611.28h2M457.50 574.36h2M457.50 537.43h2M457.50 500.51h2M457.50 463.59h2" stroke="#000" stroke-width=".6"/>
<text class="cbl" transform="translate(483.5 540.9) rotate(-90)" font-size="6.10" text-anchor="middle">Fractional Agreement</text>
</g>
<g id="panel-d">
<clipPath id="cqd"><rect x="587.40" y="431.80" width="379.60" height="215.80"/></clipPath>
<rect x="587.40" y="431.80" width="379.60" height="215.80" fill="#fff"/>
<g filter="url(#bl)" clip-path="url(#cqd)">
<rect x="584.40" y="428.80" width="385.60" height="221.80" fill="#fff"/>
<g shape-rendering="crispEdges" transform="translate(587.40 431.80) scale(5.42286 5.39500)">
<path fill="#e1e0ee" d="M0 0h3v1h-3zM5 0h8v1h-8zM22 0h3v1h-3zM0 1h1v1h-1zM2 1h1v1h-1zM4 1h7v1h-7zM22 1h4v1h-4zM49 1h1v1h-1zM51 1h5v1h-5zM0 2h1v1h-1zM3 2h3v1h-3zM7 2h4v1h-4zM23 2h3v1h-3zM34 2h1v1h-1zM44 2h6v1h-6zM53 2h1v1h-1zM0 3h1v1h-1zM2 3h11v1h-11zM19 3h1v1h-1zM23 3h4v1h-4zM44 3h6v1h-6zM0 4h8v1h-8zM10 4h7v1h-7zM18 4h1v1h-1zM23 4h3v1h-3zM45 4h1v1h-1zM0 5h3v1h-3zM13 5h1v1h-1zM16 5h4v1h-4zM26 5h1v1h-1zM18 6h5v1h-5zM9 7h1v1h-1zM16 7h3v1h-3zM20 7h1v1h-1zM22 7h1v1h-1zM25 7h1v1h-1zM9 8h1v1h-1zM15 8h7v1h-7zM25 8h4v1h-4zM14 9h8v1h-8zM25 9h4v1h-4zM0 10h2v1h-2zM8 10h10v1h-10zM55 10h4v1h-4zM60 10h9v1h-9zM0 11h1v1h-1zM5 11h4v1h-4zM11 11h1v1h-1zM15 11h3v1h-3zM62 11h8v1h-8zM0 12h1v1h-1zM5 12h1v1h-1zM7 12h3v1h-3zM11 12h1v1h-1zM15 12h2v1h-2zM63 12h7v1h-7zM1 13h2v1h-2zM5 13h2v1h-2zM8 13h1v1h-1zM16 13h1v1h-1zM18 13h1v1h-1zM53 13h3v1h-3zM60 13h3v1h-3zM1 14h3v1h-3zM5 14h3v1h-3zM17 14h3v1h-3zM25 14h2v1h-2zM29 14h1v1h-1zM35 14h1v1h-1zM53 14h1v1h-1zM56 14h4v1h-4zM2 15h5v1h-5zM16 15h4v1h-4zM23 15h4v1h-4zM29 15h1v1h-1zM53 15h1v1h-1zM5 16h1v1h-1zM11 16h7v1h-7zM19 16h1v1h-1zM21 16h1v1h-1zM23 16h1v1h-1zM27 16h1v1h-1zM53 16h1v1h-1zM6 17h1v1h-1zM10 17h1v1h-1zM12 17h1v1h-1zM18 17h8v1h-8zM27 17h1v1h-1zM53 17h1v1h-1zM7 18h1v1h-1zM10 18h1v1h-1zM12 18h1v1h-1zM47 18h2v1h-2zM53 18h1v1h-1zM1 19h2v1h-2zM7 19h1v1h-1zM11 19h2v1h-2zM25 19h1v1h-1zM52 19h2v1h-2zM65 19h1v1h-1zM3 20h4v1h-4zM8 20h9v1h-9zM20 20h7v1h-7zM40 20h4v1h-4zM52 20h2v1h-2zM3 21h3v1h-3zM10 21h8v1h-8zM21 21h3v1h-3zM25 21h2v1h-2zM41 21h4v1h-4zM52 21h1v1h-1zM55 21h3v1h-3zM2 22h5v1h-5zM10 22h4v1h-4zM17 22h1v1h-1zM21 22h3v1h-3zM26 22h1v1h-1zM42 22h2v1h-2zM47 22h1v1h-1zM52 22h1v1h-1zM2 23h3v1h-3zM6 23h1v1h-1zM11 23h5v1h-5zM17 23h1v1h-1zM20 23h1v1h-1zM24 23h1v1h-1zM26 23h1v1h-1zM44 23h3v1h-3zM53 23h3v1h-3zM2 24h1v1h-1zM5 24h2v1h-2zM10 24h1v1h-1zM13 24h1v1h-1zM20 24h1v1h-1zM23 24h4v1h-4zM47 24h1v1h-1zM5 25h2v1h-2zM10 25h1v1h-1zM14 25h3v1h-3zM20 25h1v1h-1zM22 25h1v1h-1zM24 25h2v1h-2zM44 25h1v1h-1zM48 25h3v1h-3zM58 25h2v1h-2zM5 26h2v1h-2zM16 26h2v1h-2zM20 26h2v1h-2zM24 26h3v1h-3zM29 26h2v1h-2zM32 26h5v1h-5zM42 26h1v1h-1zM48 26h3v1h-3zM58 26h2v1h-2zM5 27h1v1h-1zM19 27h4v1h-4zM24 27h8v1h-8zM47 27h1v1h-1zM49 27h1v1h-1zM58 27h1v1h-1zM2 28h1v1h-1zM9 28h3v1h-3zM20 28h3v1h-3zM24 28h2v1h-2zM47 28h3v1h-3zM2 29h1v1h-1zM8 29h1v1h-1zM10 29h2v1h-2zM45 29h1v1h-1zM48 29h2v1h-2zM0 30h1v1h-1zM5 30h2v1h-2zM8 30h1v1h-1zM10 30h3v1h-3zM18 30h2v1h-2zM31 30h1v1h-1zM45 30h5v1h-5zM0 31h1v1h-1zM5 31h8v1h-8zM18 31h2v1h-2zM31 31h1v1h-1zM45 31h5v1h-5zM0 32h1v1h-1zM5 32h8v1h-8zM17 32h2v1h-2zM31 32h4v1h-4zM40 32h9v1h-9zM0 33h1v1h-1zM3 33h3v1h-3zM9 33h2v1h-2zM17 33h1v1h-1zM32 33h6v1h-6zM40 33h7v1h-7zM1 34h4v1h-4zM9 34h2v1h-2zM13 34h1v1h-1zM40 34h6v1h-6zM0 35h3v1h-3zM9 35h4v1h-4zM32 35h1v1h-1zM40 35h4v1h-4zM58 35h1v1h-1zM1 36h2v1h-2zM10 36h3v1h-3zM17 36h1v1h-1zM32 36h1v1h-1zM40 36h1v1h-1zM1 37h2v1h-2zM15 37h3v1h-3zM1 38h1v1h-1zM15 38h3v1h-3zM1 39h1v1h-1zM16 39h2v1h-2zM33 39h1v1h-1zM44 39h1v1h-1z"/>
<path fill="#f3f1f7" d="M3 0h2v1h-2zM13 0h9v1h-9zM25 0h15v1h-15zM42 0h16v1h-16zM64 0h1v1h-1zM1 1h1v1h-1zM3 1h1v1h-1zM11 1h11v1h-11zM26 1h14v1h-14zM42 1h7v1h-7zM50 1h1v1h-1zM56 1h2v1h-2zM64 1h1v1h-1zM1 2h2v1h-2zM11 2h12v1h-12zM26 2h8v1h-8zM35 2h5v1h-5zM42 2h2v1h-2zM50 2h3v1h-3zM54 2h3v1h-3zM62 2h3v1h-3zM1 3h1v1h-1zM20 3h3v1h-3zM27 3h1v1h-1zM29 3h1v1h-1zM31 3h9v1h-9zM42 3h2v1h-2zM50 3h6v1h-6zM19 4h4v1h-4zM26 4h14v1h-14zM42 4h3v1h-3zM46 4h4v1h-4zM15 5h1v1h-1zM20 5h6v1h-6zM27 5h13v1h-13zM41 5h8v1h-8zM55 5h7v1h-7zM0 6h3v1h-3zM23 6h17v1h-17zM41 6h7v1h-7zM55 6h9v1h-9zM0 7h3v1h-3zM26 7h14v1h-14zM41 7h5v1h-5zM54 7h13v1h-13zM0 8h3v1h-3zM22 8h3v1h-3zM29 8h11v1h-11zM56 8h2v1h-2zM60 8h10v1h-10zM0 9h3v1h-3zM23 9h2v1h-2zM29 9h11v1h-11zM54 9h4v1h-4zM60 9h10v1h-10zM18 10h4v1h-4zM23 10h5v1h-5zM54 10h1v1h-1zM59 10h1v1h-1zM69 10h1v1h-1zM18 11h4v1h-4zM23 11h5v1h-5zM53 11h5v1h-5zM60 11h2v1h-2zM6 12h1v1h-1zM17 12h11v1h-11zM50 12h4v1h-4zM60 12h3v1h-3zM0 13h1v1h-1zM19 13h9v1h-9zM33 13h5v1h-5zM42 13h2v1h-2zM46 13h2v1h-2zM50 13h3v1h-3zM56 13h4v1h-4zM0 14h1v1h-1zM20 14h1v1h-1zM22 14h3v1h-3zM27 14h2v1h-2zM34 14h1v1h-1zM36 14h3v1h-3zM45 14h3v1h-3zM0 15h2v1h-2zM20 15h3v1h-3zM27 15h2v1h-2zM35 15h4v1h-4zM0 16h5v1h-5zM20 16h1v1h-1zM24 16h3v1h-3zM28 16h3v1h-3zM43 16h3v1h-3zM0 17h6v1h-6zM13 17h5v1h-5zM26 17h1v1h-1zM28 17h1v1h-1zM42 17h6v1h-6zM0 18h7v1h-7zM13 18h15v1h-15zM33 18h6v1h-6zM42 18h5v1h-5zM52 18h1v1h-1zM0 19h1v1h-1zM3 19h4v1h-4zM13 19h12v1h-12zM26 19h2v1h-2zM33 19h6v1h-6zM42 19h4v1h-4zM0 20h3v1h-3zM17 20h3v1h-3zM27 20h13v1h-13zM48 20h1v1h-1zM0 21h3v1h-3zM18 21h3v1h-3zM27 21h14v1h-14zM0 22h2v1h-2zM18 22h3v1h-3zM27 22h15v1h-15zM0 23h2v1h-2zM5 23h1v1h-1zM18 23h2v1h-2zM27 23h13v1h-13zM42 23h2v1h-2zM47 23h1v1h-1zM52 23h1v1h-1zM0 24h2v1h-2zM3 24h2v1h-2zM14 24h6v1h-6zM27 24h13v1h-13zM42 24h5v1h-5zM48 24h2v1h-2zM51 24h1v1h-1zM0 25h5v1h-5zM17 25h3v1h-3zM27 25h13v1h-13zM42 25h2v1h-2zM0 26h5v1h-5zM18 26h2v1h-2zM27 26h2v1h-2zM31 26h1v1h-1zM39 26h3v1h-3zM0 27h5v1h-5zM48 27h1v1h-1zM0 28h2v1h-2zM0 29h2v1h-2zM9 29h1v1h-1zM21 29h2v1h-2zM46 29h2v1h-2zM1 30h2v1h-2zM1 31h2v1h-2zM1 32h2v1h-2zM1 33h2v1h-2zM11 33h2v1h-2zM31 33h1v1h-1zM0 34h1v1h-1zM12 34h1v1h-1zM21 35h1v1h-1zM0 36h1v1h-1zM21 36h1v1h-1zM0 37h1v1h-1zM32 37h1v1h-1zM32 38h1v1h-1zM0 39h1v1h-1zM32 39h1v1h-1z"/>
<path fill="#faf9fc" d="M40 0h2v1h-2zM58 0h6v1h-6zM65 0h5v1h-5zM40 1h2v1h-2zM58 1h6v1h-6zM65 1h5v1h-5zM40 2h2v1h-2zM57 2h5v1h-5zM65 2h5v1h-5zM28 3h1v1h-1zM30 3h1v1h-1zM40 3h2v1h-2zM56 3h14v1h-14zM40 4h2v1h-2zM50 4h20v1h-20zM40 5h1v1h-1zM49 5h6v1h-6zM62 5h8v1h-8zM40 6h1v1h-1zM48 6h7v1h-7zM64 6h6v1h-6zM23 7h2v1h-2zM40 7h1v1h-1zM46 7h8v1h-8zM67 7h3v1h-3zM40 8h16v1h-16zM58 8h2v1h-2zM22 9h1v1h-1zM40 9h14v1h-14zM58 9h2v1h-2zM22 10h1v1h-1zM28 10h26v1h-26zM22 11h1v1h-1zM28 11h25v1h-25zM58 11h2v1h-2zM28 12h22v1h-22zM54 12h6v1h-6zM28 13h5v1h-5zM38 13h4v1h-4zM44 13h2v1h-2zM48 13h2v1h-2zM21 14h1v1h-1zM30 14h4v1h-4zM39 14h6v1h-6zM48 14h5v1h-5zM30 15h5v1h-5zM39 15h14v1h-14zM31 16h12v1h-12zM46 16h7v1h-7zM29 17h13v1h-13zM48 17h5v1h-5zM28 18h5v1h-5zM39 18h3v1h-3zM49 18h1v1h-1zM51 18h1v1h-1zM28 19h5v1h-5zM39 19h3v1h-3zM49 19h1v1h-1zM51 19h1v1h-1zM49 20h3v1h-3zM48 21h4v1h-4zM48 22h4v1h-4zM40 23h2v1h-2zM48 23h4v1h-4zM40 24h2v1h-2zM50 24h1v1h-1zM40 25h2v1h-2zM23 29h7v1h-7zM30 30h1v1h-1zM30 31h1v1h-1zM30 32h1v1h-1zM30 33h1v1h-1zM11 34h1v1h-1zM30 34h2v1h-2zM30 35h2v1h-2zM30 36h2v1h-2zM30 37h1v1h-1zM0 38h1v1h-1z"/>
<path fill="#c8c8e2" d="M6 2h1v1h-1zM13 3h6v1h-6zM8 4h2v1h-2zM17 4h1v1h-1zM3 5h10v1h-10zM14 5h1v1h-1zM3 6h1v1h-1zM6 6h3v1h-3zM16 6h2v1h-2zM3 7h3v1h-3zM8 7h1v1h-1zM10 7h6v1h-6zM19 7h1v1h-1zM21 7h1v1h-1zM3 8h3v1h-3zM10 8h5v1h-5zM3 9h2v1h-2zM8 9h6v1h-6zM2 10h6v1h-6zM1 11h4v1h-4zM10 11h1v1h-1zM13 11h2v1h-2zM1 12h4v1h-4zM10 12h1v1h-1zM12 12h3v1h-3zM3 13h2v1h-2zM7 13h1v1h-1zM9 13h3v1h-3zM15 13h1v1h-1zM17 13h1v1h-1zM63 13h1v1h-1zM67 13h3v1h-3zM4 14h1v1h-1zM8 14h2v1h-2zM11 14h1v1h-1zM15 14h2v1h-2zM54 14h2v1h-2zM7 15h3v1h-3zM11 15h1v1h-1zM14 15h2v1h-2zM6 16h1v1h-1zM10 16h1v1h-1zM18 16h1v1h-1zM22 16h1v1h-1zM54 16h3v1h-3zM7 17h2v1h-2zM54 17h3v1h-3zM58 17h1v1h-1zM8 18h1v1h-1zM54 18h5v1h-5zM65 18h1v1h-1zM8 19h3v1h-3zM46 19h3v1h-3zM54 19h4v1h-4zM62 19h3v1h-3zM7 20h1v1h-1zM44 20h4v1h-4zM54 20h5v1h-5zM61 20h2v1h-2zM8 21h1v1h-1zM24 21h1v1h-1zM45 21h3v1h-3zM53 21h2v1h-2zM58 21h1v1h-1zM7 22h1v1h-1zM14 22h3v1h-3zM44 22h3v1h-3zM53 22h6v1h-6zM7 23h2v1h-2zM10 23h1v1h-1zM16 23h1v1h-1zM21 23h3v1h-3zM25 23h1v1h-1zM56 23h3v1h-3zM7 24h3v1h-3zM11 24h2v1h-2zM56 24h4v1h-4zM7 25h3v1h-3zM13 25h1v1h-1zM21 25h1v1h-1zM23 25h1v1h-1zM26 25h1v1h-1zM47 25h1v1h-1zM51 25h1v1h-1zM55 25h3v1h-3zM7 26h4v1h-4zM15 26h1v1h-1zM37 26h2v1h-2zM43 26h1v1h-1zM47 26h1v1h-1zM51 26h1v1h-1zM55 26h3v1h-3zM6 27h2v1h-2zM9 27h3v1h-3zM18 27h1v1h-1zM23 27h1v1h-1zM56 27h2v1h-2zM59 27h1v1h-1zM3 28h4v1h-4zM19 28h1v1h-1zM23 28h1v1h-1zM26 28h1v1h-1zM28 28h2v1h-2zM50 28h1v1h-1zM56 28h4v1h-4zM3 29h3v1h-3zM12 29h1v1h-1zM20 29h1v1h-1zM30 29h1v1h-1zM50 29h1v1h-1zM56 29h4v1h-4zM3 30h2v1h-2zM7 30h1v1h-1zM9 30h1v1h-1zM13 30h1v1h-1zM17 30h1v1h-1zM21 30h2v1h-2zM32 30h4v1h-4zM3 31h2v1h-2zM13 31h1v1h-1zM17 31h1v1h-1zM21 31h1v1h-1zM32 31h5v1h-5zM60 31h3v1h-3zM3 32h2v1h-2zM13 32h3v1h-3zM19 32h4v1h-4zM35 32h4v1h-4zM58 32h1v1h-1zM6 33h3v1h-3zM13 33h4v1h-4zM18 33h2v1h-2zM38 33h2v1h-2zM58 33h2v1h-2zM5 34h1v1h-1zM8 34h1v1h-1zM14 34h1v1h-1zM16 34h4v1h-4zM32 34h8v1h-8zM46 34h2v1h-2zM58 34h2v1h-2zM65 34h1v1h-1zM3 35h1v1h-1zM8 35h1v1h-1zM13 35h1v1h-1zM15 35h5v1h-5zM59 35h1v1h-1zM8 36h1v1h-1zM13 36h1v1h-1zM15 36h2v1h-2zM18 36h3v1h-3zM41 36h2v1h-2zM58 36h2v1h-2zM11 37h3v1h-3zM18 37h1v1h-1zM20 37h1v1h-1zM58 37h1v1h-1zM2 38h2v1h-2zM10 38h2v1h-2zM14 38h1v1h-1zM18 38h1v1h-1zM20 38h1v1h-1zM58 38h1v1h-1zM2 39h1v1h-1zM8 39h1v1h-1zM10 39h1v1h-1zM14 39h2v1h-2zM18 39h3v1h-3zM45 39h3v1h-3zM58 39h1v1h-1z"/>
<path fill="#b2b2d5" d="M4 6h2v1h-2zM9 6h1v1h-1zM14 6h2v1h-2zM6 7h2v1h-2zM6 8h1v1h-1zM8 8h1v1h-1zM5 9h3v1h-3zM9 11h1v1h-1zM12 11h1v1h-1zM12 13h1v1h-1zM14 13h1v1h-1zM64 13h3v1h-3zM10 14h1v1h-1zM12 14h1v1h-1zM14 14h1v1h-1zM60 14h5v1h-5zM66 14h4v1h-4zM10 15h1v1h-1zM12 15h1v1h-1zM54 15h3v1h-3zM59 15h5v1h-5zM7 16h2v1h-2zM57 16h5v1h-5zM66 16h1v1h-1zM9 17h1v1h-1zM11 17h1v1h-1zM59 17h3v1h-3zM9 18h1v1h-1zM11 18h1v1h-1zM59 18h1v1h-1zM61 18h4v1h-4zM58 19h2v1h-2zM61 19h1v1h-1zM59 20h2v1h-2zM63 20h1v1h-1zM6 21h2v1h-2zM9 21h1v1h-1zM59 21h3v1h-3zM8 22h1v1h-1zM24 22h2v1h-2zM9 23h1v1h-1zM21 24h2v1h-2zM52 24h2v1h-2zM55 24h1v1h-1zM11 25h1v1h-1zM54 25h1v1h-1zM22 26h2v1h-2zM44 26h1v1h-1zM52 26h1v1h-1zM54 26h1v1h-1zM8 27h1v1h-1zM32 27h2v1h-2zM37 27h6v1h-6zM50 27h6v1h-6zM60 27h1v1h-1zM7 28h2v1h-2zM12 28h2v1h-2zM27 28h1v1h-1zM30 28h1v1h-1zM37 28h1v1h-1zM40 28h1v1h-1zM46 28h1v1h-1zM51 28h4v1h-4zM60 28h2v1h-2zM6 29h2v1h-2zM13 29h1v1h-1zM19 29h1v1h-1zM40 29h1v1h-1zM51 29h4v1h-4zM60 29h2v1h-2zM14 30h1v1h-1zM20 30h1v1h-1zM36 30h1v1h-1zM54 30h1v1h-1zM14 31h3v1h-3zM20 31h1v1h-1zM22 31h1v1h-1zM37 31h1v1h-1zM40 31h1v1h-1zM54 31h1v1h-1zM58 31h2v1h-2zM65 31h1v1h-1zM16 32h1v1h-1zM39 32h1v1h-1zM59 32h4v1h-4zM65 32h1v1h-1zM20 33h2v1h-2zM47 33h2v1h-2zM60 33h2v1h-2zM66 33h1v1h-1zM69 33h1v1h-1zM6 34h2v1h-2zM20 34h2v1h-2zM48 34h1v1h-1zM60 34h3v1h-3zM66 34h1v1h-1zM4 35h3v1h-3zM14 35h1v1h-1zM20 35h1v1h-1zM37 35h2v1h-2zM44 35h4v1h-4zM68 35h1v1h-1zM3 36h1v1h-1zM7 36h1v1h-1zM9 36h1v1h-1zM14 36h1v1h-1zM43 36h2v1h-2zM48 36h1v1h-1zM62 36h1v1h-1zM3 37h1v1h-1zM6 37h2v1h-2zM10 37h1v1h-1zM14 37h1v1h-1zM19 37h1v1h-1zM40 37h8v1h-8zM59 37h1v1h-1zM4 38h6v1h-6zM12 38h2v1h-2zM19 38h1v1h-1zM33 38h1v1h-1zM40 38h1v1h-1zM44 38h1v1h-1zM46 38h3v1h-3zM59 38h1v1h-1zM3 39h5v1h-5zM9 39h1v1h-1zM11 39h1v1h-1zM59 39h1v1h-1z"/>
<path fill="#9e9ac8" d="M10 6h4v1h-4zM7 8h1v1h-1zM13 13h1v1h-1zM13 14h1v1h-1zM13 15h1v1h-1zM57 15h2v1h-2zM64 15h6v1h-6zM9 16h1v1h-1zM62 16h4v1h-4zM67 16h1v1h-1zM57 17h1v1h-1zM62 17h5v1h-5zM60 18h1v1h-1zM66 18h1v1h-1zM60 19h1v1h-1zM66 19h1v1h-1zM64 20h1v1h-1zM67 20h1v1h-1zM62 21h2v1h-2zM69 21h1v1h-1zM9 22h1v1h-1zM60 22h2v1h-2zM54 24h1v1h-1zM60 24h3v1h-3zM12 25h1v1h-1zM45 25h2v1h-2zM52 25h2v1h-2zM61 25h4v1h-4zM11 26h1v1h-1zM13 26h2v1h-2zM53 26h1v1h-1zM60 26h4v1h-4zM12 27h3v1h-3zM34 27h1v1h-1zM43 27h3v1h-3zM61 27h4v1h-4zM14 28h1v1h-1zM32 28h3v1h-3zM36 28h1v1h-1zM38 28h2v1h-2zM41 28h1v1h-1zM44 28h2v1h-2zM62 28h2v1h-2zM14 29h1v1h-1zM18 29h1v1h-1zM31 29h7v1h-7zM41 29h1v1h-1zM44 29h1v1h-1zM62 29h3v1h-3zM37 30h1v1h-1zM59 30h6v1h-6zM67 30h1v1h-1zM69 30h1v1h-1zM38 31h2v1h-2zM41 31h1v1h-1zM44 31h1v1h-1zM53 31h1v1h-1zM55 31h1v1h-1zM63 31h2v1h-2zM49 32h1v1h-1zM55 32h3v1h-3zM63 32h2v1h-2zM66 32h1v1h-1zM57 33h1v1h-1zM62 33h1v1h-1zM65 33h1v1h-1zM15 34h1v1h-1zM67 34h3v1h-3zM7 35h1v1h-1zM33 35h4v1h-4zM39 35h1v1h-1zM48 35h1v1h-1zM60 35h3v1h-3zM66 35h2v1h-2zM69 35h1v1h-1zM4 36h3v1h-3zM33 36h1v1h-1zM36 36h3v1h-3zM45 36h3v1h-3zM60 36h2v1h-2zM63 36h1v1h-1zM66 36h4v1h-4zM4 37h1v1h-1zM8 37h2v1h-2zM33 37h1v1h-1zM60 37h4v1h-4zM69 37h1v1h-1zM41 38h3v1h-3zM45 38h1v1h-1zM60 38h4v1h-4zM66 38h2v1h-2zM43 39h1v1h-1zM60 39h4v1h-4z"/>
<path fill="#8c88bf" d="M65 14h1v1h-1zM68 16h2v1h-2zM67 18h2v1h-2zM67 19h3v1h-3zM65 20h2v1h-2zM68 20h2v1h-2zM64 21h5v1h-5zM59 22h1v1h-1zM62 22h1v1h-1zM64 22h4v1h-4zM59 23h6v1h-6zM63 24h2v1h-2zM60 25h1v1h-1zM65 25h1v1h-1zM12 26h1v1h-1zM45 26h2v1h-2zM64 26h2v1h-2zM15 27h1v1h-1zM35 27h2v1h-2zM46 27h1v1h-1zM65 27h1v1h-1zM18 28h1v1h-1zM31 28h1v1h-1zM35 28h1v1h-1zM42 28h2v1h-2zM55 28h1v1h-1zM64 28h1v1h-1zM38 29h2v1h-2zM42 29h2v1h-2zM55 29h1v1h-1zM15 30h2v1h-2zM38 30h6v1h-6zM53 30h1v1h-1zM55 30h4v1h-4zM65 30h2v1h-2zM68 30h1v1h-1zM42 31h2v1h-2zM56 31h2v1h-2zM66 31h4v1h-4zM54 32h1v1h-1zM67 32h3v1h-3zM56 33h1v1h-1zM63 33h2v1h-2zM67 33h1v1h-1zM54 34h1v1h-1zM63 34h2v1h-2zM65 35h1v1h-1zM34 36h2v1h-2zM39 36h1v1h-1zM64 36h2v1h-2zM5 37h1v1h-1zM34 37h6v1h-6zM48 37h1v1h-1zM66 37h3v1h-3zM34 38h6v1h-6zM65 38h1v1h-1zM68 38h2v1h-2zM12 39h2v1h-2zM34 39h5v1h-5zM41 39h2v1h-2zM48 39h1v1h-1zM64 39h1v1h-1zM66 39h4v1h-4z"/>
<path fill="#7d78b7" d="M67 17h3v1h-3zM69 18h1v1h-1zM63 22h1v1h-1zM68 22h2v1h-2zM65 23h4v1h-4zM65 24h1v1h-1zM66 25h2v1h-2zM66 26h1v1h-1zM16 27h2v1h-2zM66 27h1v1h-1zM15 28h1v1h-1zM65 28h1v1h-1zM15 29h1v1h-1zM17 29h1v1h-1zM44 30h1v1h-1zM50 30h3v1h-3zM50 31h3v1h-3zM50 32h1v1h-1zM49 33h1v1h-1zM54 33h2v1h-2zM68 33h1v1h-1zM49 34h1v1h-1zM53 34h1v1h-1zM55 34h2v1h-2zM49 35h1v1h-1zM54 35h1v1h-1zM64 35h1v1h-1zM49 36h1v1h-1zM64 37h2v1h-2zM39 39h2v1h-2zM65 39h1v1h-1z"/>
<path fill="#fcfbfd" d="M50 18h1v1h-1zM50 19h1v1h-1zM23 30h7v1h-7zM23 31h7v1h-7zM23 32h7v1h-7zM22 33h8v1h-8zM22 34h8v1h-8zM22 35h8v1h-8zM22 36h8v1h-8zM21 37h9v1h-9zM31 37h1v1h-1zM21 38h11v1h-11zM21 39h11v1h-11z"/>
<path fill="#7262ac" d="M69 23h1v1h-1zM67 24h2v1h-2zM68 25h1v1h-1zM67 26h2v1h-2zM16 28h1v1h-1zM16 29h1v1h-1zM51 32h2v1h-2zM53 33h1v1h-1zM57 34h1v1h-1zM52 35h2v1h-2zM56 35h2v1h-2zM63 35h1v1h-1zM54 36h1v1h-1zM64 38h1v1h-1z"/>
<path fill="#6950a3" d="M66 24h1v1h-1zM17 28h1v1h-1zM66 28h1v1h-1zM53 32h1v1h-1zM50 33h3v1h-3zM50 34h1v1h-1zM51 35h1v1h-1zM55 35h1v1h-1zM50 36h3v1h-3zM55 36h1v1h-1zM50 37h4v1h-4zM49 38h4v1h-4z"/>
<path fill="#582f93" d="M69 24h1v1h-1zM69 25h1v1h-1zM65 29h1v1h-1zM49 37h1v1h-1zM54 37h1v1h-1zM57 37h1v1h-1zM53 39h2v1h-2z"/>
<path fill="#4f1f8b" d="M69 26h1v1h-1zM67 27h1v1h-1zM69 27h1v1h-1zM67 28h2v1h-2zM68 29h2v1h-2zM51 34h1v1h-1zM55 37h2v1h-2zM49 39h4v1h-4z"/>
<path fill="#61409b" d="M68 27h1v1h-1zM52 34h1v1h-1zM50 35h1v1h-1zM53 36h1v1h-1zM56 36h2v1h-2zM53 38h4v1h-4zM55 39h2v1h-2z"/>
<path fill="#470f84" d="M69 28h1v1h-1zM66 29h2v1h-2zM57 38h1v1h-1zM57 39h1v1h-1z"/>
</g></g>
<path d="M641.63 431.80V647.60M695.86 431.80V647.60M750.09 431.80V647.60M804.31 431.80V647.60M858.54 431.80V647.60M912.77 431.80V647.60M587.40 485.75H967.00M587.40 539.70H967.00M587.40 593.65H967.00" stroke="#000" stroke-width="0.6" stroke-dasharray="1.1 1.3" fill="none" opacity=".8"/>
<clipPath id="cpd"><rect x="587.40" y="431.80" width="379.60" height="215.80"/></clipPath>
<path clip-path="url(#cpd)" d="M587.0 465.6L588.2 465.0L591.5 463.3L594.9 461.6L597.8 459.9L599.4 457.6L601.7 455.8L605.1 454.8L608.5 454.2L613.1 454.8L617.6 456.2L622.1 457.6L624.4 458.8L625.6 455.3L627.2 452.5L630.7 450.5L633.5 450.0L636.9 451.2L640.2 453.1L643.7 454.2L648.1 454.2L652.7 453.5L657.2 452.7L661.8 452.3L666.4 453.1L672.0 453.5L677.6 453.7L683.3 454.8L687.8 456.5L690.1 458.2L693.5 458.8L696.4 459.3L698.0 460.7M694.7 431.0L696.4 432.7L698.6 432.3L700.8 433.9L700.3 437.2L701.5 441.2L702.6 445.2L703.7 449.2L703.1 451.4L700.3 453.1L698.6 455.3L697.5 458.2L698.0 460.7M698.0 460.7L697.5 462.8L693.5 464.4L689.0 465.6L684.5 467.8L679.9 470.1L676.6 472.4L674.3 473.9L669.7 474.1L665.2 474.6L661.8 475.7L659.5 478.6L657.2 480.2L653.9 481.4L650.4 482.0L648.8 479.2L647.6 478.4L644.8 479.2L641.4 480.2L637.9 482.0L634.6 483.7L631.8 484.8L629.5 486.5L630.0 488.8L628.9 491.0L626.7 492.8L627.2 495.6L628.9 497.8L630.7 499.6L634.6 500.3L637.9 501.3L640.2 502.9L641.4 505.2L642.0 507.0M629.5 486.5L627.7 488.2L624.4 490.0L621.0 491.0L617.6 491.6L614.2 492.8L611.4 493.3L608.5 492.2L605.7 490.5L602.9 489.3L599.4 490.0L596.1 488.8L592.7 489.3L589.2 490.0L587.0 489.3M587.0 465.9L592.1 463.3L596.6 461.6L601.2 460.7L599.4 462.1L595.5 463.8L592.1 466.1L589.8 468.4L592.1 469.6L596.1 470.6L599.4 471.8L602.3 472.4L604.0 470.6L606.3 468.9L608.0 470.1L609.6 471.8L613.1 473.4L617.6 475.2L621.6 476.4L619.3 478.0L617.0 479.2L614.2 479.7L612.5 481.4L609.6 482.0L606.8 483.4L604.0 482.9L601.2 483.7L597.8 484.2L594.9 483.7L592.1 484.2L589.2 483.4L587.0 483.2M587.0 475.7L591.0 474.6L593.8 474.1L595.5 475.7L594.3 477.4L592.7 478.6L594.9 480.2L593.3 482.0L590.4 482.5L587.0 482.0M593.3 485.2L594.9 486.5L593.8 487.5L592.7 486.0L593.3 485.2M598.9 484.8L601.2 485.4L599.7 486.5L598.9 484.8M591.5 507.0L593.8 503.6L597.8 501.5L601.2 502.9L602.9 505.2L601.7 507.0M827.0 496.1L815.8 499.0L809.0 500.6L805.0 502.4L807.9 507.0M842.8 431.0L847.4 433.9L851.9 436.1L856.5 438.4L862.1 438.7L863.2 440.6L865.5 444.6L867.8 448.5L870.6 452.0L873.5 455.0L878.0 455.0L882.5 455.3L888.2 455.8L895.0 456.2L901.8 456.8L907.5 457.0L912.8 456.5M873.5 455.0L871.2 456.5L870.0 459.3L869.5 462.8L868.4 464.4L865.5 465.0L862.7 465.2L858.8 466.1L855.3 467.3L851.9 470.1L848.6 473.4L845.1 476.9L841.7 479.7L838.4 480.2L836.1 479.9L835.5 482.0L834.4 485.4L834.9 488.8L835.5 492.2L836.1 494.3M882.5 455.3L884.2 459.3L886.5 463.3L888.8 467.3L886.5 469.6L889.3 472.4L892.7 474.6L895.0 476.4L894.4 479.2L897.3 479.2L900.6 477.4L905.2 475.7L909.7 475.2M827.0 496.8L831.5 495.0L836.1 494.3L840.6 493.3L845.1 492.8L849.6 492.4L854.2 492.8L858.8 493.8L862.1 495.6L866.7 497.8L871.2 500.1L875.7 502.2L879.1 503.6L879.7 499.0L880.0 494.5L882.5 493.8L885.9 495.0L889.3 496.8L892.2 497.8L895.0 496.1L897.3 496.8L899.5 495.0L902.4 496.8L905.2 499.0L908.5 501.3L912.0 502.9L914.3 501.8L915.9 503.6L919.9 505.8L922.2 507.0M912.9 456.2L918.0 456.2L923.6 456.8L929.4 458.2L933.8 460.3L938.4 461.8L944.0 463.3L948.6 464.8L953.1 465.6L957.7 465.2L961.0 465.0L961.6 467.1L964.4 467.5L966.7 467.5M909.7 475.2L913.4 475.7L915.2 478.0L913.4 480.9L911.1 483.2L908.3 485.4L906.7 486.5L910.6 486.5L914.1 488.2L916.9 490.0L919.7 491.6L922.0 493.3L922.5 495.6L924.8 496.5L927.1 498.4L929.9 499.6L932.7 498.8L933.8 496.8L932.7 495.0L935.5 493.8L939.6 493.1L942.9 493.8L945.2 494.5L948.0 493.1L951.4 491.6L954.9 491.0L957.1 492.2L958.2 495.0L956.5 497.8L954.2 500.1L951.4 501.8L949.8 504.1L950.3 507.0M642.0 507.0L642.5 510.4L643.0 513.3L641.4 514.9L639.7 516.1L636.9 516.6L640.2 517.1L643.7 518.3L647.1 520.1L649.9 521.7L652.1 523.9L653.3 527.4L655.0 529.1L658.4 530.2L661.8 532.5L665.2 533.7L668.6 534.2L672.0 534.2L674.3 534.2M601.7 507.0L603.5 509.8L604.0 513.8L604.2 518.3L605.7 521.5L609.1 519.7L613.1 518.1L617.0 516.1L621.0 514.0L624.9 512.9L627.7 513.3L629.5 514.7L632.8 513.6L636.9 512.6L640.2 511.8L642.3 511.0M605.7 521.5L609.6 520.4L614.2 518.9L618.7 518.1L623.3 516.9L627.7 516.3L632.3 516.9L636.3 517.5L638.6 515.9L641.4 514.7L643.0 513.3M605.7 521.5L602.9 525.1L600.6 527.9L602.9 529.7L604.5 532.5L605.1 536.5L604.0 539.8L601.2 542.1L598.9 545.0L598.4 548.3L597.2 550.6L593.8 551.2L590.4 550.9L587.0 551.8M587.0 553.5L589.2 554.6L591.0 556.9L589.2 559.1L587.0 559.7M674.3 534.2L669.7 534.7L666.4 537.0L664.1 539.3L662.3 542.7L659.5 542.1L655.0 543.3L650.4 544.4L646.0 544.1L641.4 543.0L636.9 542.1L632.3 542.7L628.9 544.4L629.5 547.3L631.8 550.1L632.8 552.3L631.8 554.6L633.5 556.9L634.6 560.3L636.9 563.1L640.2 563.7L639.1 565.9L642.5 567.6L645.3 568.7L643.7 571.6L640.2 573.9L637.9 576.2L636.9 579.5L636.9 583.1M674.3 534.2L675.4 537.5L677.1 541.0L679.9 543.3L683.3 545.5L685.6 546.7L683.9 549.5L682.7 552.3L684.5 554.6L686.7 556.9L689.0 559.1L690.7 561.9L689.6 564.2L686.7 565.9L684.5 567.1L682.7 564.8L679.9 565.9L679.4 568.7L681.0 571.6L682.7 575.0L683.3 578.4L686.1 579.5L687.8 581.8L689.0 583.1M685.6 546.7L689.0 545.5L693.5 544.4L695.2 541.0L697.5 538.2L699.2 535.3L701.5 534.4L704.9 534.7L707.0 535.3M707.0 535.3L710.4 535.9L713.8 537.0L717.2 535.9L720.0 533.7L722.3 531.4L725.1 531.9L727.4 531.7L729.7 534.2L734.1 535.6L738.7 534.7L741.0 535.3L744.4 533.7L747.8 532.1L752.4 530.7L755.7 532.1L759.1 530.7L761.9 529.7L763.1 527.4L765.9 526.0L770.5 525.1L775.0 524.3L779.5 524.6L784.0 523.7L787.5 523.4L790.9 524.9L795.4 526.2L798.8 527.6L801.1 527.9M801.1 527.9L804.4 526.9L809.0 527.2L813.5 528.3L816.4 527.4L815.8 523.9L813.0 521.7L813.5 518.9L816.9 517.8L818.6 516.1L817.4 513.3L814.6 511.0L811.3 509.8L809.0 508.1L808.4 507.0M801.1 527.9L801.6 531.4L799.9 534.2L798.6 537.0L799.9 539.8L802.1 541.0L801.6 545.0L802.8 547.3L800.5 549.5L802.1 551.8L804.4 553.5L805.0 555.8L807.9 557.4L810.7 559.1L813.5 559.7L816.4 558.0L818.6 557.4L820.4 559.7L823.7 561.9L827.0 562.8M827.0 562.6L831.5 563.4L836.1 563.9L840.6 565.4L844.0 565.9L847.4 566.5L850.8 565.9L854.2 564.8L857.0 567.6L859.8 569.4L862.1 571.0L863.2 573.9L866.1 575.0L867.8 575.5L870.6 575.0L871.8 572.7L874.6 573.9L876.9 575.0L878.0 572.2L880.8 571.6L883.1 570.5L884.2 567.6L884.8 565.9M884.8 565.9L884.2 562.6L885.9 559.1L886.5 556.3L884.8 554.1L884.2 551.8L886.5 550.4L890.4 550.9L895.0 551.8L897.3 553.5L899.5 556.9L901.8 559.1L905.2 561.4L908.5 562.6L911.5 561.2L913.1 563.1L916.6 564.8L918.7 566.5L921.0 564.8L923.8 563.7L925.0 560.8L927.8 559.1L930.7 558.6L932.9 556.9M884.8 565.9L888.2 566.5L891.6 567.6L893.9 569.9L895.5 572.7L896.7 575.0L899.5 577.8L900.6 579.5L898.3 580.7L899.5 583.1M923.3 507.0L926.8 508.7L930.1 510.4L932.9 512.1L934.0 510.4L935.8 512.1L938.6 513.8L940.3 517.1L941.4 520.6L943.1 523.9L944.9 526.2L945.4 529.1L943.1 531.4L940.3 533.7L938.6 535.3L937.0 538.2L934.0 539.8L931.9 542.7L934.0 544.4L936.3 545.5L935.2 547.8L931.9 548.3L927.8 547.3L923.8 546.1L921.7 547.8L922.2 550.1L925.6 551.8L928.9 552.3L931.2 553.5L932.9 555.8L932.9 556.9L934.7 558.6L937.0 556.9L938.6 554.1L937.0 551.8L939.2 549.5L942.6 547.3L944.9 547.8L947.0 550.6M947.0 550.6L948.6 552.3L952.0 553.5L955.4 554.6L957.7 556.9L959.3 560.3L961.0 562.6L963.3 564.2L966.7 565.1M949.1 507.0L952.0 509.3L956.5 511.5L960.0 512.6L963.3 512.1L964.4 514.3L966.7 516.1M636.9 583.0L634.6 585.2L631.8 588.1L629.5 589.8L630.7 591.5L627.2 593.2L624.9 594.3L623.3 597.8L621.0 601.1L617.6 604.0L614.2 606.3L611.9 609.6L609.6 612.4L607.4 615.9L604.0 616.7L600.6 617.6L597.2 618.4L594.9 615.9L592.1 615.3L589.2 616.4L587.0 618.1M587.0 630.0L589.8 632.8L589.2 636.3L592.1 639.6L594.9 640.8L596.1 644.8L597.8 647.6M688.9 583.0L693.5 584.2L697.4 585.9L699.1 588.1L702.5 589.2L705.4 591.0L708.0 593.0M708.0 593.0L709.6 590.4L711.9 589.2L715.4 589.2L718.2 591.0L719.8 593.0L723.3 594.3L726.7 596.6L730.0 598.3L732.3 600.6L735.1 602.8L737.9 601.1L740.2 601.7L742.5 604.5L744.8 606.3L748.2 608.5L751.1 608.9L752.1 610.8L755.0 611.9L757.8 611.3L759.5 613.6L761.8 615.3L763.5 613.6L766.4 614.7L768.6 613.8L771.5 615.3L774.3 616.4L777.6 616.7L781.1 616.1L783.9 615.9M708.0 593.0L705.7 592.0L702.9 594.3L700.6 597.2L698.9 600.6L697.8 604.0L696.6 606.3L699.4 607.4L702.9 608.9L706.3 610.2L709.1 612.6L712.5 614.2L716.5 616.4L719.8 617.6L723.3 618.4L726.7 620.4L730.0 621.5L732.3 622.5L735.8 620.9L739.1 621.5L741.4 620.4L743.7 622.1L746.0 624.4L748.8 626.0L752.1 627.7L755.0 628.3L758.4 628.9L761.8 630.0L765.2 631.2L768.6 632.3L771.5 631.2L774.3 631.7L777.6 632.3L781.1 632.0L783.9 631.5L784.7 628.3L783.3 624.9L783.9 620.4L783.9 615.9M783.9 615.9L786.7 614.7L789.6 613.8L791.8 615.9L792.4 619.2L791.8 622.7M784.7 631.7L786.7 630.6L788.4 632.3L786.7 634.5L784.5 636.3L783.9 639.1L785.6 640.8L789.0 641.9L791.8 643.1L793.5 644.8L791.3 645.9L787.8 646.4L787.3 647.6M786.7 630.6L789.6 631.7L792.4 632.8L794.1 632.3L795.7 634.0L799.2 634.5L800.8 636.3L801.5 639.6L802.6 643.1L804.3 644.8L807.0 645.3M791.7 622.7L793.8 620.4L796.6 616.4L800.1 613.8L804.0 612.2L807.4 612.6L811.9 613.6L816.5 614.2L819.8 615.3L822.1 617.0L823.3 619.9L826.1 621.5L827.7 623.2L826.7 626.0L824.4 627.7L819.8 628.3L815.4 628.1L810.8 627.7L806.3 628.9L802.9 629.5L798.3 628.3L794.9 627.2L792.7 625.5L791.7 622.7M822.1 617.0L825.6 617.6L828.9 617.0L832.3 615.3L834.6 613.1L837.4 611.3L839.7 609.1L842.5 608.5L846.0 606.8L848.2 604.5L850.4 602.8L853.3 601.1L856.2 601.7L858.4 603.4L861.8 602.8L865.2 601.1L868.0 600.0L870.8 599.8L873.1 601.7L873.7 604.5L872.0 606.8L873.1 609.6L876.0 610.8L878.8 611.3L882.2 611.9L883.4 613.1M883.4 613.1L885.5 610.2L888.4 609.6L890.6 611.3L892.9 612.6L894.1 617.0L895.7 619.2L898.6 622.1L899.8 627.2L899.2 631.7L897.5 636.3L894.7 639.1L892.4 641.9L890.1 644.8L888.4 647.6M883.4 613.1L882.0 616.4L879.7 619.2L878.0 621.5L880.5 624.0L877.1 622.1L873.1 623.2L869.7 624.9L866.4 626.7L862.9 628.9L860.6 631.7L859.5 634.5L860.6 636.8L859.0 639.6L856.7 642.5L855.0 645.3L854.4 647.6M899.2 583.0L900.3 586.4L901.5 589.8L902.0 594.3L902.6 598.8L903.1 602.8L900.8 604.0L898.6 605.1L897.5 607.4L895.7 609.6L894.1 611.3L892.9 612.6M787.0 630.6L789.2 631.7L791.5 632.8L793.8 633.5L797.2 634.0L800.6 635.1L801.7 638.5L802.3 641.9L804.0 644.8L807.4 645.3L811.9 645.1L816.5 645.5L821.0 645.9L825.6 646.4L830.0 647.6M787.0 640.8L789.2 643.1L791.5 645.3L793.3 647.6M903.2 602.8L903.9 606.8L905.0 610.2L906.0 612.4L907.2 609.6L909.5 606.8L911.1 609.1L912.9 611.3L914.6 613.1L915.7 615.9L918.5 616.4L920.3 617.0L922.0 619.9L923.6 622.7L925.4 625.5L927.6 627.7L929.4 630.6L931.0 634.0L933.3 635.7L936.1 635.1L939.6 634.0L942.9 633.5L945.2 631.7L945.7 628.3L944.0 626.0L945.2 622.7L947.5 620.4L949.1 617.0L950.8 614.2L953.1 611.3L954.2 609.1L957.7 608.5L960.0 610.2L960.5 613.6L963.3 615.9L966.7 615.3M966.7 622.1L963.3 622.1L960.0 621.5L956.5 621.5L953.7 623.2L952.0 625.5L953.7 627.7L953.1 630.6L956.5 629.5L960.0 629.5L962.8 631.2L963.9 634.0L962.2 636.8L960.5 639.6L961.6 642.5L963.9 644.8L965.6 646.4L966.7 647.6" stroke="#111" stroke-width="0.75" fill="none" stroke-linejoin="round" opacity=".9"/>
<rect x="587.40" y="431.80" width="379.60" height="215.80" fill="none" stroke="#444" stroke-width=".6"/>
<path d="M587.40 647.60H967.00" stroke="#111" stroke-width=".9"/>
<text class="title" x="777.2" y="427.3" font-size="12.12" text-anchor="middle">(d) Matching count for cloudy-sky condition</text>
<text x="587.4" y="656.2" font-size="6.00" text-anchor="middle">70°E</text>
<text x="641.6" y="656.2" font-size="6.00" text-anchor="middle">75°E</text>
<text x="695.9" y="656.2" font-size="6.00" text-anchor="middle">80°E</text>
<text x="750.1" y="656.2" font-size="6.00" text-anchor="middle">85°E</text>
<text x="804.3" y="656.2" font-size="6.00" text-anchor="middle">90°E</text>
<text x="858.5" y="656.2" font-size="6.00" text-anchor="middle">95°E</text>
<text x="912.8" y="656.2" font-size="6.00" text-anchor="middle">100°E</text>
<text x="967.0" y="656.2" font-size="6.00" text-anchor="middle">105°E</text>
<text x="583.1" y="434.0" font-size="6.00" text-anchor="end">45°N</text>
<text x="583.1" y="487.9" font-size="6.00" text-anchor="end">40°N</text>
<text x="583.1" y="541.9" font-size="6.00" text-anchor="end">35°N</text>
<text x="583.1" y="595.8" font-size="6.00" text-anchor="end">30°N</text>
<text x="583.1" y="649.8" font-size="6.00" text-anchor="end">25°N</text>
<rect x="974.50" y="431.80" width="19.20" height="215.80" fill="url(#gPurples)" stroke="#000" stroke-width=".6"/>
<text x="997.9" y="649.7" font-size="5.70">0</text>
<text x="997.9" y="620.3" font-size="5.70">200</text>
<text x="997.9" y="590.9" font-size="5.70">400</text>
<text x="997.9" y="561.6" font-size="5.70">600</text>
<text x="997.9" y="532.2" font-size="5.70">800</text>
<text x="997.9" y="502.8" font-size="5.70">1000</text>
<text x="997.9" y="473.5" font-size="5.70">1200</text>
<text x="997.9" y="444.1" font-size="5.70">1400</text>
<path d="M993.70 647.60h2M993.70 618.24h2M993.70 588.88h2M993.70 559.52h2M993.70 530.16h2M993.70 500.80h2M993.70 471.44h2M993.70 442.08h2" stroke="#000" stroke-width=".6"/>
<text class="cbl" transform="translate(1019.7 539.7) rotate(-90)" font-size="6.10" text-anchor="middle">Fractional Agreement</text>
</g>
</svg></body></html>
